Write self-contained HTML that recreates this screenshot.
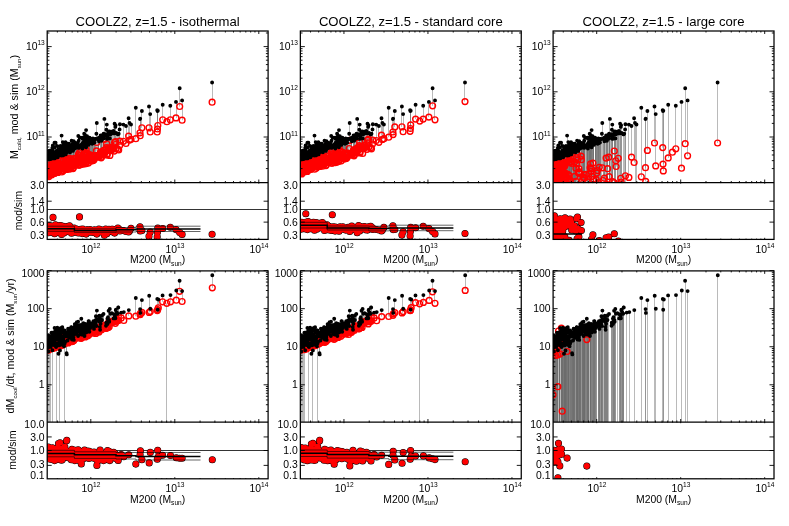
<!DOCTYPE html>
<html lang="en"><head><meta charset="utf-8"><title>COOLZ2 z=1.5 cooling comparison</title>
<style>html,body{margin:0;padding:0;background:#fff;}body{width:789px;height:526px;overflow:hidden;}svg{display:block;will-change:transform;font-family:"Liberation Sans",sans-serif;fill:#000;}.fr{fill:none;stroke:#000;stroke-width:1.25;}.tk{fill:none;stroke:#000;stroke-width:0.9;}.ln{fill:none;stroke:#6c6c6c;stroke-width:1.00;stroke-opacity:0.47;}.rg{fill:none;stroke:#ff0000;stroke-width:1.4;}.bk{fill:none;stroke:#000;stroke-width:3.9;stroke-linecap:round;}.rk{fill:none;stroke:#000;stroke-width:7.1;stroke-linecap:round;}.rc{fill:none;stroke:#ff0000;stroke-width:6.1;stroke-linecap:round;}.md{fill:none;stroke:#000;stroke-width:1.5;}.sg{fill:none;stroke:#000;stroke-width:0.6;}.one{fill:none;stroke:#000;stroke-width:0.8;}</style></head><body>
<svg width="789" height="526" viewBox="0 0 789 526">
<rect x="0" y="0" width="789" height="526" fill="#fff"/>
<defs>
<clipPath id="ct0"><rect x="47.20" y="31.00" width="220.90" height="151.50"/></clipPath>
<clipPath id="cr0"><rect x="47.20" y="182.50" width="220.90" height="56.90"/></clipPath>
<clipPath id="cb0"><rect x="47.20" y="270.90" width="220.90" height="151.10"/></clipPath>
<clipPath id="cs0"><rect x="47.20" y="422.00" width="220.90" height="56.80"/></clipPath>
<clipPath id="ct1"><rect x="300.35" y="31.00" width="220.90" height="151.50"/></clipPath>
<clipPath id="cr1"><rect x="300.35" y="182.50" width="220.90" height="56.90"/></clipPath>
<clipPath id="cb1"><rect x="300.35" y="270.90" width="220.90" height="151.10"/></clipPath>
<clipPath id="cs1"><rect x="300.35" y="422.00" width="220.90" height="56.80"/></clipPath>
<clipPath id="ct2"><rect x="553.10" y="31.00" width="220.90" height="151.50"/></clipPath>
<clipPath id="cr2"><rect x="553.10" y="182.50" width="220.90" height="56.90"/></clipPath>
<clipPath id="cb2"><rect x="553.10" y="270.90" width="220.90" height="151.10"/></clipPath>
<clipPath id="cs2"><rect x="553.10" y="422.00" width="220.90" height="56.80"/></clipPath>
</defs>
<text x="157.65" y="26.40" font-size="13.10" text-anchor="middle">COOLZ2, z=1.5 - isothermal</text>
<g clip-path="url(#ct0)">
<path class="ln" d="M47.5 152.1V168.1M48.5 151.3V166.9M48.5 155.6V169.0M48.5 157.0V175.5M49.5 150.7V167.3M49.5 154.9V172.8M49.5 155.9V169.0M49.5 159.2V172.7M50.5 156.5V170.2M50.5 159.0V173.0M51.5 155.3V169.2M51.5 156.6V173.0M52.5 148.0V164.4M52.5 153.6V169.6M52.5 154.7V161.0M53.5 153.1V169.2M53.5 157.5V171.6M54.5 154.3V169.5M55.5 152.7V164.8M55.5 154.8V169.6M56.5 153.7V169.6M57.5 150.7V166.2M57.5 152.0V167.1M58.5 149.1V163.3M58.5 152.8V166.8M59.5 151.0V164.4M59.5 154.4V169.3M60.5 149.4V166.0M60.5 153.0V168.8M61.5 149.5V165.2M61.5 152.8V168.4M63.5 144.4V159.8M63.5 150.6V165.6M63.5 152.5V168.3M64.5 149.3V165.3M65.5 145.1V159.5M65.5 149.3V163.9M65.5 151.8V167.5M66.5 150.1V163.7M67.5 149.1V166.0M68.5 145.6V160.7M68.5 150.2V165.0M69.5 149.1V164.9M70.5 148.6V163.7M70.5 152.3V167.4M72.5 144.5V161.1M73.5 145.9V162.4M73.5 149.3V164.3M74.5 146.7V164.3M76.5 143.6V160.5M77.5 143.9V161.0M78.5 136.0V154.6M78.5 145.6V162.0M79.5 146.9V165.2M81.5 145.6V162.7M82.5 148.6V164.2M83.5 146.0V162.7M84.5 146.3V164.0M85.5 143.4V159.9M86.5 144.9V162.0M87.5 139.9V156.3M88.5 144.9V162.9M89.5 142.4V159.4M91.5 138.9V155.7M92.5 138.9V156.1M93.5 143.2V160.3M95.5 138.9V156.4M97.5 138.8V156.0M98.5 141.2V157.2M101.5 137.9V154.0M103.5 133.8V150.4M103.5 138.6V154.8M106.5 124.6V143.8M108.5 131.8V148.2M109.5 138.4V155.4M111.5 132.1V149.7M114.5 133.4V151.1M117.5 134.4V149.2M123.5 124.6V141.3M131.5 124.5V139.3M141.5 111.0V127.8M157.5 110.7V125.5M176.5 101.9V117.9"/>
<path class="ln" d="M47.5 156.4V170.1M48.5 152.2V165.1M48.5 156.1V169.8M48.5 157.5V173.1M49.5 153.0V167.5M49.5 155.6V168.8M49.5 156.2V169.5M50.5 151.6V169.3M50.5 157.2V171.2M51.5 153.6V168.5M51.5 155.7V169.7M51.5 156.8V173.1M52.5 150.1V165.9M52.5 154.2V171.2M52.5 156.6V172.8M53.5 154.6V170.0M54.5 142.7V162.0M54.5 156.7V173.3M55.5 153.5V170.5M55.5 156.0V172.0M56.5 156.8V170.2M57.5 151.5V166.9M57.5 154.1V167.9M58.5 150.3V165.3M58.5 153.8V172.0M59.5 152.1V167.9M59.5 155.4V170.0M60.5 151.9V168.7M60.5 153.1V165.8M61.5 149.7V166.1M61.5 153.6V167.6M63.5 147.1V165.3M63.5 150.8V164.8M63.5 155.3V168.7M64.5 151.3V165.9M65.5 146.9V163.4M65.5 150.4V165.0M65.5 154.4V169.1M66.5 151.2V167.2M67.5 149.7V165.5M68.5 146.1V161.6M69.5 145.6V158.4M69.5 149.7V165.9M70.5 150.0V165.4M71.5 140.8V159.6M72.5 148.6V166.5M73.5 146.3V163.9M73.5 150.0V167.4M75.5 142.9V158.4M76.5 145.4V163.6M77.5 144.9V162.4M78.5 140.7V157.0M78.5 147.9V165.1M80.5 146.1V161.8M82.5 137.6V156.8M83.5 143.5V160.5M84.5 133.7V151.9M85.5 135.8V152.9M86.5 130.1V149.6M86.5 147.3V163.7M87.5 140.7V158.1M89.5 137.8V154.6M90.5 140.4V157.5M91.5 142.0V159.8M92.5 141.9V159.5M94.5 139.4V156.5M95.5 139.0V155.5M98.5 137.8V154.5M100.5 135.5V151.8M101.5 139.9V157.8M103.5 135.3V151.9M104.5 118.9V139.3M106.5 129.8V147.7M108.5 133.8V150.6M110.5 132.6V149.4M112.5 133.2V148.8M115.5 125.3V141.5M118.5 133.7V150.0M126.5 126.0V143.5M135.5 107.7V138.7M149.5 106.5V127.8M157.5 111.0V129.0M179.5 88.2V106.5"/>
<path class="ln" d="M47.5 156.7V172.2M48.5 152.9V170.0M48.5 156.4V174.1M48.5 159.1V174.6M49.5 153.6V169.6M49.5 155.7V172.3M49.5 157.9V175.0M50.5 153.5V168.2M50.5 157.6V172.9M51.5 154.2V169.7M51.5 156.2V173.2M51.5 158.5V174.8M52.5 150.9V167.0M52.5 154.3V171.4M53.5 151.8V170.3M53.5 155.9V170.3M54.5 147.3V162.8M54.5 158.4V173.0M55.5 153.6V168.3M55.5 158.0V172.9M57.5 146.0V162.7M57.5 151.5V167.4M57.5 156.5V170.5M58.5 150.5V165.6M58.5 154.3V168.1M59.5 152.1V167.6M60.5 146.0V160.1M60.5 151.9V165.5M61.5 135.6V155.4M61.5 150.6V166.6M61.5 155.6V172.0M63.5 147.2V163.9M63.5 151.3V165.1M63.5 155.4V170.8M64.5 153.1V168.8M65.5 147.7V161.7M65.5 150.7V166.0M66.5 143.2V160.7M66.5 152.8V169.4M67.5 152.0V169.1M68.5 148.9V162.5M69.5 147.3V162.6M69.5 151.0V165.5M70.5 150.4V166.5M71.5 145.4V162.0M73.5 141.1V158.7M73.5 146.9V162.6M73.5 150.9V168.6M75.5 145.7V163.2M76.5 147.3V163.4M77.5 145.6V163.4M78.5 144.6V161.0M79.5 137.5V155.7M80.5 146.6V164.7M82.5 138.7V156.0M83.5 145.1V162.8M84.5 139.2V157.3M85.5 135.8V154.2M86.5 139.4V157.6M87.5 136.3V153.2M87.5 142.9V159.1M89.5 141.5V157.4M90.5 142.0V160.0M91.5 143.1V161.0M92.5 143.8V160.7M94.5 140.1V157.2M96.5 123.0V142.5M98.5 139.6V156.3M100.5 137.6V154.1M101.5 140.7V157.2M103.5 135.7V152.6M105.5 134.1V149.7M107.5 136.5V153.8M109.5 131.4V148.4M110.5 134.4V150.6M113.5 130.9V148.8M115.5 126.9V144.5M119.5 124.2V141.2M128.5 118.2V136.1M140.5 118.6V135.7M150.5 114.1V132.0M162.5 104.7V119.8M182.5 100.4V120.2"/>
<path class="ln" d="M47.5 158.4V173.4M48.5 155.2V171.3M48.5 156.8V173.9M48.5 159.3V176.6M49.5 154.9V170.1M49.5 155.8V173.1M49.5 158.3V172.8M50.5 155.8V171.5M50.5 158.6V174.1M51.5 154.3V167.4M51.5 156.4V172.0M52.5 145.4V158.7M52.5 151.0V167.6M52.5 154.4V172.7M53.5 152.4V170.1M53.5 156.7V173.1M54.5 152.3V166.6M55.5 142.8V158.8M55.5 154.5V170.1M56.5 150.7V168.4M57.5 150.1V163.7M57.5 151.9V168.1M57.5 157.3V172.4M58.5 150.9V167.6M58.5 154.5V171.9M59.5 153.1V166.0M60.5 149.0V164.6M60.5 152.2V168.6M61.5 148.9V166.2M61.5 150.7V165.2M62.5 142.1V156.0M63.5 149.3V168.0M63.5 151.3V169.5M64.5 146.7V164.5M65.5 142.1V157.5M65.5 148.9V164.3M65.5 151.8V166.2M66.5 147.0V162.8M67.5 147.6V162.7M68.5 143.7V159.9M68.5 149.0V165.9M69.5 148.5V165.2M69.5 151.2V169.1M70.5 151.2V167.7M71.5 149.3V166.0M73.5 144.3V161.1M73.5 147.3V165.0M74.5 146.5V161.3M75.5 148.1V165.0M77.5 143.1V160.2M77.5 146.3V162.5M78.5 145.2V161.6M79.5 146.7V152.6M81.5 144.0V160.5M82.5 142.7V158.3M83.5 145.6V162.4M84.5 140.1V157.5M85.5 142.2V159.3M86.5 142.5V158.5M87.5 139.1V156.5M88.5 141.0V158.5M89.5 142.4V158.4M90.5 143.1V161.0M92.5 138.5V156.8M93.5 142.6V159.9M94.5 142.6V158.8M96.5 133.7V150.9M98.5 140.7V156.2M101.5 135.5V152.3M102.5 138.6V154.9M103.5 136.9V154.0M105.5 134.8V151.9M107.5 138.9V155.1M109.5 132.7V148.4M111.5 131.7V147.3M114.5 123.7V142.4M116.5 133.0V148.6M119.5 129.4V145.4M129.5 123.0V140.1M140.5 119.1V132.8M157.5 110.2V132.0M170.5 105.7V119.8M212.5 82.5V102.2"/>
<g class="rg"><circle cx="47.5" cy="172.2" r="2.9"/><circle cx="47.7" cy="173.4" r="2.9"/><circle cx="47.8" cy="170.1" r="2.9"/><circle cx="47.8" cy="168.1" r="2.9"/><circle cx="48.2" cy="166.9" r="2.9"/><circle cx="48.2" cy="173.9" r="2.9"/><circle cx="48.3" cy="173.1" r="2.9"/><circle cx="48.4" cy="170.0" r="2.9"/><circle cx="48.5" cy="174.6" r="2.9"/><circle cx="48.6" cy="169.0" r="2.9"/><circle cx="48.6" cy="171.3" r="2.9"/><circle cx="48.7" cy="175.5" r="2.9"/><circle cx="48.8" cy="169.8" r="2.9"/><circle cx="48.8" cy="165.1" r="2.9"/><circle cx="48.9" cy="176.6" r="2.9"/><circle cx="49.0" cy="174.1" r="2.9"/><circle cx="49.1" cy="175.0" r="2.9"/><circle cx="49.2" cy="169.6" r="2.9"/><circle cx="49.2" cy="172.7" r="2.9"/><circle cx="49.2" cy="170.1" r="2.9"/><circle cx="49.3" cy="169.0" r="2.9"/><circle cx="49.4" cy="167.5" r="2.9"/><circle cx="49.4" cy="173.1" r="2.9"/><circle cx="49.5" cy="168.8" r="2.9"/><circle cx="49.6" cy="172.3" r="2.9"/><circle cx="49.7" cy="167.3" r="2.9"/><circle cx="49.8" cy="169.5" r="2.9"/><circle cx="49.8" cy="172.8" r="2.9"/><circle cx="49.9" cy="172.8" r="2.9"/><circle cx="50.4" cy="168.2" r="2.9"/><circle cx="50.4" cy="171.5" r="2.9"/><circle cx="50.4" cy="171.2" r="2.9"/><circle cx="50.5" cy="174.1" r="2.9"/><circle cx="50.7" cy="172.9" r="2.9"/><circle cx="50.9" cy="169.3" r="2.9"/><circle cx="50.9" cy="170.2" r="2.9"/><circle cx="50.9" cy="173.0" r="2.9"/><circle cx="51.2" cy="169.7" r="2.9"/><circle cx="51.3" cy="167.4" r="2.9"/><circle cx="51.4" cy="173.2" r="2.9"/><circle cx="51.7" cy="169.7" r="2.9"/><circle cx="51.8" cy="173.1" r="2.9"/><circle cx="51.8" cy="169.2" r="2.9"/><circle cx="51.8" cy="174.8" r="2.9"/><circle cx="51.9" cy="172.0" r="2.9"/><circle cx="51.9" cy="168.5" r="2.9"/><circle cx="52.0" cy="173.0" r="2.9"/><circle cx="52.3" cy="171.4" r="2.9"/><circle cx="52.3" cy="164.4" r="2.9"/><circle cx="52.3" cy="171.2" r="2.9"/><circle cx="52.4" cy="167.6" r="2.9"/><circle cx="52.4" cy="165.9" r="2.9"/><circle cx="52.8" cy="169.6" r="2.9"/><circle cx="52.8" cy="158.7" r="2.9"/><circle cx="52.8" cy="167.0" r="2.9"/><circle cx="52.9" cy="172.7" r="2.9"/><circle cx="53.0" cy="172.8" r="2.9"/><circle cx="53.0" cy="161.0" r="2.9"/><circle cx="53.1" cy="170.3" r="2.9"/><circle cx="53.1" cy="170.1" r="2.9"/><circle cx="53.1" cy="170.3" r="2.9"/><circle cx="53.5" cy="173.1" r="2.9"/><circle cx="53.6" cy="169.2" r="2.9"/><circle cx="53.8" cy="170.0" r="2.9"/><circle cx="54.0" cy="171.6" r="2.9"/><circle cx="54.1" cy="166.6" r="2.9"/><circle cx="54.4" cy="162.8" r="2.9"/><circle cx="54.5" cy="173.3" r="2.9"/><circle cx="54.7" cy="173.0" r="2.9"/><circle cx="54.8" cy="169.5" r="2.9"/><circle cx="55.1" cy="172.9" r="2.9"/><circle cx="55.4" cy="164.8" r="2.9"/><circle cx="55.4" cy="169.6" r="2.9"/><circle cx="55.5" cy="168.3" r="2.9"/><circle cx="55.6" cy="158.8" r="2.9"/><circle cx="55.8" cy="170.1" r="2.9"/><circle cx="55.8" cy="172.0" r="2.9"/><circle cx="56.0" cy="170.5" r="2.9"/><circle cx="56.0" cy="169.6" r="2.9"/><circle cx="56.5" cy="170.2" r="2.9"/><circle cx="56.9" cy="168.4" r="2.9"/><circle cx="57.0" cy="163.7" r="2.9"/><circle cx="57.1" cy="162.7" r="2.9"/><circle cx="57.2" cy="166.2" r="2.9"/><circle cx="57.2" cy="170.5" r="2.9"/><circle cx="57.2" cy="167.9" r="2.9"/><circle cx="57.2" cy="166.9" r="2.9"/><circle cx="57.4" cy="167.1" r="2.9"/><circle cx="57.7" cy="172.4" r="2.9"/><circle cx="57.7" cy="168.1" r="2.9"/><circle cx="57.7" cy="167.4" r="2.9"/><circle cx="58.1" cy="172.0" r="2.9"/><circle cx="58.2" cy="171.9" r="2.9"/><circle cx="58.5" cy="165.6" r="2.9"/><circle cx="58.5" cy="167.6" r="2.9"/><circle cx="58.5" cy="165.3" r="2.9"/><circle cx="58.6" cy="168.1" r="2.9"/><circle cx="58.8" cy="166.8" r="2.9"/><circle cx="58.9" cy="163.3" r="2.9"/><circle cx="59.2" cy="170.0" r="2.9"/><circle cx="59.3" cy="169.3" r="2.9"/><circle cx="59.3" cy="167.6" r="2.9"/><circle cx="59.4" cy="167.9" r="2.9"/><circle cx="59.5" cy="166.0" r="2.9"/><circle cx="59.7" cy="164.4" r="2.9"/><circle cx="60.0" cy="166.0" r="2.9"/><circle cx="60.4" cy="168.8" r="2.9"/><circle cx="60.5" cy="160.1" r="2.9"/><circle cx="60.6" cy="165.8" r="2.9"/><circle cx="60.7" cy="164.6" r="2.9"/><circle cx="60.8" cy="165.5" r="2.9"/><circle cx="60.8" cy="168.7" r="2.9"/><circle cx="60.8" cy="168.6" r="2.9"/><circle cx="61.0" cy="166.1" r="2.9"/><circle cx="61.2" cy="166.2" r="2.9"/><circle cx="61.2" cy="166.6" r="2.9"/><circle cx="61.2" cy="165.2" r="2.9"/><circle cx="61.3" cy="165.2" r="2.9"/><circle cx="61.6" cy="168.4" r="2.9"/><circle cx="61.7" cy="167.6" r="2.9"/><circle cx="61.8" cy="172.0" r="2.9"/><circle cx="62.8" cy="156.0" r="2.9"/><circle cx="63.2" cy="170.8" r="2.9"/><circle cx="63.3" cy="168.7" r="2.9"/><circle cx="63.3" cy="164.8" r="2.9"/><circle cx="63.5" cy="163.9" r="2.9"/><circle cx="63.6" cy="159.8" r="2.9"/><circle cx="63.6" cy="169.5" r="2.9"/><circle cx="63.7" cy="165.3" r="2.9"/><circle cx="63.8" cy="165.1" r="2.9"/><circle cx="63.9" cy="165.6" r="2.9"/><circle cx="63.9" cy="168.0" r="2.9"/><circle cx="63.9" cy="168.3" r="2.9"/><circle cx="64.5" cy="168.8" r="2.9"/><circle cx="64.6" cy="164.5" r="2.9"/><circle cx="64.8" cy="165.9" r="2.9"/><circle cx="65.0" cy="165.3" r="2.9"/><circle cx="65.1" cy="164.3" r="2.9"/><circle cx="65.2" cy="159.5" r="2.9"/><circle cx="65.2" cy="166.2" r="2.9"/><circle cx="65.4" cy="163.9" r="2.9"/><circle cx="65.5" cy="157.5" r="2.9"/><circle cx="65.5" cy="167.5" r="2.9"/><circle cx="65.6" cy="163.4" r="2.9"/><circle cx="65.7" cy="166.0" r="2.9"/><circle cx="65.7" cy="169.1" r="2.9"/><circle cx="65.7" cy="165.0" r="2.9"/><circle cx="66.0" cy="161.7" r="2.9"/><circle cx="66.2" cy="162.8" r="2.9"/><circle cx="66.4" cy="169.4" r="2.9"/><circle cx="66.5" cy="163.7" r="2.9"/><circle cx="66.9" cy="167.2" r="2.9"/><circle cx="67.2" cy="169.1" r="2.9"/><circle cx="67.7" cy="165.5" r="2.9"/><circle cx="67.7" cy="166.0" r="2.9"/><circle cx="67.8" cy="162.7" r="2.9"/><circle cx="68.1" cy="160.7" r="2.9"/><circle cx="68.4" cy="161.6" r="2.9"/><circle cx="68.9" cy="159.9" r="2.9"/><circle cx="68.9" cy="162.5" r="2.9"/><circle cx="69.0" cy="165.0" r="2.9"/><circle cx="69.0" cy="165.9" r="2.9"/><circle cx="69.0" cy="165.9" r="2.9"/><circle cx="69.0" cy="165.5" r="2.9"/><circle cx="69.1" cy="162.6" r="2.9"/><circle cx="69.4" cy="165.2" r="2.9"/><circle cx="69.5" cy="158.4" r="2.9"/><circle cx="69.7" cy="169.1" r="2.9"/><circle cx="69.9" cy="164.9" r="2.9"/><circle cx="70.0" cy="165.4" r="2.9"/><circle cx="70.1" cy="167.4" r="2.9"/><circle cx="70.4" cy="167.7" r="2.9"/><circle cx="70.5" cy="163.7" r="2.9"/><circle cx="71.0" cy="166.5" r="2.9"/><circle cx="71.2" cy="162.0" r="2.9"/><circle cx="71.9" cy="166.0" r="2.9"/><circle cx="72.0" cy="166.5" r="2.9"/><circle cx="72.4" cy="161.1" r="2.9"/><circle cx="73.0" cy="168.6" r="2.9"/><circle cx="73.2" cy="163.9" r="2.9"/><circle cx="73.2" cy="164.3" r="2.9"/><circle cx="73.4" cy="162.6" r="2.9"/><circle cx="73.4" cy="167.4" r="2.9"/><circle cx="73.5" cy="161.1" r="2.9"/><circle cx="73.6" cy="162.4" r="2.9"/><circle cx="73.7" cy="158.7" r="2.9"/><circle cx="73.9" cy="165.0" r="2.9"/><circle cx="74.1" cy="161.3" r="2.9"/><circle cx="74.3" cy="164.3" r="2.9"/><circle cx="75.6" cy="163.2" r="2.9"/><circle cx="75.6" cy="165.0" r="2.9"/><circle cx="75.9" cy="158.4" r="2.9"/><circle cx="76.1" cy="163.6" r="2.9"/><circle cx="76.6" cy="160.5" r="2.9"/><circle cx="76.8" cy="163.4" r="2.9"/><circle cx="77.1" cy="162.4" r="2.9"/><circle cx="77.5" cy="161.0" r="2.9"/><circle cx="77.6" cy="163.4" r="2.9"/><circle cx="77.7" cy="160.2" r="2.9"/><circle cx="77.7" cy="162.5" r="2.9"/><circle cx="78.1" cy="161.0" r="2.9"/><circle cx="78.4" cy="161.6" r="2.9"/><circle cx="78.7" cy="157.0" r="2.9"/><circle cx="78.7" cy="165.1" r="2.9"/><circle cx="78.9" cy="162.0" r="2.9"/><circle cx="79.2" cy="165.2" r="2.9"/><circle cx="79.5" cy="152.6" r="2.9"/><circle cx="79.6" cy="155.7" r="2.9"/><circle cx="80.5" cy="164.7" r="2.9"/><circle cx="80.6" cy="161.8" r="2.9"/><circle cx="81.6" cy="162.7" r="2.9"/><circle cx="81.8" cy="160.5" r="2.9"/><circle cx="82.2" cy="156.8" r="2.9"/><circle cx="82.4" cy="156.0" r="2.9"/><circle cx="82.4" cy="164.2" r="2.9"/><circle cx="82.8" cy="158.3" r="2.9"/><circle cx="83.2" cy="162.4" r="2.9"/><circle cx="83.4" cy="160.5" r="2.9"/><circle cx="83.5" cy="162.7" r="2.9"/><circle cx="83.9" cy="162.8" r="2.9"/><circle cx="84.3" cy="164.0" r="2.9"/><circle cx="84.3" cy="157.5" r="2.9"/><circle cx="84.6" cy="157.3" r="2.9"/><circle cx="85.1" cy="152.9" r="2.9"/><circle cx="85.2" cy="159.9" r="2.9"/><circle cx="85.4" cy="154.2" r="2.9"/><circle cx="85.4" cy="159.3" r="2.9"/><circle cx="86.0" cy="162.0" r="2.9"/><circle cx="86.1" cy="163.7" r="2.9"/><circle cx="86.3" cy="157.6" r="2.9"/><circle cx="86.8" cy="158.5" r="2.9"/><circle cx="87.1" cy="153.2" r="2.9"/><circle cx="87.4" cy="159.1" r="2.9"/><circle cx="87.7" cy="156.5" r="2.9"/><circle cx="87.7" cy="156.3" r="2.9"/><circle cx="87.9" cy="158.1" r="2.9"/><circle cx="88.1" cy="158.5" r="2.9"/><circle cx="88.4" cy="162.9" r="2.9"/><circle cx="89.5" cy="159.4" r="2.9"/><circle cx="89.6" cy="154.6" r="2.9"/><circle cx="89.6" cy="158.4" r="2.9"/><circle cx="90.0" cy="157.4" r="2.9"/><circle cx="90.3" cy="161.0" r="2.9"/><circle cx="90.7" cy="160.0" r="2.9"/><circle cx="90.7" cy="157.5" r="2.9"/><circle cx="91.3" cy="159.8" r="2.9"/><circle cx="91.7" cy="155.7" r="2.9"/><circle cx="91.9" cy="161.0" r="2.9"/><circle cx="92.2" cy="160.7" r="2.9"/><circle cx="92.9" cy="156.8" r="2.9"/><circle cx="92.9" cy="159.5" r="2.9"/><circle cx="93.0" cy="156.1" r="2.9"/><circle cx="93.2" cy="160.3" r="2.9"/><circle cx="93.8" cy="159.9" r="2.9"/><circle cx="94.1" cy="157.2" r="2.9"/><circle cx="94.5" cy="158.8" r="2.9"/><circle cx="95.0" cy="156.5" r="2.9"/><circle cx="95.1" cy="156.4" r="2.9"/><circle cx="95.3" cy="155.5" r="2.9"/><circle cx="96.4" cy="150.9" r="2.9"/><circle cx="97.6" cy="156.0" r="2.9"/><circle cx="98.4" cy="156.3" r="2.9"/><circle cx="98.8" cy="154.5" r="2.9"/><circle cx="98.9" cy="156.2" r="2.9"/><circle cx="98.9" cy="157.2" r="2.9"/><circle cx="100.4" cy="154.1" r="2.9"/><circle cx="100.6" cy="151.8" r="2.9"/><circle cx="101.1" cy="157.8" r="2.9"/><circle cx="101.4" cy="157.2" r="2.9"/><circle cx="101.5" cy="154.0" r="2.9"/><circle cx="101.6" cy="152.3" r="2.9"/><circle cx="102.2" cy="154.9" r="2.9"/><circle cx="103.2" cy="151.9" r="2.9"/><circle cx="103.6" cy="150.4" r="2.9"/><circle cx="103.6" cy="154.8" r="2.9"/><circle cx="103.7" cy="154.0" r="2.9"/><circle cx="103.9" cy="152.6" r="2.9"/><circle cx="105.1" cy="151.9" r="2.9"/><circle cx="105.7" cy="149.7" r="2.9"/><circle cx="106.4" cy="147.7" r="2.9"/><circle cx="107.1" cy="155.1" r="2.9"/><circle cx="107.2" cy="153.8" r="2.9"/><circle cx="108.6" cy="150.6" r="2.9"/><circle cx="108.8" cy="148.2" r="2.9"/><circle cx="109.0" cy="148.4" r="2.9"/><circle cx="109.6" cy="148.4" r="2.9"/><circle cx="109.9" cy="155.4" r="2.9"/><circle cx="110.3" cy="150.6" r="2.9"/><circle cx="110.6" cy="149.4" r="2.9"/><circle cx="111.6" cy="147.3" r="2.9"/><circle cx="111.6" cy="149.7" r="2.9"/><circle cx="112.8" cy="148.8" r="2.9"/><circle cx="113.5" cy="148.8" r="2.9"/><circle cx="114.2" cy="151.1" r="2.9"/><circle cx="115.3" cy="144.5" r="2.9"/><circle cx="115.6" cy="141.5" r="2.9"/><circle cx="116.2" cy="148.6" r="2.9"/><circle cx="117.9" cy="149.2" r="2.9"/><circle cx="118.7" cy="150.0" r="2.9"/><circle cx="119.6" cy="145.4" r="2.9"/><circle cx="61.6" cy="155.4" r="2.9"/><circle cx="54.5" cy="162.0" r="2.9"/><circle cx="66.4" cy="160.7" r="2.9"/><circle cx="71.6" cy="159.6" r="2.9"/><circle cx="78.3" cy="154.6" r="2.9"/><circle cx="86.1" cy="149.6" r="2.9"/><circle cx="84.2" cy="151.9" r="2.9"/><circle cx="96.8" cy="142.5" r="2.9"/><circle cx="104.4" cy="139.3" r="2.9"/><circle cx="106.8" cy="143.8" r="2.9"/><circle cx="114.6" cy="142.4" r="2.9"/><circle cx="119.9" cy="141.2" r="2.9"/><circle cx="123.4" cy="141.3" r="2.9"/><circle cx="128.6" cy="136.1" r="2.9"/><circle cx="131.0" cy="139.3" r="2.9"/><circle cx="126.0" cy="143.5" r="2.9"/><circle cx="129.5" cy="140.1" r="2.9"/><circle cx="212.1" cy="102.2" r="2.9"/><circle cx="179.7" cy="106.5" r="2.9"/><circle cx="182.1" cy="120.2" r="2.9"/><circle cx="176.0" cy="117.9" r="2.9"/><circle cx="170.3" cy="119.8" r="2.9"/><circle cx="166.9" cy="121.7" r="2.9"/><circle cx="162.7" cy="119.8" r="2.9"/><circle cx="157.8" cy="125.5" r="2.9"/><circle cx="157.5" cy="129.0" r="2.9"/><circle cx="157.2" cy="132.0" r="2.9"/><circle cx="149.0" cy="127.8" r="2.9"/><circle cx="150.2" cy="132.0" r="2.9"/><circle cx="141.9" cy="127.8" r="2.9"/><circle cx="140.0" cy="132.8" r="2.9"/><circle cx="140.2" cy="135.7" r="2.9"/><circle cx="135.8" cy="138.7" r="2.9"/></g>
<path class="bk" d="M47.5 156.7h0M47.7 158.4h0M47.8 156.4h0M47.8 152.1h0M48.2 151.3h0M48.2 156.8h0M48.3 157.5h0M48.4 152.9h0M48.5 159.1h0M48.6 155.6h0M48.6 155.2h0M48.7 157.0h0M48.8 156.1h0M48.8 152.2h0M48.9 159.3h0M49.0 156.4h0M49.1 157.9h0M49.2 153.6h0M49.2 159.2h0M49.2 154.9h0M49.3 155.9h0M49.4 153.0h0M49.4 155.8h0M49.5 155.6h0M49.6 155.7h0M49.7 150.7h0M49.8 156.2h0M49.8 158.3h0M49.9 154.9h0M50.4 153.5h0M50.4 155.8h0M50.4 157.2h0M50.5 158.6h0M50.7 157.6h0M50.9 151.6h0M50.9 156.5h0M50.9 159.0h0M51.2 155.7h0M51.3 154.3h0M51.4 156.2h0M51.7 154.2h0M51.8 156.8h0M51.8 155.3h0M51.8 158.5h0M51.9 156.4h0M51.9 153.6h0M52.0 156.6h0M52.3 154.3h0M52.3 148.0h0M52.3 154.2h0M52.4 151.0h0M52.4 150.1h0M52.8 153.6h0M52.8 145.4h0M52.8 150.9h0M52.9 154.4h0M53.0 156.6h0M53.0 154.7h0M53.1 155.9h0M53.1 152.4h0M53.1 151.8h0M53.5 156.7h0M53.6 153.1h0M53.8 154.6h0M54.0 157.5h0M54.1 152.3h0M54.4 147.3h0M54.5 156.7h0M54.7 158.4h0M54.8 154.3h0M55.1 158.0h0M55.4 152.7h0M55.4 154.8h0M55.5 153.6h0M55.6 142.8h0M55.8 154.5h0M55.8 156.0h0M56.0 153.5h0M56.0 153.7h0M56.5 156.8h0M56.9 150.7h0M57.0 150.1h0M57.1 146.0h0M57.2 150.7h0M57.2 156.5h0M57.2 154.1h0M57.2 151.5h0M57.4 152.0h0M57.7 157.3h0M57.7 151.9h0M57.7 151.5h0M58.1 153.8h0M58.2 154.5h0M58.5 150.5h0M58.5 150.9h0M58.5 150.3h0M58.6 154.3h0M58.8 152.8h0M58.9 149.1h0M59.2 155.4h0M59.3 154.4h0M59.3 152.1h0M59.4 152.1h0M59.5 153.1h0M59.7 151.0h0M60.0 149.4h0M60.4 153.0h0M60.5 146.0h0M60.6 153.1h0M60.7 149.0h0M60.8 151.9h0M60.8 151.9h0M60.8 152.2h0M61.0 149.7h0M61.2 148.9h0M61.2 150.6h0M61.2 149.5h0M61.3 150.7h0M61.6 152.8h0M61.7 153.6h0M61.8 155.6h0M62.8 142.1h0M63.2 155.4h0M63.3 155.3h0M63.3 150.8h0M63.5 147.2h0M63.6 144.4h0M63.6 151.3h0M63.7 147.1h0M63.8 151.3h0M63.9 150.6h0M63.9 149.3h0M63.9 152.5h0M64.5 153.1h0M64.6 146.7h0M64.8 151.3h0M65.0 149.3h0M65.1 148.9h0M65.2 145.1h0M65.2 151.8h0M65.4 149.3h0M65.5 142.1h0M65.5 151.8h0M65.6 146.9h0M65.7 150.7h0M65.7 154.4h0M65.7 150.4h0M66.0 147.7h0M66.2 147.0h0M66.4 152.8h0M66.5 150.1h0M66.9 151.2h0M67.2 152.0h0M67.7 149.7h0M67.7 149.1h0M67.8 147.6h0M68.1 145.6h0M68.4 146.1h0M68.9 143.7h0M68.9 148.9h0M69.0 150.2h0M69.0 149.0h0M69.0 149.7h0M69.0 151.0h0M69.1 147.3h0M69.4 148.5h0M69.5 145.6h0M69.7 151.2h0M69.9 149.1h0M70.0 150.0h0M70.1 152.3h0M70.4 151.2h0M70.5 148.6h0M71.0 150.4h0M71.2 145.4h0M71.9 149.3h0M72.0 148.6h0M72.4 144.5h0M73.0 150.9h0M73.2 146.3h0M73.2 149.3h0M73.4 146.9h0M73.4 150.0h0M73.5 144.3h0M73.6 145.9h0M73.7 141.1h0M73.9 147.3h0M74.1 146.5h0M74.3 146.7h0M75.6 145.7h0M75.6 148.1h0M75.9 142.9h0M76.1 145.4h0M76.6 143.6h0M76.8 147.3h0M77.1 144.9h0M77.5 143.9h0M77.6 145.6h0M77.7 143.1h0M77.7 146.3h0M78.1 144.6h0M78.4 145.2h0M78.7 140.7h0M78.7 147.9h0M78.9 145.6h0M79.2 146.9h0M79.5 146.7h0M79.6 137.5h0M80.5 146.6h0M80.6 146.1h0M81.6 145.6h0M81.8 144.0h0M82.2 137.6h0M82.4 138.7h0M82.4 148.6h0M82.8 142.7h0M83.2 145.6h0M83.4 143.5h0M83.5 146.0h0M83.9 145.1h0M84.3 146.3h0M84.3 140.1h0M84.6 139.2h0M85.1 135.8h0M85.2 143.4h0M85.4 135.8h0M85.4 142.2h0M86.0 144.9h0M86.1 147.3h0M86.3 139.4h0M86.8 142.5h0M87.1 136.3h0M87.4 142.9h0M87.7 139.1h0M87.7 139.9h0M87.9 140.7h0M88.1 141.0h0M88.4 144.9h0M89.5 142.4h0M89.6 137.8h0M89.6 142.4h0M90.0 141.5h0M90.3 143.1h0M90.7 142.0h0M90.7 140.4h0M91.3 142.0h0M91.7 138.9h0M91.9 143.1h0M92.2 143.8h0M92.9 138.5h0M92.9 141.9h0M93.0 138.9h0M93.2 143.2h0M93.8 142.6h0M94.1 140.1h0M94.5 142.6h0M95.0 139.4h0M95.1 138.9h0M95.3 139.0h0M96.4 133.7h0M97.6 138.8h0M98.4 139.6h0M98.8 137.8h0M98.9 140.7h0M98.9 141.2h0M100.4 137.6h0M100.6 135.5h0M101.1 139.9h0M101.4 140.7h0M101.5 137.9h0M101.6 135.5h0M102.2 138.6h0M103.2 135.3h0M103.6 133.8h0M103.6 138.6h0M103.7 136.9h0M103.9 135.7h0M105.1 134.8h0M105.7 134.1h0M106.4 129.8h0M107.1 138.9h0M107.2 136.5h0M108.6 133.8h0M108.8 131.8h0M109.0 132.7h0M109.6 131.4h0M109.9 138.4h0M110.3 134.4h0M110.6 132.6h0M111.6 131.7h0M111.6 132.1h0M112.8 133.2h0M113.5 130.9h0M114.2 133.4h0M115.3 126.9h0M115.6 125.3h0M116.2 133.0h0M117.9 134.4h0M118.7 133.7h0M119.6 129.4h0M61.6 135.6h0M54.5 142.7h0M66.4 143.2h0M71.6 140.8h0M78.3 136.0h0M86.1 130.1h0M84.2 133.7h0M96.8 123.0h0M104.4 118.9h0M106.8 124.6h0M114.6 123.7h0M119.9 124.2h0M123.4 124.6h0M128.6 118.2h0M131.0 124.5h0M126.0 126.0h0M129.5 123.0h0M212.1 82.5h0M179.7 88.2h0M182.1 100.4h0M176.0 101.9h0M170.3 105.7h0M162.7 104.7h0M157.8 110.7h0M157.5 111.0h0M157.2 110.2h0M149.0 106.5h0M150.2 114.1h0M141.9 111.0h0M140.0 119.1h0M140.2 118.6h0M135.8 107.7h0"/>
</g>
<path class="one" d="M47.20 209.50H268.10"/>
<g clip-path="url(#cr0)">
<path class="rk" d="M212.1 234.3h0M182.1 234.4h0M179.7 232.5h0M176.0 229.6h0M170.3 227.2h0M162.7 228.5h0M157.8 228.1h0M157.5 232.2h0M157.2 236.9h0M150.2 232.0h0M149.0 236.3h0M141.9 230.6h0M140.2 231.0h0M140.0 226.7h0M131.0 228.2h0M129.5 231.0h0M128.6 232.0h0M126.0 231.5h0M123.4 230.5h0M119.9 230.9h0M119.6 229.6h0M118.7 230.0h0M117.9 228.1h0M116.2 229.2h0M115.6 229.9h0M115.3 231.7h0M114.6 233.1h0M114.2 231.7h0M113.5 232.0h0M112.8 229.2h0M111.6 231.6h0M111.6 229.2h0M110.6 230.7h0M110.3 229.9h0M109.9 230.9h0M109.6 230.9h0M109.0 229.2h0M108.8 230.1h0M108.6 230.7h0M107.2 231.2h0M107.1 229.9h0M106.8 233.7h0M106.4 232.0h0M105.7 229.1h0M105.1 231.1h0M104.4 235.2h0M103.9 230.7h0M103.7 231.0h0M103.6 229.8h0M103.6 230.4h0M103.2 230.3h0M102.2 230.0h0M101.6 230.6h0M101.5 229.8h0M101.4 230.3h0M101.1 232.0h0M100.6 230.0h0M100.4 230.4h0M98.9 229.6h0M98.9 229.1h0M98.8 230.5h0M98.4 230.5h0M97.6 231.2h0M96.8 234.1h0M96.4 231.1h0M95.3 230.3h0M95.1 231.5h0M95.0 231.1h0M94.5 229.9h0M94.1 231.0h0M93.8 231.2h0M93.2 231.0h0M93.0 231.2h0M92.9 231.6h0M92.9 232.5h0M92.2 230.7h0M91.9 232.0h0M91.7 230.6h0M91.3 231.9h0M90.7 230.9h0M90.7 232.2h0M90.3 232.0h0M90.0 229.5h0M89.6 229.7h0M89.6 230.7h0M89.5 230.9h0M88.4 232.1h0M88.1 231.6h0M87.9 231.4h0M87.7 230.1h0M87.7 231.4h0M87.4 229.8h0M87.1 230.8h0M86.8 229.7h0M86.3 232.4h0M86.1 234.1h0M86.1 230.1h0M86.0 231.1h0M85.4 231.0h0M85.4 232.7h0M85.2 230.2h0M85.1 231.0h0M84.6 232.3h0M84.3 231.5h0M84.3 231.7h0M84.2 232.5h0M83.9 231.8h0M83.5 230.6h0M83.4 231.0h0M83.2 230.7h0M82.8 229.1h0M82.4 229.2h0M82.4 231.3h0M82.2 233.6h0M81.8 230.2h0M81.6 231.0h0M80.6 229.3h0M80.5 232.3h0M79.6 232.4h0M79.5 216.9h0M79.2 232.6h0M78.9 230.0h0M78.7 231.1h0M78.7 230.1h0M78.4 230.2h0M78.3 232.9h0M78.1 230.1h0M77.7 230.0h0M77.7 231.1h0M77.6 231.9h0M77.5 231.0h0M77.1 231.5h0M76.8 229.9h0M76.6 230.7h0M76.1 232.4h0M75.9 228.9h0M75.6 230.8h0M75.6 231.6h0M74.3 231.7h0M74.1 228.1h0M73.9 231.8h0M73.7 231.7h0M73.6 230.3h0M73.5 230.7h0M73.4 231.4h0M73.4 229.3h0M73.2 228.3h0M73.2 231.6h0M73.0 231.8h0M72.4 230.3h0M72.0 232.1h0M71.9 230.5h0M71.6 233.2h0M71.2 230.4h0M71.0 229.9h0M70.5 228.4h0M70.4 230.3h0M70.1 228.5h0M70.0 228.9h0M69.9 229.4h0M69.7 231.9h0M69.5 225.7h0M69.4 230.4h0M69.1 228.7h0M69.0 227.7h0M69.0 230.0h0M69.0 230.8h0M69.0 228.1h0M68.9 226.6h0M68.9 229.9h0M68.4 229.0h0M68.1 228.5h0M67.8 228.5h0M67.7 230.8h0M67.7 229.5h0M67.2 231.1h0M66.9 229.6h0M66.5 226.6h0M66.4 231.5h0M66.4 230.4h0M66.2 229.3h0M66.0 227.2h0M65.7 227.9h0M65.7 228.0h0M65.7 228.7h0M65.6 230.2h0M65.5 229.2h0M65.5 228.9h0M65.4 227.9h0M65.2 227.7h0M65.2 227.5h0M65.1 228.8h0M65.0 229.7h0M64.8 227.8h0M64.6 231.8h0M64.5 229.2h0M63.9 229.4h0M63.9 233.0h0M63.9 228.4h0M63.8 226.9h0M63.7 232.4h0M63.6 232.4h0M63.6 228.9h0M63.5 230.6h0M63.3 227.1h0M63.3 226.4h0M63.2 229.0h0M62.8 227.1h0M61.8 230.2h0M61.7 227.1h0M61.6 234.4h0M61.6 229.1h0M61.3 227.9h0M61.2 229.3h0M61.2 229.6h0M61.2 231.3h0M61.0 230.1h0M60.8 230.2h0M60.8 230.7h0M60.8 226.6h0M60.7 229.2h0M60.6 225.5h0M60.5 227.3h0M60.4 229.4h0M60.0 230.4h0M59.7 226.3h0M59.5 225.6h0M59.4 229.4h0M59.3 228.9h0M59.3 228.1h0M59.2 227.9h0M58.9 227.3h0M58.8 227.1h0M58.6 226.9h0M58.5 228.3h0M58.5 230.5h0M58.5 228.5h0M58.2 231.4h0M58.1 232.4h0M57.7 229.5h0M57.7 229.9h0M57.7 228.5h0M57.4 228.6h0M57.2 228.9h0M57.2 226.9h0M57.2 227.1h0M57.2 229.0h0M57.1 230.5h0M57.0 226.6h0M56.9 231.8h0M56.5 226.3h0M56.0 229.5h0M56.0 230.8h0M55.8 229.6h0M55.8 229.1h0M55.6 229.6h0M55.5 228.0h0M55.4 228.2h0M55.4 224.7h0M55.1 228.3h0M54.8 228.7h0M54.7 227.9h0M54.5 233.8h0M54.5 230.4h0M54.4 229.1h0M54.1 227.5h0M54.0 227.3h0M53.8 228.9h0M53.6 229.7h0M53.5 230.1h0M53.1 232.7h0M53.1 231.8h0M53.1 227.6h0M53.0 217.4h0M53.0 229.8h0M52.9 232.5h0M52.8 229.7h0M52.8 226.2h0M52.8 229.6h0M52.4 229.5h0M52.4 230.4h0M52.3 230.9h0M52.3 230.2h0M52.3 231.0h0M52.0 230.1h0M51.9 228.2h0M51.9 229.1h0M51.8 230.0h0M51.8 227.0h0M51.8 230.0h0M51.7 229.0h0M51.4 231.0h0M51.3 226.0h0M51.2 227.2h0M50.9 227.2h0M50.9 226.8h0M50.9 231.8h0M50.7 228.8h0M50.5 229.0h0M50.4 227.0h0M50.4 229.3h0M50.4 227.9h0M49.9 232.0h0M49.8 227.8h0M49.8 226.3h0M49.7 230.3h0M49.6 230.4h0M49.5 226.1h0M49.4 231.3h0M49.4 227.7h0M49.3 225.9h0M49.2 228.7h0M49.2 226.6h0M49.2 229.7h0M49.1 231.0h0M49.0 231.8h0M48.9 231.3h0M48.8 225.7h0M48.8 226.8h0M48.7 232.7h0M48.6 229.7h0M48.6 226.3h0M48.5 229.1h0M48.4 231.1h0M48.3 229.2h0M48.2 231.0h0M48.2 229.2h0M47.8 229.6h0M47.8 226.7h0M47.7 228.4h0M47.5 229.0h0"/><path class="rc" d="M212.1 234.3h0M182.1 234.4h0M179.7 232.5h0M176.0 229.6h0M170.3 227.2h0M162.7 228.5h0M157.8 228.1h0M157.5 232.2h0M157.2 236.9h0M150.2 232.0h0M149.0 236.3h0M141.9 230.6h0M140.2 231.0h0M140.0 226.7h0M131.0 228.2h0M129.5 231.0h0M128.6 232.0h0M126.0 231.5h0M123.4 230.5h0M119.9 230.9h0M119.6 229.6h0M118.7 230.0h0M117.9 228.1h0M116.2 229.2h0M115.6 229.9h0M115.3 231.7h0M114.6 233.1h0M114.2 231.7h0M113.5 232.0h0M112.8 229.2h0M111.6 231.6h0M111.6 229.2h0M110.6 230.7h0M110.3 229.9h0M109.9 230.9h0M109.6 230.9h0M109.0 229.2h0M108.8 230.1h0M108.6 230.7h0M107.2 231.2h0M107.1 229.9h0M106.8 233.7h0M106.4 232.0h0M105.7 229.1h0M105.1 231.1h0M104.4 235.2h0M103.9 230.7h0M103.7 231.0h0M103.6 229.8h0M103.6 230.4h0M103.2 230.3h0M102.2 230.0h0M101.6 230.6h0M101.5 229.8h0M101.4 230.3h0M101.1 232.0h0M100.6 230.0h0M100.4 230.4h0M98.9 229.6h0M98.9 229.1h0M98.8 230.5h0M98.4 230.5h0M97.6 231.2h0M96.8 234.1h0M96.4 231.1h0M95.3 230.3h0M95.1 231.5h0M95.0 231.1h0M94.5 229.9h0M94.1 231.0h0M93.8 231.2h0M93.2 231.0h0M93.0 231.2h0M92.9 231.6h0M92.9 232.5h0M92.2 230.7h0M91.9 232.0h0M91.7 230.6h0M91.3 231.9h0M90.7 230.9h0M90.7 232.2h0M90.3 232.0h0M90.0 229.5h0M89.6 229.7h0M89.6 230.7h0M89.5 230.9h0M88.4 232.1h0M88.1 231.6h0M87.9 231.4h0M87.7 230.1h0M87.7 231.4h0M87.4 229.8h0M87.1 230.8h0M86.8 229.7h0M86.3 232.4h0M86.1 234.1h0M86.1 230.1h0M86.0 231.1h0M85.4 231.0h0M85.4 232.7h0M85.2 230.2h0M85.1 231.0h0M84.6 232.3h0M84.3 231.5h0M84.3 231.7h0M84.2 232.5h0M83.9 231.8h0M83.5 230.6h0M83.4 231.0h0M83.2 230.7h0M82.8 229.1h0M82.4 229.2h0M82.4 231.3h0M82.2 233.6h0M81.8 230.2h0M81.6 231.0h0M80.6 229.3h0M80.5 232.3h0M79.6 232.4h0M79.5 216.9h0M79.2 232.6h0M78.9 230.0h0M78.7 231.1h0M78.7 230.1h0M78.4 230.2h0M78.3 232.9h0M78.1 230.1h0M77.7 230.0h0M77.7 231.1h0M77.6 231.9h0M77.5 231.0h0M77.1 231.5h0M76.8 229.9h0M76.6 230.7h0M76.1 232.4h0M75.9 228.9h0M75.6 230.8h0M75.6 231.6h0M74.3 231.7h0M74.1 228.1h0M73.9 231.8h0M73.7 231.7h0M73.6 230.3h0M73.5 230.7h0M73.4 231.4h0M73.4 229.3h0M73.2 228.3h0M73.2 231.6h0M73.0 231.8h0M72.4 230.3h0M72.0 232.1h0M71.9 230.5h0M71.6 233.2h0M71.2 230.4h0M71.0 229.9h0M70.5 228.4h0M70.4 230.3h0M70.1 228.5h0M70.0 228.9h0M69.9 229.4h0M69.7 231.9h0M69.5 225.7h0M69.4 230.4h0M69.1 228.7h0M69.0 227.7h0M69.0 230.0h0M69.0 230.8h0M69.0 228.1h0M68.9 226.6h0M68.9 229.9h0M68.4 229.0h0M68.1 228.5h0M67.8 228.5h0M67.7 230.8h0M67.7 229.5h0M67.2 231.1h0M66.9 229.6h0M66.5 226.6h0M66.4 231.5h0M66.4 230.4h0M66.2 229.3h0M66.0 227.2h0M65.7 227.9h0M65.7 228.0h0M65.7 228.7h0M65.6 230.2h0M65.5 229.2h0M65.5 228.9h0M65.4 227.9h0M65.2 227.7h0M65.2 227.5h0M65.1 228.8h0M65.0 229.7h0M64.8 227.8h0M64.6 231.8h0M64.5 229.2h0M63.9 229.4h0M63.9 233.0h0M63.9 228.4h0M63.8 226.9h0M63.7 232.4h0M63.6 232.4h0M63.6 228.9h0M63.5 230.6h0M63.3 227.1h0M63.3 226.4h0M63.2 229.0h0M62.8 227.1h0M61.8 230.2h0M61.7 227.1h0M61.6 234.4h0M61.6 229.1h0M61.3 227.9h0M61.2 229.3h0M61.2 229.6h0M61.2 231.3h0M61.0 230.1h0M60.8 230.2h0M60.8 230.7h0M60.8 226.6h0M60.7 229.2h0M60.6 225.5h0M60.5 227.3h0M60.4 229.4h0M60.0 230.4h0M59.7 226.3h0M59.5 225.6h0M59.4 229.4h0M59.3 228.9h0M59.3 228.1h0M59.2 227.9h0M58.9 227.3h0M58.8 227.1h0M58.6 226.9h0M58.5 228.3h0M58.5 230.5h0M58.5 228.5h0M58.2 231.4h0M58.1 232.4h0M57.7 229.5h0M57.7 229.9h0M57.7 228.5h0M57.4 228.6h0M57.2 228.9h0M57.2 226.9h0M57.2 227.1h0M57.2 229.0h0M57.1 230.5h0M57.0 226.6h0M56.9 231.8h0M56.5 226.3h0M56.0 229.5h0M56.0 230.8h0M55.8 229.6h0M55.8 229.1h0M55.6 229.6h0M55.5 228.0h0M55.4 228.2h0M55.4 224.7h0M55.1 228.3h0M54.8 228.7h0M54.7 227.9h0M54.5 233.8h0M54.5 230.4h0M54.4 229.1h0M54.1 227.5h0M54.0 227.3h0M53.8 228.9h0M53.6 229.7h0M53.5 230.1h0M53.1 232.7h0M53.1 231.8h0M53.1 227.6h0M53.0 217.4h0M53.0 229.8h0M52.9 232.5h0M52.8 229.7h0M52.8 226.2h0M52.8 229.6h0M52.4 229.5h0M52.4 230.4h0M52.3 230.9h0M52.3 230.2h0M52.3 231.0h0M52.0 230.1h0M51.9 228.2h0M51.9 229.1h0M51.8 230.0h0M51.8 227.0h0M51.8 230.0h0M51.7 229.0h0M51.4 231.0h0M51.3 226.0h0M51.2 227.2h0M50.9 227.2h0M50.9 226.8h0M50.9 231.8h0M50.7 228.8h0M50.5 229.0h0M50.4 227.0h0M50.4 229.3h0M50.4 227.9h0M49.9 232.0h0M49.8 227.8h0M49.8 226.3h0M49.7 230.3h0M49.6 230.4h0M49.5 226.1h0M49.4 231.3h0M49.4 227.7h0M49.3 225.9h0M49.2 228.7h0M49.2 226.6h0M49.2 229.7h0M49.1 231.0h0M49.0 231.8h0M48.9 231.3h0M48.8 225.7h0M48.8 226.8h0M48.7 232.7h0M48.6 229.7h0M48.6 226.3h0M48.5 229.1h0M48.4 231.1h0M48.3 229.2h0M48.2 231.0h0M48.2 229.2h0M47.8 229.6h0M47.8 226.7h0M47.7 228.4h0M47.5 229.0h0"/>
<path class="sg" d="M47.2 226.2H74.4L74.4 228.8H116.0L116.0 227.5H136.0L136.0 226.2H200.5"/><path class="sg" d="M47.2 231.3H74.4L74.4 232.3H116.0L116.0 232.0H136.0L136.0 231.5H200.5"/><path class="md" d="M47.2 228.8H74.4L74.4 230.6H116.0L116.0 229.8H136.0L136.0 228.9H200.5"/>
</g>
<rect class="fr" x="47.20" y="31.00" width="220.90" height="208.40"/>
<path class="fr" d="M47.20 182.50H268.10"/>
<path class="tk" d="M57.37 31.00v1.50M65.51 31.00v1.50M72.16 31.00v1.50M77.79 31.00v1.50M82.66 31.00v1.50M86.96 31.00v1.50M90.80 31.00v3.00M116.09 31.00v1.50M130.88 31.00v1.50M141.37 31.00v1.50M149.51 31.00v1.50M156.16 31.00v1.50M161.79 31.00v1.50M166.66 31.00v1.50M170.96 31.00v1.50M174.80 31.00v3.00M200.09 31.00v1.50M214.88 31.00v1.50M225.37 31.00v1.50M233.51 31.00v1.50M240.16 31.00v1.50M245.79 31.00v1.50M250.66 31.00v1.50M254.96 31.00v1.50M258.80 31.00v3.00M57.37 182.50v-1.50M65.51 182.50v-1.50M72.16 182.50v-1.50M77.79 182.50v-1.50M82.66 182.50v-1.50M86.96 182.50v-1.50M90.80 182.50v-3.00M116.09 182.50v-1.50M130.88 182.50v-1.50M141.37 182.50v-1.50M149.51 182.50v-1.50M156.16 182.50v-1.50M161.79 182.50v-1.50M166.66 182.50v-1.50M170.96 182.50v-1.50M174.80 182.50v-3.00M200.09 182.50v-1.50M214.88 182.50v-1.50M225.37 182.50v-1.50M233.51 182.50v-1.50M240.16 182.50v-1.50M245.79 182.50v-1.50M250.66 182.50v-1.50M254.96 182.50v-1.50M258.80 182.50v-3.00M57.37 182.50v0.60M65.51 182.50v0.60M72.16 182.50v0.60M77.79 182.50v0.60M82.66 182.50v0.60M86.96 182.50v0.60M90.80 182.50v1.20M116.09 182.50v0.60M130.88 182.50v0.60M141.37 182.50v0.60M149.51 182.50v0.60M156.16 182.50v0.60M161.79 182.50v0.60M166.66 182.50v0.60M170.96 182.50v0.60M174.80 182.50v1.20M200.09 182.50v0.60M214.88 182.50v0.60M225.37 182.50v0.60M233.51 182.50v0.60M240.16 182.50v0.60M245.79 182.50v0.60M250.66 182.50v0.60M254.96 182.50v0.60M258.80 182.50v1.20M57.37 239.40v-0.80M65.51 239.40v-0.80M72.16 239.40v-0.80M77.79 239.40v-0.80M82.66 239.40v-0.80M86.96 239.40v-0.80M90.80 239.40v-1.60M116.09 239.40v-0.80M130.88 239.40v-0.80M141.37 239.40v-0.80M149.51 239.40v-0.80M156.16 239.40v-0.80M161.79 239.40v-0.80M166.66 239.40v-0.80M170.96 239.40v-0.80M174.80 239.40v-1.60M200.09 239.40v-0.80M214.88 239.40v-0.80M225.37 239.40v-0.80M233.51 239.40v-0.80M240.16 239.40v-0.80M245.79 239.40v-0.80M250.66 239.40v-0.80M254.96 239.40v-0.80M258.80 239.40v-1.60M47.20 168.59h2.20M268.10 168.59h-2.20M47.20 160.63h2.20M268.10 160.63h-2.20M47.20 154.99h2.20M268.10 154.99h-2.20M47.20 150.61h2.20M268.10 150.61h-2.20M47.20 147.03h2.20M268.10 147.03h-2.20M47.20 144.00h2.20M268.10 144.00h-2.20M47.20 141.38h2.20M268.10 141.38h-2.20M47.20 139.07h2.20M268.10 139.07h-2.20M47.20 137.00h4.50M268.10 137.00h-4.50M47.20 123.39h2.20M268.10 123.39h-2.20M47.20 115.43h2.20M268.10 115.43h-2.20M47.20 109.79h2.20M268.10 109.79h-2.20M47.20 105.41h2.20M268.10 105.41h-2.20M47.20 101.83h2.20M268.10 101.83h-2.20M47.20 98.80h2.20M268.10 98.80h-2.20M47.20 96.18h2.20M268.10 96.18h-2.20M47.20 93.87h2.20M268.10 93.87h-2.20M47.20 91.80h4.50M268.10 91.80h-4.50M47.20 78.19h2.20M268.10 78.19h-2.20M47.20 70.23h2.20M268.10 70.23h-2.20M47.20 64.59h2.20M268.10 64.59h-2.20M47.20 60.21h2.20M268.10 60.21h-2.20M47.20 56.63h2.20M268.10 56.63h-2.20M47.20 53.60h2.20M268.10 53.60h-2.20M47.20 50.98h2.20M268.10 50.98h-2.20M47.20 48.67h2.20M268.10 48.67h-2.20M47.20 46.60h4.50M268.10 46.60h-4.50M47.20 32.99h2.20M268.10 32.99h-2.20M47.20 201.19h4.5M268.10 201.19h-4.5M47.20 222.12h4.5M268.10 222.12h-4.5"/>
<text x="44.80" y="49.90" font-size="10.40" text-anchor="end">10<tspan dy="-4.8" font-size="6.6">13</tspan></text>
<text x="44.80" y="95.10" font-size="10.40" text-anchor="end">10<tspan dy="-4.8" font-size="6.6">12</tspan></text>
<text x="44.80" y="140.30" font-size="10.40" text-anchor="end">10<tspan dy="-4.8" font-size="6.6">11</tspan></text>
<text x="44.60" y="188.50" font-size="10.40" text-anchor="end">3.0</text>
<text x="44.60" y="204.70" font-size="10.40" text-anchor="end">1.4</text>
<text x="44.60" y="212.60" font-size="10.40" text-anchor="end">1.0</text>
<text x="44.60" y="225.70" font-size="10.40" text-anchor="end">0.6</text>
<text x="44.60" y="239.00" font-size="10.40" text-anchor="end">0.3</text>
<text x="91.00" y="252.80" font-size="10.40" text-anchor="middle">10<tspan dy="-4.8" font-size="6.6">12</tspan></text>
<text x="175.00" y="252.80" font-size="10.40" text-anchor="middle">10<tspan dy="-4.8" font-size="6.6">13</tspan></text>
<text x="259.00" y="252.80" font-size="10.40" text-anchor="middle">10<tspan dy="-4.8" font-size="6.6">14</tspan></text>
<text x="157.65" y="263.30" font-size="10.40" text-anchor="middle">M200 (M<tspan dy="2.5" font-size="6.6">sun</tspan><tspan dy="-2.5">)</tspan></text>
<g clip-path="url(#cb0)">
<path class="ln" d="M47.5 337.7V344.7M47.5 343.7V345.1M48.5 337.7V346.1M48.5 342.4V350.1M49.5 336.6V346.2M49.5 340.4V344.2M49.5 348.4V424.0M50.5 343.4V344.7M51.5 336.0V344.5M51.5 342.4V344.1M52.5 339.9V343.4M52.5 346.4V350.2M53.5 339.6V346.4M53.5 343.1V346.1M54.5 335.5V344.7M54.5 339.5V345.0M55.5 333.5V341.7M55.5 343.4V344.9M56.5 342.5V343.2M56.5 345.4V347.2M57.5 332.6V339.3M58.5 332.1V344.1M58.5 339.5V344.0M59.5 332.2V338.8M59.5 338.0V342.1M59.5 342.4V424.0M60.5 334.8V345.3M60.5 340.2V342.6M61.5 328.2V341.2M62.5 327.2V339.7M62.5 340.0V345.0M63.5 337.1V340.7M64.5 330.5V339.3M64.5 342.5V346.2M66.5 332.7V338.7M66.5 336.5V341.8M67.5 340.5V341.7M68.5 334.7V338.4M69.5 331.4V336.7M70.5 333.9V336.4M71.5 331.4V337.0M71.5 335.4V337.0M72.5 328.1V337.4M73.5 329.4V338.3M73.5 335.7V336.7M74.5 326.6V338.4M75.5 328.1V336.0M76.5 330.4V334.4M77.5 326.3V335.9M78.5 326.8V334.9M78.5 331.7V334.8M79.5 326.8V332.3M80.5 331.9V337.9M81.5 330.0V336.4M82.5 325.9V334.5M83.5 323.1V333.2M84.5 324.8V333.5M84.5 335.4V336.0M85.5 332.8V334.9M87.5 324.4V333.0M87.5 331.7V332.4M88.5 327.8V332.9M90.5 323.1V331.6M92.5 323.7V331.9M93.5 324.6V333.1M95.5 320.2V331.4M96.5 310.6V330.5M98.5 320.5V330.1M99.5 321.6V329.5M101.5 315.7V324.8M102.5 320.0V326.3M107.5 317.2V325.2M108.5 320.1V321.3M110.5 313.8V321.5M114.5 316.7V320.7M115.5 318.3V323.3M117.5 313.8V320.1M123.5 312.1V320.5M140.5 312.9V313.4M157.5 298.9V310.6M170.5 295.1V301.8M212.5 275.3V287.8"/>
<path class="ln" d="M47.5 338.9V344.8M47.5 344.9V349.3M48.5 340.5V348.6M48.5 343.0V349.7M49.5 336.7V343.9M49.5 341.3V349.2M50.5 339.3V342.9M50.5 344.5V424.0M51.5 337.1V348.7M51.5 344.5V347.1M52.5 340.8V344.8M52.5 348.5V424.0M53.5 340.8V343.9M53.5 345.0V347.7M54.5 337.0V340.8M54.5 341.5V344.3M55.5 334.4V344.8M55.5 345.4V346.7M56.5 344.2V424.0M57.5 327.6V339.5M57.5 338.3V345.9M58.5 333.6V342.1M58.5 339.7V344.1M59.5 332.5V340.2M59.5 339.0V341.6M59.5 342.8V345.4M60.5 335.9V341.5M60.5 340.6V343.8M61.5 338.8V341.9M62.5 330.8V337.7M62.5 342.8V345.1M63.5 338.0V341.8M64.5 335.7V342.2M64.5 342.8V424.0M66.5 335.0V338.1M66.5 340.0V353.2M68.5 328.7V338.5M68.5 335.0V342.9M69.5 334.6V340.5M71.5 327.2V339.7M71.5 332.9V338.8M71.5 335.5V339.1M72.5 333.4V338.3M73.5 329.5V337.7M73.5 336.2V337.0M74.5 328.8V336.4M75.5 329.4V338.1M76.5 331.9V337.1M77.5 326.7V338.0M78.5 327.6V335.8M78.5 335.3V336.0M79.5 327.2V334.3M80.5 332.7V335.4M81.5 330.6V338.3M82.5 329.7V335.8M83.5 325.7V337.0M84.5 325.3V331.6M85.5 323.9V333.3M85.5 332.8V336.9M87.5 327.3V332.9M88.5 321.1V331.8M88.5 329.1V334.8M90.5 327.0V331.7M93.5 321.3V329.8M93.5 328.9V330.9M95.5 322.3V327.8M96.5 326.1V330.1M98.5 321.1V332.2M99.5 327.0V330.1M101.5 320.1V328.0M103.5 314.0V327.6M107.5 318.6V327.7M108.5 321.0V323.3M111.5 313.1V322.8M114.5 317.3V321.4M116.5 312.4V319.8M118.5 307.4V320.7M128.5 310.1V315.9M141.5 300.1V312.4M158.5 299.5V307.8M176.5 290.5V300.2"/>
<path class="ln" d="M47.5 339.9V349.0M47.5 347.8V349.1M48.5 340.8V345.6M48.5 343.6V347.2M49.5 337.0V348.5M49.5 343.1V345.5M50.5 339.9V344.7M50.5 346.9V348.3M51.5 337.4V345.3M52.5 338.5V344.2M52.5 341.1V341.6M53.5 332.2V342.9M53.5 341.5V348.2M54.5 328.0V341.5M54.5 337.4V343.8M54.5 342.1V346.0M55.5 335.8V344.9M56.5 339.2V342.0M56.5 344.3V346.6M57.5 330.5V342.4M57.5 339.2V340.8M58.5 334.7V342.1M58.5 344.3V353.7M59.5 334.7V339.3M59.5 339.9V342.8M59.5 343.4V344.3M60.5 339.7V340.1M60.5 340.8V345.8M61.5 339.5V342.7M62.5 332.0V340.7M62.5 344.6V345.2M63.5 342.0V342.7M64.5 338.3V343.3M65.5 332.3V337.8M66.5 336.0V342.8M66.5 340.7V354.4M68.5 329.7V339.5M68.5 335.5V337.2M69.5 337.7V340.0M71.5 327.3V337.8M71.5 333.9V337.1M71.5 336.5V338.9M72.5 337.8V341.4M73.5 333.7V340.7M73.5 339.9V340.4M74.5 330.4V338.5M75.5 333.7V335.3M76.5 332.1V337.0M77.5 328.9V336.8M78.5 327.9V336.4M79.5 325.4V335.1M79.5 328.8V336.0M81.5 318.7V336.6M81.5 332.0V335.1M82.5 332.8V335.5M83.5 327.6V332.0M84.5 329.6V336.2M85.5 324.9V334.5M86.5 324.9V332.5M87.5 327.7V333.6M88.5 321.1V330.3M89.5 325.9V332.8M90.5 328.0V330.1M93.5 321.5V330.1M94.5 325.6V331.7M95.5 324.3V333.4M97.5 319.5V332.1M99.5 315.8V328.5M100.5 323.8V327.1M101.5 320.5V330.0M106.5 322.8V328.2M107.5 319.4V327.4M109.5 308.9V322.4M113.5 314.3V320.9M115.5 309.6V318.1M116.5 313.4V319.9M118.5 307.5V316.3M135.5 298.0V316.2M149.5 295.8V312.4M162.5 295.4V301.8M179.5 280.8V291.3"/>
<path class="ln" d="M47.5 343.6V345.9M48.5 335.3V345.5M48.5 342.3V424.0M48.5 346.8V351.5M49.5 338.2V346.3M49.5 343.7V348.6M50.5 342.7V344.0M51.5 332.7V344.8M51.5 340.9V346.3M52.5 339.6V344.5M52.5 341.4V346.7M53.5 332.8V344.0M53.5 342.3V347.8M54.5 333.2V343.9M54.5 337.8V346.6M55.5 330.1V340.1M55.5 339.3V341.5M56.5 339.4V346.4M56.5 344.8V347.0M57.5 331.5V339.8M58.5 331.6V341.6M58.5 338.5V339.9M59.5 329.0V339.5M59.5 335.7V340.1M59.5 342.1V342.9M60.5 328.1V339.1M60.5 340.2V350.5M60.5 340.9V343.1M61.5 341.3V342.1M62.5 337.9V341.6M63.5 332.8V340.4M64.5 330.5V338.8M64.5 342.3V343.5M65.5 340.7V341.5M66.5 336.0V338.7M67.5 335.0V339.9M68.5 333.3V340.6M68.5 336.4V338.5M70.5 331.1V336.2M71.5 330.9V336.9M71.5 335.2V338.7M71.5 339.5V341.7M72.5 338.5V340.5M73.5 334.9V339.1M74.5 324.1V337.6M74.5 333.9V338.8M76.5 322.3V333.2M77.5 325.4V335.3M78.5 321.7V334.7M78.5 329.8V335.6M79.5 326.5V337.5M80.5 327.2V336.3M81.5 324.9V334.8M81.5 334.6V336.6M82.5 334.8V335.7M83.5 328.9V331.1M84.5 331.1V333.6M85.5 329.0V332.5M86.5 332.5V334.7M87.5 331.0V335.8M88.5 325.0V330.0M89.5 331.8V332.9M91.5 326.5V331.7M93.5 321.9V332.3M95.5 316.2V327.4M95.5 324.7V329.2M97.5 320.4V329.1M99.5 317.8V329.1M100.5 329.1V329.8M102.5 315.1V326.7M106.5 325.7V328.5M108.5 310.7V323.5M109.5 321.8V326.8M113.5 318.4V320.8M115.5 310.2V321.0M116.5 313.9V321.2M121.5 312.6V317.9M140.5 309.1V314.7M150.5 308.8V311.4M166.5 303.3V424.0M182.5 291.1V301.5"/>
<g class="rg"><circle cx="47.5" cy="349.3" r="2.9"/><circle cx="47.6" cy="349.0" r="2.9"/><circle cx="47.6" cy="344.8" r="2.9"/><circle cx="47.6" cy="344.7" r="2.9"/><circle cx="47.8" cy="349.1" r="2.9"/><circle cx="47.9" cy="345.1" r="2.9"/><circle cx="47.9" cy="345.9" r="2.9"/><circle cx="48.0" cy="345.6" r="2.9"/><circle cx="48.1" cy="349.7" r="2.9"/><circle cx="48.3" cy="346.1" r="2.9"/><circle cx="48.3" cy="345.5" r="2.9"/><circle cx="48.4" cy="346.8" r="2.9"/><circle cx="48.7" cy="350.1" r="2.9"/><circle cx="48.8" cy="347.2" r="2.9"/><circle cx="48.9" cy="348.6" r="2.9"/><circle cx="49.2" cy="345.5" r="2.9"/><circle cx="49.2" cy="346.3" r="2.9"/><circle cx="49.3" cy="343.9" r="2.9"/><circle cx="49.4" cy="348.6" r="2.9"/><circle cx="49.5" cy="344.2" r="2.9"/><circle cx="49.5" cy="349.2" r="2.9"/><circle cx="49.6" cy="346.2" r="2.9"/><circle cx="49.8" cy="348.5" r="2.9"/><circle cx="50.0" cy="344.7" r="2.9"/><circle cx="50.3" cy="344.0" r="2.9"/><circle cx="50.4" cy="344.7" r="2.9"/><circle cx="50.6" cy="348.3" r="2.9"/><circle cx="50.8" cy="342.9" r="2.9"/><circle cx="51.1" cy="345.3" r="2.9"/><circle cx="51.2" cy="347.1" r="2.9"/><circle cx="51.4" cy="346.3" r="2.9"/><circle cx="51.5" cy="344.8" r="2.9"/><circle cx="51.5" cy="344.5" r="2.9"/><circle cx="51.7" cy="348.7" r="2.9"/><circle cx="51.7" cy="342.4" r="2.9"/><circle cx="52.1" cy="346.7" r="2.9"/><circle cx="52.2" cy="341.1" r="2.9"/><circle cx="52.3" cy="344.8" r="2.9"/><circle cx="52.3" cy="344.2" r="2.9"/><circle cx="52.4" cy="344.5" r="2.9"/><circle cx="52.4" cy="346.4" r="2.9"/><circle cx="52.7" cy="343.4" r="2.9"/><circle cx="53.0" cy="343.9" r="2.9"/><circle cx="53.5" cy="347.8" r="2.9"/><circle cx="53.6" cy="346.4" r="2.9"/><circle cx="53.7" cy="346.1" r="2.9"/><circle cx="53.7" cy="344.0" r="2.9"/><circle cx="53.8" cy="347.7" r="2.9"/><circle cx="53.8" cy="348.2" r="2.9"/><circle cx="54.0" cy="344.0" r="2.9"/><circle cx="54.0" cy="342.9" r="2.9"/><circle cx="54.0" cy="344.3" r="2.9"/><circle cx="54.1" cy="346.6" r="2.9"/><circle cx="54.2" cy="343.8" r="2.9"/><circle cx="54.2" cy="340.8" r="2.9"/><circle cx="54.3" cy="344.7" r="2.9"/><circle cx="54.3" cy="343.9" r="2.9"/><circle cx="54.5" cy="346.0" r="2.9"/><circle cx="54.5" cy="345.0" r="2.9"/><circle cx="54.6" cy="341.5" r="2.9"/><circle cx="55.2" cy="344.8" r="2.9"/><circle cx="55.3" cy="341.5" r="2.9"/><circle cx="55.5" cy="341.7" r="2.9"/><circle cx="55.8" cy="344.9" r="2.9"/><circle cx="55.9" cy="345.4" r="2.9"/><circle cx="55.9" cy="340.1" r="2.9"/><circle cx="55.9" cy="344.9" r="2.9"/><circle cx="56.0" cy="342.5" r="2.9"/><circle cx="56.1" cy="342.0" r="2.9"/><circle cx="56.1" cy="344.8" r="2.9"/><circle cx="56.7" cy="346.6" r="2.9"/><circle cx="56.7" cy="347.2" r="2.9"/><circle cx="56.9" cy="346.4" r="2.9"/><circle cx="57.1" cy="340.8" r="2.9"/><circle cx="57.2" cy="339.8" r="2.9"/><circle cx="57.3" cy="339.5" r="2.9"/><circle cx="57.5" cy="345.9" r="2.9"/><circle cx="57.8" cy="339.3" r="2.9"/><circle cx="58.0" cy="342.4" r="2.9"/><circle cx="58.1" cy="342.1" r="2.9"/><circle cx="58.6" cy="341.6" r="2.9"/><circle cx="58.6" cy="344.1" r="2.9"/><circle cx="58.6" cy="339.9" r="2.9"/><circle cx="58.7" cy="344.1" r="2.9"/><circle cx="58.8" cy="344.0" r="2.9"/><circle cx="59.0" cy="342.1" r="2.9"/><circle cx="59.0" cy="340.2" r="2.9"/><circle cx="59.0" cy="341.6" r="2.9"/><circle cx="59.1" cy="342.9" r="2.9"/><circle cx="59.2" cy="339.3" r="2.9"/><circle cx="59.2" cy="338.8" r="2.9"/><circle cx="59.2" cy="342.8" r="2.9"/><circle cx="59.5" cy="342.8" r="2.9"/><circle cx="59.5" cy="339.5" r="2.9"/><circle cx="59.6" cy="342.1" r="2.9"/><circle cx="59.8" cy="343.4" r="2.9"/><circle cx="59.9" cy="340.1" r="2.9"/><circle cx="60.2" cy="343.8" r="2.9"/><circle cx="60.3" cy="343.1" r="2.9"/><circle cx="60.4" cy="345.3" r="2.9"/><circle cx="60.5" cy="340.2" r="2.9"/><circle cx="60.5" cy="345.8" r="2.9"/><circle cx="60.6" cy="339.1" r="2.9"/><circle cx="60.7" cy="339.7" r="2.9"/><circle cx="60.8" cy="341.5" r="2.9"/><circle cx="61.2" cy="342.7" r="2.9"/><circle cx="61.5" cy="341.2" r="2.9"/><circle cx="61.6" cy="341.9" r="2.9"/><circle cx="61.6" cy="342.1" r="2.9"/><circle cx="62.2" cy="345.2" r="2.9"/><circle cx="62.3" cy="339.7" r="2.9"/><circle cx="62.5" cy="337.7" r="2.9"/><circle cx="62.6" cy="341.6" r="2.9"/><circle cx="62.6" cy="345.0" r="2.9"/><circle cx="62.7" cy="340.7" r="2.9"/><circle cx="62.7" cy="342.8" r="2.9"/><circle cx="63.1" cy="340.4" r="2.9"/><circle cx="63.3" cy="342.7" r="2.9"/><circle cx="63.5" cy="341.8" r="2.9"/><circle cx="63.5" cy="340.7" r="2.9"/><circle cx="64.1" cy="342.2" r="2.9"/><circle cx="64.1" cy="342.5" r="2.9"/><circle cx="64.1" cy="338.8" r="2.9"/><circle cx="64.6" cy="339.3" r="2.9"/><circle cx="64.8" cy="343.5" r="2.9"/><circle cx="64.8" cy="338.3" r="2.9"/><circle cx="65.3" cy="340.7" r="2.9"/><circle cx="65.7" cy="337.8" r="2.9"/><circle cx="66.3" cy="342.8" r="2.9"/><circle cx="66.5" cy="338.7" r="2.9"/><circle cx="66.5" cy="338.1" r="2.9"/><circle cx="66.8" cy="340.7" r="2.9"/><circle cx="66.9" cy="341.8" r="2.9"/><circle cx="66.9" cy="338.7" r="2.9"/><circle cx="67.2" cy="339.9" r="2.9"/><circle cx="67.6" cy="341.7" r="2.9"/><circle cx="68.1" cy="338.5" r="2.9"/><circle cx="68.1" cy="340.6" r="2.9"/><circle cx="68.3" cy="342.9" r="2.9"/><circle cx="68.3" cy="337.2" r="2.9"/><circle cx="68.4" cy="339.5" r="2.9"/><circle cx="68.6" cy="338.4" r="2.9"/><circle cx="68.8" cy="338.5" r="2.9"/><circle cx="69.3" cy="340.0" r="2.9"/><circle cx="69.3" cy="336.7" r="2.9"/><circle cx="69.4" cy="340.5" r="2.9"/><circle cx="70.3" cy="336.4" r="2.9"/><circle cx="70.4" cy="336.2" r="2.9"/><circle cx="71.1" cy="338.8" r="2.9"/><circle cx="71.2" cy="337.8" r="2.9"/><circle cx="71.3" cy="339.7" r="2.9"/><circle cx="71.3" cy="337.0" r="2.9"/><circle cx="71.3" cy="336.9" r="2.9"/><circle cx="71.5" cy="338.9" r="2.9"/><circle cx="71.6" cy="337.1" r="2.9"/><circle cx="71.6" cy="339.1" r="2.9"/><circle cx="71.7" cy="337.1" r="2.9"/><circle cx="71.8" cy="338.7" r="2.9"/><circle cx="71.9" cy="335.4" r="2.9"/><circle cx="72.0" cy="341.7" r="2.9"/><circle cx="72.1" cy="341.4" r="2.9"/><circle cx="72.4" cy="338.3" r="2.9"/><circle cx="72.4" cy="340.5" r="2.9"/><circle cx="73.0" cy="337.4" r="2.9"/><circle cx="73.2" cy="340.7" r="2.9"/><circle cx="73.2" cy="338.3" r="2.9"/><circle cx="73.3" cy="337.7" r="2.9"/><circle cx="73.5" cy="336.2" r="2.9"/><circle cx="73.6" cy="336.7" r="2.9"/><circle cx="73.8" cy="340.4" r="2.9"/><circle cx="73.9" cy="339.1" r="2.9"/><circle cx="74.1" cy="338.5" r="2.9"/><circle cx="74.1" cy="336.4" r="2.9"/><circle cx="74.6" cy="338.4" r="2.9"/><circle cx="74.8" cy="337.6" r="2.9"/><circle cx="74.8" cy="338.8" r="2.9"/><circle cx="75.2" cy="338.1" r="2.9"/><circle cx="75.2" cy="336.0" r="2.9"/><circle cx="76.0" cy="335.3" r="2.9"/><circle cx="76.5" cy="334.4" r="2.9"/><circle cx="76.5" cy="337.0" r="2.9"/><circle cx="76.8" cy="333.2" r="2.9"/><circle cx="76.9" cy="337.1" r="2.9"/><circle cx="77.2" cy="335.9" r="2.9"/><circle cx="77.4" cy="335.3" r="2.9"/><circle cx="77.6" cy="338.0" r="2.9"/><circle cx="77.9" cy="336.8" r="2.9"/><circle cx="78.1" cy="335.3" r="2.9"/><circle cx="78.1" cy="334.7" r="2.9"/><circle cx="78.1" cy="334.9" r="2.9"/><circle cx="78.4" cy="336.4" r="2.9"/><circle cx="78.6" cy="334.8" r="2.9"/><circle cx="78.8" cy="335.8" r="2.9"/><circle cx="79.0" cy="335.6" r="2.9"/><circle cx="79.3" cy="336.0" r="2.9"/><circle cx="79.4" cy="337.5" r="2.9"/><circle cx="79.5" cy="334.3" r="2.9"/><circle cx="79.5" cy="335.1" r="2.9"/><circle cx="79.7" cy="332.3" r="2.9"/><circle cx="80.1" cy="335.4" r="2.9"/><circle cx="80.2" cy="336.3" r="2.9"/><circle cx="80.6" cy="337.9" r="2.9"/><circle cx="81.0" cy="334.8" r="2.9"/><circle cx="81.2" cy="338.3" r="2.9"/><circle cx="81.3" cy="336.6" r="2.9"/><circle cx="81.5" cy="335.1" r="2.9"/><circle cx="81.5" cy="336.6" r="2.9"/><circle cx="82.0" cy="336.4" r="2.9"/><circle cx="82.1" cy="334.5" r="2.9"/><circle cx="82.1" cy="335.8" r="2.9"/><circle cx="82.6" cy="335.5" r="2.9"/><circle cx="82.9" cy="335.7" r="2.9"/><circle cx="83.0" cy="337.0" r="2.9"/><circle cx="83.4" cy="333.2" r="2.9"/><circle cx="83.4" cy="331.1" r="2.9"/><circle cx="83.8" cy="332.0" r="2.9"/><circle cx="84.5" cy="335.4" r="2.9"/><circle cx="84.6" cy="331.6" r="2.9"/><circle cx="84.8" cy="333.5" r="2.9"/><circle cx="84.9" cy="336.2" r="2.9"/><circle cx="84.9" cy="333.6" r="2.9"/><circle cx="85.1" cy="334.5" r="2.9"/><circle cx="85.3" cy="332.5" r="2.9"/><circle cx="85.3" cy="334.9" r="2.9"/><circle cx="85.3" cy="336.9" r="2.9"/><circle cx="85.7" cy="333.3" r="2.9"/><circle cx="86.1" cy="334.7" r="2.9"/><circle cx="86.3" cy="332.5" r="2.9"/><circle cx="87.1" cy="332.9" r="2.9"/><circle cx="87.1" cy="333.6" r="2.9"/><circle cx="87.4" cy="332.4" r="2.9"/><circle cx="87.6" cy="333.0" r="2.9"/><circle cx="87.8" cy="335.8" r="2.9"/><circle cx="88.0" cy="330.0" r="2.9"/><circle cx="88.1" cy="332.9" r="2.9"/><circle cx="88.6" cy="330.3" r="2.9"/><circle cx="88.9" cy="331.8" r="2.9"/><circle cx="88.9" cy="334.8" r="2.9"/><circle cx="89.4" cy="332.9" r="2.9"/><circle cx="89.8" cy="332.8" r="2.9"/><circle cx="90.3" cy="330.1" r="2.9"/><circle cx="90.4" cy="331.6" r="2.9"/><circle cx="90.7" cy="331.7" r="2.9"/><circle cx="91.1" cy="331.7" r="2.9"/><circle cx="92.6" cy="331.9" r="2.9"/><circle cx="93.1" cy="333.1" r="2.9"/><circle cx="93.4" cy="329.8" r="2.9"/><circle cx="93.7" cy="330.1" r="2.9"/><circle cx="93.8" cy="332.3" r="2.9"/><circle cx="94.0" cy="330.9" r="2.9"/><circle cx="94.2" cy="331.7" r="2.9"/><circle cx="95.1" cy="329.2" r="2.9"/><circle cx="95.5" cy="331.4" r="2.9"/><circle cx="95.6" cy="327.8" r="2.9"/><circle cx="95.8" cy="333.4" r="2.9"/><circle cx="95.9" cy="327.4" r="2.9"/><circle cx="96.4" cy="330.1" r="2.9"/><circle cx="96.9" cy="330.5" r="2.9"/><circle cx="97.1" cy="332.1" r="2.9"/><circle cx="97.2" cy="329.1" r="2.9"/><circle cx="98.4" cy="330.1" r="2.9"/><circle cx="98.8" cy="332.2" r="2.9"/><circle cx="99.3" cy="328.5" r="2.9"/><circle cx="99.4" cy="329.1" r="2.9"/><circle cx="99.6" cy="329.5" r="2.9"/><circle cx="99.9" cy="330.1" r="2.9"/><circle cx="100.1" cy="329.1" r="2.9"/><circle cx="100.6" cy="327.1" r="2.9"/><circle cx="101.2" cy="328.0" r="2.9"/><circle cx="101.4" cy="330.0" r="2.9"/><circle cx="101.9" cy="324.8" r="2.9"/><circle cx="102.0" cy="326.3" r="2.9"/><circle cx="102.3" cy="326.7" r="2.9"/><circle cx="103.5" cy="327.6" r="2.9"/><circle cx="106.0" cy="328.5" r="2.9"/><circle cx="106.2" cy="328.2" r="2.9"/><circle cx="107.4" cy="327.7" r="2.9"/><circle cx="107.5" cy="324.2" r="2.9"/><circle cx="108.0" cy="325.2" r="2.9"/><circle cx="108.0" cy="327.4" r="2.9"/><circle cx="108.1" cy="323.3" r="2.9"/><circle cx="108.6" cy="323.5" r="2.9"/><circle cx="109.0" cy="321.3" r="2.9"/><circle cx="109.2" cy="326.8" r="2.9"/><circle cx="109.8" cy="322.4" r="2.9"/><circle cx="110.4" cy="321.5" r="2.9"/><circle cx="111.8" cy="322.8" r="2.9"/><circle cx="113.6" cy="320.8" r="2.9"/><circle cx="113.9" cy="320.9" r="2.9"/><circle cx="114.7" cy="321.4" r="2.9"/><circle cx="115.0" cy="320.7" r="2.9"/><circle cx="115.4" cy="323.3" r="2.9"/><circle cx="115.8" cy="321.0" r="2.9"/><circle cx="115.9" cy="318.1" r="2.9"/><circle cx="116.6" cy="321.2" r="2.9"/><circle cx="116.8" cy="319.9" r="2.9"/><circle cx="116.8" cy="319.8" r="2.9"/><circle cx="117.7" cy="320.1" r="2.9"/><circle cx="118.2" cy="320.7" r="2.9"/><circle cx="118.3" cy="316.3" r="2.9"/><circle cx="48.5" cy="342.3" r="2.9"/><circle cx="49.4" cy="348.4" r="2.9"/><circle cx="50.5" cy="344.5" r="2.9"/><circle cx="52.0" cy="348.5" r="2.9"/><circle cx="56.0" cy="344.2" r="2.9"/><circle cx="59.3" cy="342.4" r="2.9"/><circle cx="64.6" cy="342.8" r="2.9"/><circle cx="58.5" cy="344.3" r="2.9"/><circle cx="66.6" cy="340.0" r="2.9"/><circle cx="60.0" cy="340.2" r="2.9"/><circle cx="212.3" cy="287.8" r="2.9"/><circle cx="179.6" cy="291.3" r="2.9"/><circle cx="176.3" cy="300.2" r="2.9"/><circle cx="182.1" cy="301.5" r="2.9"/><circle cx="170.5" cy="301.8" r="2.9"/><circle cx="166.8" cy="303.3" r="2.9"/><circle cx="162.6" cy="301.8" r="2.9"/><circle cx="158.3" cy="307.8" r="2.9"/><circle cx="157.3" cy="310.6" r="2.9"/><circle cx="157.7" cy="309.6" r="2.9"/><circle cx="149.2" cy="312.4" r="2.9"/><circle cx="150.3" cy="311.4" r="2.9"/><circle cx="141.9" cy="312.4" r="2.9"/><circle cx="140.1" cy="314.7" r="2.9"/><circle cx="140.4" cy="313.4" r="2.9"/><circle cx="135.8" cy="316.2" r="2.9"/><circle cx="128.8" cy="315.9" r="2.9"/><circle cx="123.8" cy="320.5" r="2.9"/><circle cx="121.2" cy="317.9" r="2.9"/></g>
<path class="bk" d="M47.5 344.9h0M47.6 339.9h0M47.6 338.9h0M47.6 337.7h0M47.8 347.8h0M47.9 343.7h0M47.9 343.6h0M48.0 340.8h0M48.1 343.0h0M48.3 337.7h0M48.3 335.3h0M48.4 351.5h0M48.7 342.4h0M48.8 343.6h0M48.9 340.5h0M49.2 343.1h0M49.2 338.2h0M49.3 336.7h0M49.4 343.7h0M49.5 340.4h0M49.5 341.3h0M49.6 336.6h0M49.8 337.0h0M50.0 339.9h0M50.3 342.7h0M50.4 343.4h0M50.6 346.9h0M50.8 339.3h0M51.1 337.4h0M51.2 344.5h0M51.4 340.9h0M51.5 332.7h0M51.5 336.0h0M51.7 337.1h0M51.7 344.1h0M52.1 341.4h0M52.2 341.6h0M52.3 340.8h0M52.3 338.5h0M52.4 339.6h0M52.4 350.2h0M52.7 339.9h0M53.0 340.8h0M53.5 342.3h0M53.6 339.6h0M53.7 343.1h0M53.7 332.8h0M53.8 345.0h0M53.8 341.5h0M54.0 344.3h0M54.0 332.2h0M54.0 341.5h0M54.1 337.8h0M54.2 337.4h0M54.2 337.0h0M54.3 335.5h0M54.3 333.2h0M54.5 342.1h0M54.5 339.5h0M54.6 328.0h0M55.2 334.4h0M55.3 339.3h0M55.5 333.5h0M55.8 343.4h0M55.9 346.7h0M55.9 330.1h0M55.9 335.8h0M56.0 343.2h0M56.1 339.2h0M56.1 347.0h0M56.7 344.3h0M56.7 345.4h0M56.9 339.4h0M57.1 339.2h0M57.2 331.5h0M57.3 327.6h0M57.5 338.3h0M57.8 332.6h0M58.0 330.5h0M58.1 334.7h0M58.6 331.6h0M58.6 339.7h0M58.6 338.5h0M58.7 332.1h0M58.8 339.5h0M59.0 333.6h0M59.0 332.5h0M59.0 339.0h0M59.1 342.1h0M59.2 334.7h0M59.2 332.2h0M59.2 345.4h0M59.5 339.9h0M59.5 329.0h0M59.6 338.0h0M59.8 344.3h0M59.9 335.7h0M60.2 340.6h0M60.3 340.9h0M60.4 334.8h0M60.5 342.6h0M60.5 340.8h0M60.6 328.1h0M60.7 340.1h0M60.8 335.9h0M61.2 339.5h0M61.5 328.2h0M61.6 338.8h0M61.6 341.3h0M62.2 344.6h0M62.3 327.2h0M62.5 330.8h0M62.6 337.9h0M62.6 340.0h0M62.7 332.0h0M62.7 345.1h0M63.1 332.8h0M63.3 342.0h0M63.5 338.0h0M63.5 337.1h0M64.1 335.7h0M64.1 346.2h0M64.1 330.5h0M64.6 330.5h0M64.8 342.3h0M64.8 343.3h0M65.3 341.5h0M65.7 332.3h0M66.3 336.0h0M66.5 332.7h0M66.5 335.0h0M66.8 354.4h0M66.9 336.5h0M66.9 336.0h0M67.2 335.0h0M67.6 340.5h0M68.1 328.7h0M68.1 333.3h0M68.3 335.0h0M68.3 335.5h0M68.4 329.7h0M68.6 334.7h0M68.8 336.4h0M69.3 337.7h0M69.3 331.4h0M69.4 334.6h0M70.3 333.9h0M70.4 331.1h0M71.1 332.9h0M71.2 327.3h0M71.3 327.2h0M71.3 331.4h0M71.3 330.9h0M71.5 336.5h0M71.6 336.8h0M71.6 335.5h0M71.7 333.9h0M71.8 335.2h0M71.9 337.0h0M72.0 339.5h0M72.1 337.8h0M72.4 333.4h0M72.4 338.5h0M73.0 328.1h0M73.2 333.7h0M73.2 329.4h0M73.3 329.5h0M73.5 337.0h0M73.6 335.7h0M73.8 339.9h0M73.9 334.9h0M74.1 330.4h0M74.1 328.8h0M74.6 326.6h0M74.8 324.1h0M74.8 333.9h0M75.2 329.4h0M75.2 328.1h0M76.0 333.7h0M76.5 330.4h0M76.5 332.1h0M76.8 322.3h0M76.9 331.9h0M77.2 326.3h0M77.4 325.4h0M77.6 326.7h0M77.9 328.9h0M78.1 336.0h0M78.1 321.7h0M78.1 326.8h0M78.4 327.9h0M78.6 331.7h0M78.8 327.6h0M79.0 329.8h0M79.3 328.8h0M79.4 326.5h0M79.5 327.2h0M79.5 325.4h0M79.7 326.8h0M80.1 332.7h0M80.2 327.2h0M80.6 331.9h0M81.0 324.9h0M81.2 330.6h0M81.3 318.7h0M81.5 332.0h0M81.5 334.6h0M82.0 330.0h0M82.1 325.9h0M82.1 329.7h0M82.6 332.8h0M82.9 334.8h0M83.0 325.7h0M83.4 323.1h0M83.4 328.9h0M83.8 327.6h0M84.5 336.0h0M84.6 325.3h0M84.8 324.8h0M84.9 329.6h0M84.9 331.1h0M85.1 324.9h0M85.3 329.0h0M85.3 332.8h0M85.3 332.8h0M85.7 323.9h0M86.1 332.5h0M86.3 324.9h0M87.1 327.3h0M87.1 327.7h0M87.4 331.7h0M87.6 324.4h0M87.8 331.0h0M88.0 325.0h0M88.1 327.8h0M88.6 321.1h0M88.9 321.1h0M88.9 329.1h0M89.4 331.8h0M89.8 325.9h0M90.3 328.0h0M90.4 323.1h0M90.7 327.0h0M91.1 326.5h0M92.6 323.7h0M93.1 324.6h0M93.4 321.3h0M93.7 321.5h0M93.8 321.9h0M94.0 328.9h0M94.2 325.6h0M95.1 324.7h0M95.5 320.2h0M95.6 322.3h0M95.8 324.3h0M95.9 316.2h0M96.4 326.1h0M96.9 310.6h0M97.1 319.5h0M97.2 320.4h0M98.4 320.5h0M98.8 321.1h0M99.3 315.8h0M99.4 317.8h0M99.6 321.6h0M99.9 327.0h0M100.1 329.8h0M100.6 323.8h0M101.2 320.1h0M101.4 320.5h0M101.9 315.7h0M102.0 320.0h0M102.3 315.1h0M103.5 314.0h0M106.0 325.7h0M106.2 322.8h0M107.4 318.6h0M107.5 324.0h0M108.0 317.2h0M108.0 319.4h0M108.1 321.0h0M108.6 310.7h0M109.0 320.1h0M109.2 321.8h0M109.8 308.9h0M110.4 313.8h0M111.8 313.1h0M113.6 318.4h0M113.9 314.3h0M114.7 317.3h0M115.0 316.7h0M115.4 318.3h0M115.8 310.2h0M115.9 309.6h0M116.6 313.9h0M116.8 313.4h0M116.8 312.4h0M117.7 313.8h0M118.2 307.4h0M118.3 307.5h0M58.5 353.7h0M66.6 353.2h0M60.0 350.5h0M212.3 275.3h0M179.6 280.8h0M176.3 290.5h0M182.1 291.1h0M170.5 295.1h0M162.6 295.4h0M158.3 299.5h0M157.3 298.9h0M157.7 309.8h0M149.2 295.8h0M150.3 308.8h0M141.9 300.1h0M140.1 309.1h0M140.4 312.9h0M135.8 298.0h0M128.8 310.1h0M123.8 312.1h0M121.2 312.6h0"/>
</g>
<path class="one" d="M47.20 450.50H268.10"/>
<g clip-path="url(#cs0)">
<path class="rk" d="M212.3 459.8h0M182.1 458.3h0M179.6 458.3h0M176.3 457.7h0M170.5 455.5h0M162.6 455.3h0M158.3 456.7h0M157.7 450.4h0M157.3 459.2h0M150.3 452.4h0M149.2 462.9h0M141.9 459.7h0M140.4 450.9h0M140.1 454.7h0M135.8 464.1h0M128.8 454.8h0M123.8 456.8h0M121.2 454.5h0M118.3 457.1h0M118.2 460.4h0M117.7 455.2h0M116.8 456.0h0M116.8 455.4h0M116.6 456.0h0M115.9 456.8h0M115.8 458.6h0M115.4 454.2h0M115.0 453.5h0M114.7 453.6h0M113.9 455.5h0M113.6 452.3h0M111.8 457.7h0M110.4 456.2h0M109.8 460.6h0M109.2 454.2h0M109.0 451.4h0M108.6 460.1h0M108.1 452.2h0M108.0 456.5h0M108.0 456.5h0M107.5 450.6h0M107.4 457.3h0M106.2 454.5h0M106.0 452.6h0M103.5 460.6h0M102.3 459.1h0M102.0 455.2h0M101.9 457.3h0M101.4 457.6h0M101.2 456.4h0M100.6 453.0h0M100.1 450.0h0M99.9 452.9h0M99.6 456.4h0M99.4 458.9h0M99.3 460.0h0M98.8 458.8h0M98.4 457.6h0M97.2 457.0h0M97.1 459.9h0M96.9 465.4h0M96.4 453.5h0M95.9 458.9h0M95.8 457.3h0M95.6 454.7h0M95.5 458.8h0M95.1 453.9h0M94.2 455.1h0M94.0 452.0h0M93.8 458.3h0M93.7 456.9h0M93.4 456.9h0M93.1 456.8h0M92.6 456.6h0M91.1 454.3h0M90.7 454.0h0M90.4 456.9h0M90.3 452.0h0M89.8 455.7h0M89.4 451.3h0M88.9 454.8h0M88.9 458.5h0M88.6 457.3h0M88.1 454.3h0M88.0 454.2h0M87.8 454.1h0M87.6 456.9h0M87.4 451.0h0M87.1 454.9h0M87.1 454.7h0M86.3 456.1h0M86.1 452.1h0M85.7 457.5h0M85.3 453.6h0M85.3 452.1h0M85.3 453.1h0M85.1 457.7h0M84.9 452.4h0M84.9 455.5h0M84.8 457.0h0M84.6 455.2h0M84.5 450.1h0M83.8 453.8h0M83.4 452.1h0M83.4 458.1h0M83.0 458.9h0M82.9 451.2h0M82.6 452.5h0M82.1 455.0h0M82.1 456.9h0M82.0 455.3h0M81.5 452.0h0M81.5 452.8h0M81.3 463.9h0M81.2 456.3h0M81.0 457.9h0M80.6 455.0h0M80.2 457.3h0M80.1 452.6h0M79.7 454.6h0M79.5 457.7h0M79.5 455.8h0M79.4 458.8h0M79.3 455.9h0M79.0 454.8h0M78.8 456.6h0M78.6 452.8h0M78.4 456.8h0M78.1 456.5h0M78.1 460.2h0M78.1 449.9h0M77.9 456.4h0M77.6 459.0h0M77.4 457.9h0M77.2 457.7h0M76.9 454.3h0M76.8 458.6h0M76.5 454.2h0M76.5 453.5h0M76.0 451.7h0M75.2 456.4h0M75.2 457.0h0M74.8 454.2h0M74.8 460.6h0M74.6 459.3h0M74.1 456.2h0M74.1 456.5h0M73.9 453.7h0M73.8 450.9h0M73.6 451.2h0M73.5 449.9h0M73.3 456.7h0M73.2 457.2h0M73.2 455.7h0M73.0 457.4h0M72.4 452.0h0M72.4 454.2h0M72.1 453.2h0M72.0 452.2h0M71.9 449.3h0M71.8 453.1h0M71.7 452.9h0M71.6 453.2h0M71.6 450.7h0M71.5 452.3h0M71.3 455.0h0M71.3 454.7h0M71.3 459.8h0M71.2 458.4h0M71.1 455.0h0M70.4 454.3h0M70.3 452.4h0M69.4 455.0h0M69.3 454.5h0M69.3 452.2h0M68.8 452.1h0M68.6 453.3h0M68.4 457.8h0M68.3 451.7h0M68.3 456.4h0M68.1 456.0h0M68.1 457.8h0M67.6 451.3h0M67.2 454.1h0M66.9 452.5h0M66.9 454.5h0M66.8 440.3h0M66.6 440.7h0M66.5 452.8h0M66.5 455.0h0M66.3 455.5h0M65.7 454.7h0M65.3 449.9h0M64.8 446.7h0M64.8 451.4h0M64.6 457.1h0M64.1 456.7h0M64.1 447.8h0M64.1 455.3h0M63.5 453.1h0M63.5 453.4h0M63.3 451.0h0M63.1 456.1h0M62.7 448.7h0M62.7 457.0h0M62.6 454.3h0M62.6 453.3h0M62.5 455.7h0M62.3 459.8h0M62.2 451.0h0M61.6 451.1h0M61.6 452.8h0M61.5 460.3h0M61.2 452.9h0M60.8 454.7h0M60.7 450.2h0M60.6 458.7h0M60.5 454.2h0M60.5 448.7h0M60.4 458.4h0M60.3 452.1h0M60.2 452.8h0M60.0 442.8h0M59.9 453.8h0M59.8 449.8h0M59.6 453.6h0M59.5 458.4h0M59.5 452.7h0M59.2 448.6h0M59.2 455.4h0M59.2 453.9h0M59.1 451.1h0M59.0 452.5h0M59.0 456.2h0M59.0 456.8h0M58.8 453.9h0M58.7 459.5h0M58.6 451.5h0M58.6 453.8h0M58.6 458.0h0M58.5 443.5h0M58.1 456.0h0M58.0 459.4h0M57.8 455.5h0M57.5 456.2h0M57.3 459.4h0M57.2 456.7h0M57.1 451.7h0M56.9 455.7h0M56.7 451.8h0M56.7 452.2h0M56.1 448.8h0M56.1 452.6h0M56.0 450.0h0M55.9 457.3h0M55.9 458.0h0M55.9 449.5h0M55.8 451.7h0M55.5 456.6h0M55.3 452.1h0M55.2 458.3h0M54.6 460.6h0M54.5 454.6h0M54.5 453.4h0M54.3 458.5h0M54.3 457.4h0M54.2 453.4h0M54.2 455.3h0M54.1 457.1h0M54.0 452.6h0M54.0 458.5h0M54.0 450.3h0M53.8 455.5h0M53.8 452.5h0M53.7 458.9h0M53.7 452.7h0M53.6 455.6h0M53.5 454.6h0M53.0 452.8h0M52.7 453.1h0M52.4 447.7h0M52.4 454.2h0M52.3 454.8h0M52.3 453.5h0M52.2 450.1h0M52.1 454.4h0M51.7 449.3h0M51.7 459.1h0M51.5 456.8h0M51.5 459.5h0M51.4 454.6h0M51.2 452.4h0M51.1 456.5h0M50.8 453.2h0M50.6 451.6h0M50.4 451.4h0M50.3 451.5h0M50.0 454.1h0M49.8 459.1h0M49.6 457.6h0M49.5 456.4h0M49.5 453.3h0M49.4 454.2h0M49.3 455.9h0M49.2 456.6h0M49.2 452.4h0M48.9 456.6h0M48.8 453.2h0M48.7 456.3h0M48.4 447.0h0M48.3 458.1h0M48.3 456.8h0M48.1 455.5h0M48.0 454.1h0M47.9 452.2h0M47.9 451.6h0M47.8 451.5h0M47.6 455.7h0M47.6 455.0h0M47.6 457.3h0M47.5 453.8h0"/><path class="rc" d="M212.3 459.8h0M182.1 458.3h0M179.6 458.3h0M176.3 457.7h0M170.5 455.5h0M162.6 455.3h0M158.3 456.7h0M157.7 450.4h0M157.3 459.2h0M150.3 452.4h0M149.2 462.9h0M141.9 459.7h0M140.4 450.9h0M140.1 454.7h0M135.8 464.1h0M128.8 454.8h0M123.8 456.8h0M121.2 454.5h0M118.3 457.1h0M118.2 460.4h0M117.7 455.2h0M116.8 456.0h0M116.8 455.4h0M116.6 456.0h0M115.9 456.8h0M115.8 458.6h0M115.4 454.2h0M115.0 453.5h0M114.7 453.6h0M113.9 455.5h0M113.6 452.3h0M111.8 457.7h0M110.4 456.2h0M109.8 460.6h0M109.2 454.2h0M109.0 451.4h0M108.6 460.1h0M108.1 452.2h0M108.0 456.5h0M108.0 456.5h0M107.5 450.6h0M107.4 457.3h0M106.2 454.5h0M106.0 452.6h0M103.5 460.6h0M102.3 459.1h0M102.0 455.2h0M101.9 457.3h0M101.4 457.6h0M101.2 456.4h0M100.6 453.0h0M100.1 450.0h0M99.9 452.9h0M99.6 456.4h0M99.4 458.9h0M99.3 460.0h0M98.8 458.8h0M98.4 457.6h0M97.2 457.0h0M97.1 459.9h0M96.9 465.4h0M96.4 453.5h0M95.9 458.9h0M95.8 457.3h0M95.6 454.7h0M95.5 458.8h0M95.1 453.9h0M94.2 455.1h0M94.0 452.0h0M93.8 458.3h0M93.7 456.9h0M93.4 456.9h0M93.1 456.8h0M92.6 456.6h0M91.1 454.3h0M90.7 454.0h0M90.4 456.9h0M90.3 452.0h0M89.8 455.7h0M89.4 451.3h0M88.9 454.8h0M88.9 458.5h0M88.6 457.3h0M88.1 454.3h0M88.0 454.2h0M87.8 454.1h0M87.6 456.9h0M87.4 451.0h0M87.1 454.9h0M87.1 454.7h0M86.3 456.1h0M86.1 452.1h0M85.7 457.5h0M85.3 453.6h0M85.3 452.1h0M85.3 453.1h0M85.1 457.7h0M84.9 452.4h0M84.9 455.5h0M84.8 457.0h0M84.6 455.2h0M84.5 450.1h0M83.8 453.8h0M83.4 452.1h0M83.4 458.1h0M83.0 458.9h0M82.9 451.2h0M82.6 452.5h0M82.1 455.0h0M82.1 456.9h0M82.0 455.3h0M81.5 452.0h0M81.5 452.8h0M81.3 463.9h0M81.2 456.3h0M81.0 457.9h0M80.6 455.0h0M80.2 457.3h0M80.1 452.6h0M79.7 454.6h0M79.5 457.7h0M79.5 455.8h0M79.4 458.8h0M79.3 455.9h0M79.0 454.8h0M78.8 456.6h0M78.6 452.8h0M78.4 456.8h0M78.1 456.5h0M78.1 460.2h0M78.1 449.9h0M77.9 456.4h0M77.6 459.0h0M77.4 457.9h0M77.2 457.7h0M76.9 454.3h0M76.8 458.6h0M76.5 454.2h0M76.5 453.5h0M76.0 451.7h0M75.2 456.4h0M75.2 457.0h0M74.8 454.2h0M74.8 460.6h0M74.6 459.3h0M74.1 456.2h0M74.1 456.5h0M73.9 453.7h0M73.8 450.9h0M73.6 451.2h0M73.5 449.9h0M73.3 456.7h0M73.2 457.2h0M73.2 455.7h0M73.0 457.4h0M72.4 452.0h0M72.4 454.2h0M72.1 453.2h0M72.0 452.2h0M71.9 449.3h0M71.8 453.1h0M71.7 452.9h0M71.6 453.2h0M71.6 450.7h0M71.5 452.3h0M71.3 455.0h0M71.3 454.7h0M71.3 459.8h0M71.2 458.4h0M71.1 455.0h0M70.4 454.3h0M70.3 452.4h0M69.4 455.0h0M69.3 454.5h0M69.3 452.2h0M68.8 452.1h0M68.6 453.3h0M68.4 457.8h0M68.3 451.7h0M68.3 456.4h0M68.1 456.0h0M68.1 457.8h0M67.6 451.3h0M67.2 454.1h0M66.9 452.5h0M66.9 454.5h0M66.8 440.3h0M66.6 440.7h0M66.5 452.8h0M66.5 455.0h0M66.3 455.5h0M65.7 454.7h0M65.3 449.9h0M64.8 446.7h0M64.8 451.4h0M64.6 457.1h0M64.1 456.7h0M64.1 447.8h0M64.1 455.3h0M63.5 453.1h0M63.5 453.4h0M63.3 451.0h0M63.1 456.1h0M62.7 448.7h0M62.7 457.0h0M62.6 454.3h0M62.6 453.3h0M62.5 455.7h0M62.3 459.8h0M62.2 451.0h0M61.6 451.1h0M61.6 452.8h0M61.5 460.3h0M61.2 452.9h0M60.8 454.7h0M60.7 450.2h0M60.6 458.7h0M60.5 454.2h0M60.5 448.7h0M60.4 458.4h0M60.3 452.1h0M60.2 452.8h0M60.0 442.8h0M59.9 453.8h0M59.8 449.8h0M59.6 453.6h0M59.5 458.4h0M59.5 452.7h0M59.2 448.6h0M59.2 455.4h0M59.2 453.9h0M59.1 451.1h0M59.0 452.5h0M59.0 456.2h0M59.0 456.8h0M58.8 453.9h0M58.7 459.5h0M58.6 451.5h0M58.6 453.8h0M58.6 458.0h0M58.5 443.5h0M58.1 456.0h0M58.0 459.4h0M57.8 455.5h0M57.5 456.2h0M57.3 459.4h0M57.2 456.7h0M57.1 451.7h0M56.9 455.7h0M56.7 451.8h0M56.7 452.2h0M56.1 448.8h0M56.1 452.6h0M56.0 450.0h0M55.9 457.3h0M55.9 458.0h0M55.9 449.5h0M55.8 451.7h0M55.5 456.6h0M55.3 452.1h0M55.2 458.3h0M54.6 460.6h0M54.5 454.6h0M54.5 453.4h0M54.3 458.5h0M54.3 457.4h0M54.2 453.4h0M54.2 455.3h0M54.1 457.1h0M54.0 452.6h0M54.0 458.5h0M54.0 450.3h0M53.8 455.5h0M53.8 452.5h0M53.7 458.9h0M53.7 452.7h0M53.6 455.6h0M53.5 454.6h0M53.0 452.8h0M52.7 453.1h0M52.4 447.7h0M52.4 454.2h0M52.3 454.8h0M52.3 453.5h0M52.2 450.1h0M52.1 454.4h0M51.7 449.3h0M51.7 459.1h0M51.5 456.8h0M51.5 459.5h0M51.4 454.6h0M51.2 452.4h0M51.1 456.5h0M50.8 453.2h0M50.6 451.6h0M50.4 451.4h0M50.3 451.5h0M50.0 454.1h0M49.8 459.1h0M49.6 457.6h0M49.5 456.4h0M49.5 453.3h0M49.4 454.2h0M49.3 455.9h0M49.2 456.6h0M49.2 452.4h0M48.9 456.6h0M48.8 453.2h0M48.7 456.3h0M48.4 447.0h0M48.3 458.1h0M48.3 456.8h0M48.1 455.5h0M48.0 454.1h0M47.9 452.2h0M47.9 451.6h0M47.8 451.5h0M47.6 455.7h0M47.6 455.0h0M47.6 457.3h0M47.5 453.8h0"/>
<path class="sg" d="M47.2 450.3H74.4L74.4 451.8H116.0L116.0 452.5H136.0L136.0 452.5H200.5"/><path class="sg" d="M47.2 456.8H74.4L74.4 458.4H116.0L116.0 459.0H136.0L136.0 460.0H200.5"/><path class="md" d="M47.2 453.5H74.4L74.4 454.8H116.0L116.0 455.8H136.0L136.0 456.5H200.5"/>
</g>
<rect class="fr" x="47.20" y="270.90" width="220.90" height="207.90"/>
<path class="fr" d="M47.20 422.00H268.10"/>
<path class="tk" d="M57.37 270.90v1.50M65.51 270.90v1.50M72.16 270.90v1.50M77.79 270.90v1.50M82.66 270.90v1.50M86.96 270.90v1.50M90.80 270.90v3.00M116.09 270.90v1.50M130.88 270.90v1.50M141.37 270.90v1.50M149.51 270.90v1.50M156.16 270.90v1.50M161.79 270.90v1.50M166.66 270.90v1.50M170.96 270.90v1.50M174.80 270.90v3.00M200.09 270.90v1.50M214.88 270.90v1.50M225.37 270.90v1.50M233.51 270.90v1.50M240.16 270.90v1.50M245.79 270.90v1.50M250.66 270.90v1.50M254.96 270.90v1.50M258.80 270.90v3.00M57.37 422.00v-1.50M65.51 422.00v-1.50M72.16 422.00v-1.50M77.79 422.00v-1.50M82.66 422.00v-1.50M86.96 422.00v-1.50M90.80 422.00v-3.00M116.09 422.00v-1.50M130.88 422.00v-1.50M141.37 422.00v-1.50M149.51 422.00v-1.50M156.16 422.00v-1.50M161.79 422.00v-1.50M166.66 422.00v-1.50M170.96 422.00v-1.50M174.80 422.00v-3.00M200.09 422.00v-1.50M214.88 422.00v-1.50M225.37 422.00v-1.50M233.51 422.00v-1.50M240.16 422.00v-1.50M245.79 422.00v-1.50M250.66 422.00v-1.50M254.96 422.00v-1.50M258.80 422.00v-3.00M57.37 422.00v0.60M65.51 422.00v0.60M72.16 422.00v0.60M77.79 422.00v0.60M82.66 422.00v0.60M86.96 422.00v0.60M90.80 422.00v1.20M116.09 422.00v0.60M130.88 422.00v0.60M141.37 422.00v0.60M149.51 422.00v0.60M156.16 422.00v0.60M161.79 422.00v0.60M166.66 422.00v0.60M170.96 422.00v0.60M174.80 422.00v1.20M200.09 422.00v0.60M214.88 422.00v0.60M225.37 422.00v0.60M233.51 422.00v0.60M240.16 422.00v0.60M245.79 422.00v0.60M250.66 422.00v0.60M254.96 422.00v0.60M258.80 422.00v1.20M57.37 478.80v-0.80M65.51 478.80v-0.80M72.16 478.80v-0.80M77.79 478.80v-0.80M82.66 478.80v-0.80M86.96 478.80v-0.80M90.80 478.80v-1.60M116.09 478.80v-0.80M130.88 478.80v-0.80M141.37 478.80v-0.80M149.51 478.80v-0.80M156.16 478.80v-0.80M161.79 478.80v-0.80M166.66 478.80v-0.80M170.96 478.80v-0.80M174.80 478.80v-1.60M200.09 478.80v-0.80M214.88 478.80v-0.80M225.37 478.80v-0.80M233.51 478.80v-0.80M240.16 478.80v-0.80M245.79 478.80v-0.80M250.66 478.80v-0.80M254.96 478.80v-0.80M258.80 478.80v-1.60M47.20 411.42h2.20M268.10 411.42h-2.20M47.20 404.72h2.20M268.10 404.72h-2.20M47.20 399.96h2.20M268.10 399.96h-2.20M47.20 396.27h2.20M268.10 396.27h-2.20M47.20 393.26h2.20M268.10 393.26h-2.20M47.20 390.71h2.20M268.10 390.71h-2.20M47.20 388.50h2.20M268.10 388.50h-2.20M47.20 386.55h2.20M268.10 386.55h-2.20M47.20 384.81h4.50M268.10 384.81h-4.50M47.20 373.35h2.20M268.10 373.35h-2.20M47.20 366.65h2.20M268.10 366.65h-2.20M47.20 361.89h2.20M268.10 361.89h-2.20M47.20 358.20h2.20M268.10 358.20h-2.20M47.20 355.19h2.20M268.10 355.19h-2.20M47.20 352.64h2.20M268.10 352.64h-2.20M47.20 350.43h2.20M268.10 350.43h-2.20M47.20 348.48h2.20M268.10 348.48h-2.20M47.20 346.74h4.50M268.10 346.74h-4.50M47.20 335.28h2.20M268.10 335.28h-2.20M47.20 328.58h2.20M268.10 328.58h-2.20M47.20 323.82h2.20M268.10 323.82h-2.20M47.20 320.13h2.20M268.10 320.13h-2.20M47.20 317.12h2.20M268.10 317.12h-2.20M47.20 314.57h2.20M268.10 314.57h-2.20M47.20 312.36h2.20M268.10 312.36h-2.20M47.20 310.41h2.20M268.10 310.41h-2.20M47.20 308.67h4.50M268.10 308.67h-4.50M47.20 297.21h2.20M268.10 297.21h-2.20M47.20 290.51h2.20M268.10 290.51h-2.20M47.20 285.75h2.20M268.10 285.75h-2.20M47.20 282.06h2.20M268.10 282.06h-2.20M47.20 279.05h2.20M268.10 279.05h-2.20M47.20 276.50h2.20M268.10 276.50h-2.20M47.20 274.29h2.20M268.10 274.29h-2.20M47.20 272.34h2.20M268.10 272.34h-2.20M47.20 270.60h4.50M268.10 270.60h-4.50M47.20 436.93h4.5M268.10 436.93h-4.5M47.20 450.50h4.5M268.10 450.50h-4.5M47.20 465.38h4.5M268.10 465.38h-4.5"/>
<text x="44.60" y="276.70" font-size="10.40" text-anchor="end">1000</text>
<text x="44.60" y="312.17" font-size="10.40" text-anchor="end">100</text>
<text x="44.60" y="350.24" font-size="10.40" text-anchor="end">10</text>
<text x="44.60" y="388.31" font-size="10.40" text-anchor="end">1</text>
<text x="44.60" y="428.10" font-size="10.40" text-anchor="end">10.0</text>
<text x="44.60" y="440.60" font-size="10.40" text-anchor="end">3.0</text>
<text x="44.60" y="453.70" font-size="10.40" text-anchor="end">1.0</text>
<text x="44.60" y="468.30" font-size="10.40" text-anchor="end">0.3</text>
<text x="44.60" y="478.50" font-size="10.40" text-anchor="end">0.1</text>
<text x="91.00" y="491.80" font-size="10.40" text-anchor="middle">10<tspan dy="-4.8" font-size="6.6">12</tspan></text>
<text x="175.00" y="491.80" font-size="10.40" text-anchor="middle">10<tspan dy="-4.8" font-size="6.6">13</tspan></text>
<text x="259.00" y="491.80" font-size="10.40" text-anchor="middle">10<tspan dy="-4.8" font-size="6.6">14</tspan></text>
<text x="157.65" y="502.70" font-size="10.40" text-anchor="middle">M200 (M<tspan dy="2.5" font-size="6.6">sun</tspan><tspan dy="-2.5">)</tspan></text>
<text x="410.80" y="26.40" font-size="13.10" text-anchor="middle">COOLZ2, z=1.5 - standard core</text>
<g clip-path="url(#ct1)">
<path class="ln" d="M300.5 152.1V165.2M301.5 151.3V164.6M301.5 155.6V166.1M301.5 157.0V172.6M301.5 159.3V173.9M302.5 154.9V167.5M302.5 155.8V170.3M302.5 159.2V170.0M303.5 156.5V167.2M303.5 159.0V170.5M304.5 155.3V166.7M304.5 156.6V169.9M305.5 148.0V161.4M305.5 151.8V167.3M305.5 154.3V168.4M305.5 156.6V170.0M306.5 156.7V170.4M307.5 154.3V166.6M308.5 142.8V155.6M308.5 153.7V167.0M309.5 146.0V160.1M310.5 150.7V163.7M310.5 152.0V164.7M310.5 157.3V169.5M311.5 150.9V164.7M312.5 149.4V163.1M312.5 153.1V163.5M313.5 149.0V161.7M313.5 152.2V165.7M314.5 148.9V163.5M314.5 152.8V165.7M316.5 144.4V156.9M316.5 150.6V162.8M316.5 152.5V165.5M317.5 148.9V161.4M318.5 142.1V153.9M318.5 149.3V161.3M318.5 151.8V164.6M319.5 150.1V161.1M320.5 147.6V160.1M321.5 143.7V156.8M321.5 149.0V162.9M322.5 145.6V155.8M322.5 151.2V166.2M323.5 151.2V164.9M324.5 149.3V163.0M326.5 144.3V158.8M326.5 146.9V159.9M327.5 146.7V162.0M328.5 148.1V162.4M330.5 143.1V158.0M330.5 146.3V160.3M331.5 145.6V160.1M332.5 146.9V163.2M334.5 145.6V160.4M335.5 148.6V162.6M336.5 146.0V160.7M337.5 140.1V155.3M338.5 142.2V157.7M339.5 136.3V150.9M340.5 139.9V154.0M341.5 144.9V160.8M342.5 142.4V157.5M344.5 138.9V153.4M345.5 138.9V153.9M346.5 142.6V157.9M347.5 142.6V157.2M350.5 138.8V153.9M351.5 141.2V155.2M354.5 135.5V150.3M356.5 133.8V148.4M356.5 138.6V152.8M359.5 124.6V141.7M361.5 131.8V146.7M362.5 138.4V153.5M364.5 132.1V147.6M367.5 133.4V149.3M370.5 134.4V147.7M376.5 124.6V140.5M383.5 124.5V138.7M394.5 111.0V126.9M410.5 110.7V124.9M428.5 101.9V117.1"/>
<path class="ln" d="M300.5 156.4V167.5M301.5 152.2V162.4M301.5 156.1V167.1M301.5 157.5V169.9M302.5 150.7V164.5M302.5 154.9V169.8M302.5 155.9V166.6M303.5 151.6V166.5M303.5 157.2V168.8M304.5 153.6V165.1M304.5 155.7V166.7M304.5 156.8V170.3M305.5 150.1V162.7M305.5 152.4V167.3M305.5 154.4V170.0M306.5 152.3V164.0M306.5 157.5V168.8M307.5 156.7V171.4M308.5 152.7V162.3M308.5 154.5V167.0M309.5 150.1V161.0M310.5 151.5V164.3M310.5 153.8V169.1M311.5 149.1V161.1M311.5 152.8V164.6M312.5 151.0V161.7M312.5 154.4V166.0M313.5 149.7V163.0M313.5 153.0V165.5M314.5 149.5V162.8M314.5 153.6V164.6M316.5 147.1V162.3M316.5 150.8V161.6M316.5 155.3V165.7M317.5 149.3V162.7M318.5 145.1V156.5M318.5 150.4V162.1M318.5 154.4V166.6M319.5 151.2V164.2M320.5 149.1V162.9M321.5 146.1V158.5M321.5 149.7V163.2M322.5 148.5V162.6M322.5 152.3V164.5M324.5 140.8V157.4M325.5 144.5V158.1M326.5 145.9V159.7M326.5 147.3V162.2M328.5 142.9V156.4M329.5 143.6V159.0M330.5 143.9V158.6M331.5 136.0V152.6M331.5 147.9V163.2M333.5 146.1V159.7M335.5 137.6V154.8M336.5 143.5V158.5M337.5 133.7V150.0M337.5 146.3V162.1M338.5 143.4V158.1M339.5 139.4V155.2M340.5 140.7V156.3M342.5 137.8V152.2M343.5 140.4V155.9M344.5 142.0V157.4M345.5 141.9V157.5M346.5 143.2V158.5M348.5 139.0V153.1M351.5 137.8V152.8M353.5 135.5V149.9M354.5 137.9V152.6M356.5 135.3V149.6M357.5 118.9V137.4M359.5 129.8V145.5M361.5 132.7V146.5M363.5 132.6V147.6M365.5 133.2V146.9M368.5 125.3V139.2M371.5 133.7V148.8M378.5 126.0V142.3M388.5 107.7V137.2M401.5 106.5V126.8M410.5 111.0V128.5M432.5 88.2V105.8"/>
<path class="ln" d="M300.5 156.7V169.4M301.5 152.9V167.4M301.5 156.4V171.1M301.5 157.9V171.9M302.5 153.0V164.3M302.5 155.6V165.9M302.5 156.2V166.6M303.5 153.5V165.4M303.5 157.6V169.8M304.5 154.2V166.8M304.5 156.2V170.1M304.5 158.5V171.8M305.5 150.9V164.6M305.5 153.6V166.9M305.5 154.7V158.1M306.5 153.1V166.4M307.5 142.7V158.6M307.5 158.0V170.3M308.5 153.5V167.6M308.5 154.8V166.6M309.5 150.7V165.4M310.5 151.5V165.0M310.5 154.1V164.9M311.5 150.3V162.6M311.5 154.3V164.9M312.5 152.1V165.1M312.5 155.4V167.0M313.5 151.9V165.9M313.5 153.1V163.2M314.5 150.6V163.4M314.5 155.6V169.2M316.5 147.2V161.0M316.5 151.3V161.9M316.5 155.4V168.2M317.5 151.3V163.1M318.5 146.9V160.4M318.5 150.7V163.0M319.5 143.2V157.7M319.5 152.8V166.5M320.5 149.7V162.4M321.5 147.3V159.7M321.5 150.2V162.0M322.5 149.1V162.4M323.5 148.6V160.8M324.5 145.4V159.2M325.5 150.9V165.6M326.5 146.3V161.1M326.5 149.3V161.8M328.5 145.4V161.7M329.5 144.9V160.3M330.5 144.6V158.8M331.5 140.7V155.0M332.5 137.5V154.0M333.5 146.6V162.3M335.5 138.7V153.9M336.5 145.1V160.7M337.5 135.8V150.8M338.5 130.1V147.3M338.5 144.9V159.9M339.5 142.5V156.5M340.5 141.0V157.0M342.5 141.5V155.3M343.5 142.0V157.6M344.5 143.1V159.0M345.5 143.8V158.7M347.5 138.9V154.6M349.5 123.0V140.4M351.5 139.6V154.1M353.5 137.6V151.9M354.5 140.7V155.1M356.5 135.7V150.5M357.5 134.8V149.7M359.5 138.9V152.9M361.5 133.8V148.8M363.5 134.4V148.7M366.5 130.9V147.2M368.5 126.9V142.9M372.5 124.2V140.0M381.5 118.2V135.2M392.5 119.1V132.0M403.5 114.1V131.7M415.5 104.7V119.1M434.5 100.4V119.8"/>
<path class="ln" d="M300.5 158.4V170.4M301.5 155.2V168.4M301.5 156.8V171.1M301.5 159.1V171.7M302.5 153.6V166.6M302.5 155.7V169.4M302.5 158.3V169.9M303.5 155.8V168.9M303.5 158.6V171.2M304.5 154.3V164.6M304.5 156.4V169.3M305.5 145.4V155.6M305.5 151.0V165.0M305.5 154.2V168.5M305.5 155.9V167.5M306.5 154.6V167.3M307.5 147.3V159.8M307.5 158.4V170.0M308.5 153.6V165.1M308.5 156.0V169.0M309.5 156.8V167.6M310.5 151.9V165.8M310.5 156.5V167.6M311.5 150.5V162.6M311.5 154.5V168.7M312.5 152.1V164.7M313.5 146.0V157.5M313.5 151.9V162.8M314.5 135.6V152.1M314.5 150.7V162.2M315.5 142.1V153.2M316.5 149.3V165.1M316.5 151.3V166.3M317.5 146.7V161.7M317.5 153.1V166.6M318.5 147.7V159.1M318.5 151.8V163.6M319.5 147.0V159.8M320.5 145.6V158.0M320.5 152.0V166.3M321.5 148.9V160.3M321.5 151.0V162.5M322.5 150.0V162.6M323.5 150.4V163.8M324.5 148.6V163.7M326.5 141.1V155.9M326.5 146.5V158.8M326.5 150.0V165.0M328.5 145.7V161.3M329.5 147.3V161.4M330.5 145.6V161.2M331.5 145.2V159.2M332.5 146.7V150.8M334.5 144.0V158.2M335.5 142.7V156.8M336.5 145.6V160.5M337.5 139.2V155.4M338.5 135.8V152.5M338.5 147.3V161.3M340.5 139.1V154.4M340.5 142.9V156.6M342.5 142.4V156.4M343.5 143.1V158.7M345.5 138.5V154.8M346.5 140.1V154.9M347.5 139.4V154.4M349.5 133.7V148.5M351.5 140.7V153.8M353.5 139.9V155.8M355.5 138.6V153.1M356.5 136.9V152.0M358.5 134.1V146.9M360.5 136.5V151.7M362.5 131.4V146.6M364.5 131.7V145.3M367.5 123.7V140.1M369.5 133.0V146.7M372.5 129.4V144.0M382.5 123.0V139.4M393.5 118.6V134.6M410.5 110.2V131.3M423.5 105.7V119.1M464.5 82.5V101.6"/>
<g class="rg"><circle cx="300.4" cy="169.4" r="2.9"/><circle cx="300.6" cy="170.4" r="2.9"/><circle cx="300.6" cy="167.5" r="2.9"/><circle cx="300.7" cy="165.2" r="2.9"/><circle cx="301.1" cy="164.6" r="2.9"/><circle cx="301.1" cy="171.1" r="2.9"/><circle cx="301.1" cy="169.9" r="2.9"/><circle cx="301.3" cy="167.4" r="2.9"/><circle cx="301.4" cy="171.7" r="2.9"/><circle cx="301.4" cy="166.1" r="2.9"/><circle cx="301.5" cy="168.4" r="2.9"/><circle cx="301.6" cy="172.6" r="2.9"/><circle cx="301.6" cy="167.1" r="2.9"/><circle cx="301.7" cy="162.4" r="2.9"/><circle cx="301.7" cy="173.9" r="2.9"/><circle cx="301.8" cy="171.1" r="2.9"/><circle cx="302.0" cy="171.9" r="2.9"/><circle cx="302.0" cy="166.6" r="2.9"/><circle cx="302.0" cy="170.0" r="2.9"/><circle cx="302.1" cy="167.5" r="2.9"/><circle cx="302.1" cy="166.6" r="2.9"/><circle cx="302.2" cy="164.3" r="2.9"/><circle cx="302.3" cy="170.3" r="2.9"/><circle cx="302.4" cy="165.9" r="2.9"/><circle cx="302.4" cy="169.4" r="2.9"/><circle cx="302.5" cy="164.5" r="2.9"/><circle cx="302.6" cy="166.6" r="2.9"/><circle cx="302.6" cy="169.9" r="2.9"/><circle cx="302.8" cy="169.8" r="2.9"/><circle cx="303.3" cy="165.4" r="2.9"/><circle cx="303.3" cy="168.9" r="2.9"/><circle cx="303.3" cy="168.8" r="2.9"/><circle cx="303.3" cy="171.2" r="2.9"/><circle cx="303.5" cy="169.8" r="2.9"/><circle cx="303.7" cy="166.5" r="2.9"/><circle cx="303.8" cy="167.2" r="2.9"/><circle cx="303.8" cy="170.5" r="2.9"/><circle cx="304.1" cy="166.7" r="2.9"/><circle cx="304.2" cy="164.6" r="2.9"/><circle cx="304.3" cy="170.1" r="2.9"/><circle cx="304.5" cy="166.8" r="2.9"/><circle cx="304.6" cy="170.3" r="2.9"/><circle cx="304.7" cy="166.7" r="2.9"/><circle cx="304.7" cy="171.8" r="2.9"/><circle cx="304.7" cy="169.3" r="2.9"/><circle cx="304.7" cy="165.1" r="2.9"/><circle cx="304.8" cy="169.9" r="2.9"/><circle cx="305.1" cy="168.4" r="2.9"/><circle cx="305.2" cy="161.4" r="2.9"/><circle cx="305.2" cy="168.5" r="2.9"/><circle cx="305.2" cy="165.0" r="2.9"/><circle cx="305.3" cy="162.7" r="2.9"/><circle cx="305.6" cy="166.9" r="2.9"/><circle cx="305.6" cy="155.6" r="2.9"/><circle cx="305.7" cy="164.6" r="2.9"/><circle cx="305.8" cy="170.0" r="2.9"/><circle cx="305.8" cy="170.0" r="2.9"/><circle cx="305.8" cy="158.1" r="2.9"/><circle cx="305.9" cy="167.5" r="2.9"/><circle cx="306.0" cy="167.3" r="2.9"/><circle cx="306.0" cy="167.3" r="2.9"/><circle cx="306.4" cy="170.4" r="2.9"/><circle cx="306.4" cy="166.4" r="2.9"/><circle cx="306.6" cy="167.3" r="2.9"/><circle cx="306.8" cy="168.8" r="2.9"/><circle cx="307.0" cy="164.0" r="2.9"/><circle cx="307.3" cy="159.8" r="2.9"/><circle cx="307.3" cy="171.4" r="2.9"/><circle cx="307.6" cy="170.0" r="2.9"/><circle cx="307.6" cy="166.6" r="2.9"/><circle cx="308.0" cy="170.3" r="2.9"/><circle cx="308.2" cy="162.3" r="2.9"/><circle cx="308.2" cy="166.6" r="2.9"/><circle cx="308.3" cy="165.1" r="2.9"/><circle cx="308.4" cy="155.6" r="2.9"/><circle cx="308.7" cy="167.0" r="2.9"/><circle cx="308.7" cy="169.0" r="2.9"/><circle cx="308.8" cy="167.6" r="2.9"/><circle cx="308.9" cy="167.0" r="2.9"/><circle cx="309.3" cy="167.6" r="2.9"/><circle cx="309.7" cy="165.4" r="2.9"/><circle cx="309.9" cy="161.0" r="2.9"/><circle cx="310.0" cy="160.1" r="2.9"/><circle cx="310.0" cy="163.7" r="2.9"/><circle cx="310.0" cy="167.6" r="2.9"/><circle cx="310.1" cy="164.9" r="2.9"/><circle cx="310.1" cy="164.3" r="2.9"/><circle cx="310.3" cy="164.7" r="2.9"/><circle cx="310.5" cy="169.5" r="2.9"/><circle cx="310.5" cy="165.8" r="2.9"/><circle cx="310.6" cy="165.0" r="2.9"/><circle cx="310.9" cy="169.1" r="2.9"/><circle cx="311.0" cy="168.7" r="2.9"/><circle cx="311.3" cy="162.6" r="2.9"/><circle cx="311.4" cy="164.7" r="2.9"/><circle cx="311.4" cy="162.6" r="2.9"/><circle cx="311.5" cy="164.9" r="2.9"/><circle cx="311.6" cy="164.6" r="2.9"/><circle cx="311.7" cy="161.1" r="2.9"/><circle cx="312.0" cy="167.0" r="2.9"/><circle cx="312.2" cy="166.0" r="2.9"/><circle cx="312.2" cy="164.7" r="2.9"/><circle cx="312.2" cy="165.1" r="2.9"/><circle cx="312.3" cy="163.5" r="2.9"/><circle cx="312.6" cy="161.7" r="2.9"/><circle cx="312.9" cy="163.1" r="2.9"/><circle cx="313.3" cy="165.5" r="2.9"/><circle cx="313.4" cy="157.5" r="2.9"/><circle cx="313.5" cy="163.2" r="2.9"/><circle cx="313.5" cy="161.7" r="2.9"/><circle cx="313.6" cy="162.8" r="2.9"/><circle cx="313.7" cy="165.9" r="2.9"/><circle cx="313.7" cy="165.7" r="2.9"/><circle cx="313.9" cy="163.0" r="2.9"/><circle cx="314.0" cy="163.5" r="2.9"/><circle cx="314.1" cy="163.4" r="2.9"/><circle cx="314.1" cy="162.8" r="2.9"/><circle cx="314.2" cy="162.2" r="2.9"/><circle cx="314.4" cy="165.7" r="2.9"/><circle cx="314.6" cy="164.6" r="2.9"/><circle cx="314.6" cy="169.2" r="2.9"/><circle cx="315.7" cy="153.2" r="2.9"/><circle cx="316.1" cy="168.2" r="2.9"/><circle cx="316.2" cy="165.7" r="2.9"/><circle cx="316.2" cy="161.6" r="2.9"/><circle cx="316.3" cy="161.0" r="2.9"/><circle cx="316.4" cy="156.9" r="2.9"/><circle cx="316.5" cy="166.3" r="2.9"/><circle cx="316.5" cy="162.3" r="2.9"/><circle cx="316.6" cy="161.9" r="2.9"/><circle cx="316.7" cy="162.8" r="2.9"/><circle cx="316.8" cy="165.1" r="2.9"/><circle cx="316.8" cy="165.5" r="2.9"/><circle cx="317.3" cy="166.6" r="2.9"/><circle cx="317.5" cy="161.7" r="2.9"/><circle cx="317.6" cy="163.1" r="2.9"/><circle cx="317.8" cy="162.7" r="2.9"/><circle cx="318.0" cy="161.4" r="2.9"/><circle cx="318.0" cy="156.5" r="2.9"/><circle cx="318.0" cy="163.6" r="2.9"/><circle cx="318.3" cy="161.3" r="2.9"/><circle cx="318.3" cy="153.9" r="2.9"/><circle cx="318.4" cy="164.6" r="2.9"/><circle cx="318.4" cy="160.4" r="2.9"/><circle cx="318.5" cy="163.0" r="2.9"/><circle cx="318.6" cy="166.6" r="2.9"/><circle cx="318.6" cy="162.1" r="2.9"/><circle cx="318.8" cy="159.1" r="2.9"/><circle cx="319.0" cy="159.8" r="2.9"/><circle cx="319.2" cy="166.5" r="2.9"/><circle cx="319.3" cy="161.1" r="2.9"/><circle cx="319.8" cy="164.2" r="2.9"/><circle cx="320.0" cy="166.3" r="2.9"/><circle cx="320.5" cy="162.4" r="2.9"/><circle cx="320.6" cy="162.9" r="2.9"/><circle cx="320.6" cy="160.1" r="2.9"/><circle cx="321.0" cy="158.0" r="2.9"/><circle cx="321.3" cy="158.5" r="2.9"/><circle cx="321.7" cy="156.8" r="2.9"/><circle cx="321.8" cy="160.3" r="2.9"/><circle cx="321.8" cy="162.0" r="2.9"/><circle cx="321.8" cy="162.9" r="2.9"/><circle cx="321.9" cy="163.2" r="2.9"/><circle cx="321.9" cy="162.5" r="2.9"/><circle cx="321.9" cy="159.7" r="2.9"/><circle cx="322.2" cy="162.6" r="2.9"/><circle cx="322.4" cy="155.8" r="2.9"/><circle cx="322.5" cy="166.2" r="2.9"/><circle cx="322.7" cy="162.4" r="2.9"/><circle cx="322.9" cy="162.6" r="2.9"/><circle cx="322.9" cy="164.5" r="2.9"/><circle cx="323.3" cy="164.9" r="2.9"/><circle cx="323.4" cy="160.8" r="2.9"/><circle cx="323.8" cy="163.8" r="2.9"/><circle cx="324.1" cy="159.2" r="2.9"/><circle cx="324.8" cy="163.0" r="2.9"/><circle cx="324.9" cy="163.7" r="2.9"/><circle cx="325.3" cy="158.1" r="2.9"/><circle cx="325.9" cy="165.6" r="2.9"/><circle cx="326.0" cy="161.1" r="2.9"/><circle cx="326.1" cy="161.8" r="2.9"/><circle cx="326.2" cy="159.9" r="2.9"/><circle cx="326.2" cy="165.0" r="2.9"/><circle cx="326.4" cy="158.8" r="2.9"/><circle cx="326.5" cy="159.7" r="2.9"/><circle cx="326.5" cy="155.9" r="2.9"/><circle cx="326.7" cy="162.2" r="2.9"/><circle cx="327.0" cy="158.8" r="2.9"/><circle cx="327.1" cy="162.0" r="2.9"/><circle cx="328.4" cy="161.3" r="2.9"/><circle cx="328.5" cy="162.4" r="2.9"/><circle cx="328.8" cy="156.4" r="2.9"/><circle cx="328.9" cy="161.7" r="2.9"/><circle cx="329.5" cy="159.0" r="2.9"/><circle cx="329.6" cy="161.4" r="2.9"/><circle cx="329.9" cy="160.3" r="2.9"/><circle cx="330.4" cy="158.6" r="2.9"/><circle cx="330.4" cy="161.2" r="2.9"/><circle cx="330.5" cy="158.0" r="2.9"/><circle cx="330.6" cy="160.3" r="2.9"/><circle cx="331.0" cy="158.8" r="2.9"/><circle cx="331.3" cy="159.2" r="2.9"/><circle cx="331.5" cy="155.0" r="2.9"/><circle cx="331.6" cy="163.2" r="2.9"/><circle cx="331.7" cy="160.1" r="2.9"/><circle cx="332.1" cy="163.2" r="2.9"/><circle cx="332.3" cy="150.8" r="2.9"/><circle cx="332.5" cy="154.0" r="2.9"/><circle cx="333.4" cy="162.3" r="2.9"/><circle cx="333.4" cy="159.7" r="2.9"/><circle cx="334.4" cy="160.4" r="2.9"/><circle cx="334.7" cy="158.2" r="2.9"/><circle cx="335.1" cy="154.8" r="2.9"/><circle cx="335.2" cy="153.9" r="2.9"/><circle cx="335.3" cy="162.6" r="2.9"/><circle cx="335.6" cy="156.8" r="2.9"/><circle cx="336.0" cy="160.5" r="2.9"/><circle cx="336.3" cy="158.5" r="2.9"/><circle cx="336.4" cy="160.7" r="2.9"/><circle cx="336.8" cy="160.7" r="2.9"/><circle cx="337.1" cy="162.1" r="2.9"/><circle cx="337.2" cy="155.3" r="2.9"/><circle cx="337.5" cy="155.4" r="2.9"/><circle cx="338.0" cy="150.8" r="2.9"/><circle cx="338.1" cy="158.1" r="2.9"/><circle cx="338.2" cy="152.5" r="2.9"/><circle cx="338.3" cy="157.7" r="2.9"/><circle cx="338.9" cy="159.9" r="2.9"/><circle cx="338.9" cy="161.3" r="2.9"/><circle cx="339.1" cy="155.2" r="2.9"/><circle cx="339.6" cy="156.5" r="2.9"/><circle cx="339.9" cy="150.9" r="2.9"/><circle cx="340.2" cy="156.6" r="2.9"/><circle cx="340.5" cy="154.4" r="2.9"/><circle cx="340.6" cy="154.0" r="2.9"/><circle cx="340.7" cy="156.3" r="2.9"/><circle cx="341.0" cy="157.0" r="2.9"/><circle cx="341.3" cy="160.8" r="2.9"/><circle cx="342.4" cy="157.5" r="2.9"/><circle cx="342.4" cy="152.2" r="2.9"/><circle cx="342.4" cy="156.4" r="2.9"/><circle cx="342.8" cy="155.3" r="2.9"/><circle cx="343.1" cy="158.7" r="2.9"/><circle cx="343.6" cy="157.6" r="2.9"/><circle cx="343.6" cy="155.9" r="2.9"/><circle cx="344.1" cy="157.4" r="2.9"/><circle cx="344.6" cy="153.4" r="2.9"/><circle cx="344.8" cy="159.0" r="2.9"/><circle cx="345.0" cy="158.7" r="2.9"/><circle cx="345.7" cy="154.8" r="2.9"/><circle cx="345.8" cy="157.5" r="2.9"/><circle cx="345.8" cy="153.9" r="2.9"/><circle cx="346.1" cy="158.5" r="2.9"/><circle cx="346.6" cy="157.9" r="2.9"/><circle cx="346.9" cy="154.9" r="2.9"/><circle cx="347.3" cy="157.2" r="2.9"/><circle cx="347.8" cy="154.4" r="2.9"/><circle cx="348.0" cy="154.6" r="2.9"/><circle cx="348.2" cy="153.1" r="2.9"/><circle cx="349.2" cy="148.5" r="2.9"/><circle cx="350.4" cy="153.9" r="2.9"/><circle cx="351.2" cy="154.1" r="2.9"/><circle cx="351.7" cy="152.8" r="2.9"/><circle cx="351.8" cy="153.8" r="2.9"/><circle cx="351.8" cy="155.2" r="2.9"/><circle cx="353.2" cy="151.9" r="2.9"/><circle cx="353.5" cy="149.9" r="2.9"/><circle cx="354.0" cy="155.8" r="2.9"/><circle cx="354.2" cy="155.1" r="2.9"/><circle cx="354.4" cy="152.6" r="2.9"/><circle cx="354.4" cy="150.3" r="2.9"/><circle cx="355.0" cy="153.1" r="2.9"/><circle cx="356.0" cy="149.6" r="2.9"/><circle cx="356.5" cy="148.4" r="2.9"/><circle cx="356.5" cy="152.8" r="2.9"/><circle cx="356.5" cy="152.0" r="2.9"/><circle cx="356.7" cy="150.5" r="2.9"/><circle cx="358.0" cy="149.7" r="2.9"/><circle cx="358.6" cy="146.9" r="2.9"/><circle cx="359.3" cy="145.5" r="2.9"/><circle cx="360.0" cy="152.9" r="2.9"/><circle cx="360.0" cy="151.7" r="2.9"/><circle cx="361.4" cy="148.8" r="2.9"/><circle cx="361.7" cy="146.7" r="2.9"/><circle cx="361.9" cy="146.5" r="2.9"/><circle cx="362.5" cy="146.6" r="2.9"/><circle cx="362.7" cy="153.5" r="2.9"/><circle cx="363.1" cy="148.7" r="2.9"/><circle cx="363.4" cy="147.6" r="2.9"/><circle cx="364.4" cy="145.3" r="2.9"/><circle cx="364.4" cy="147.6" r="2.9"/><circle cx="365.6" cy="146.9" r="2.9"/><circle cx="366.3" cy="147.2" r="2.9"/><circle cx="367.0" cy="149.3" r="2.9"/><circle cx="368.1" cy="142.9" r="2.9"/><circle cx="368.5" cy="139.2" r="2.9"/><circle cx="369.1" cy="146.7" r="2.9"/><circle cx="370.7" cy="147.7" r="2.9"/><circle cx="371.5" cy="148.8" r="2.9"/><circle cx="372.5" cy="144.0" r="2.9"/><circle cx="314.5" cy="152.1" r="2.9"/><circle cx="307.4" cy="158.6" r="2.9"/><circle cx="319.2" cy="157.7" r="2.9"/><circle cx="324.5" cy="157.4" r="2.9"/><circle cx="331.2" cy="152.6" r="2.9"/><circle cx="339.0" cy="147.3" r="2.9"/><circle cx="337.1" cy="150.0" r="2.9"/><circle cx="349.7" cy="140.4" r="2.9"/><circle cx="357.2" cy="137.4" r="2.9"/><circle cx="359.7" cy="141.7" r="2.9"/><circle cx="367.5" cy="140.1" r="2.9"/><circle cx="372.8" cy="140.0" r="2.9"/><circle cx="376.2" cy="140.5" r="2.9"/><circle cx="381.5" cy="135.2" r="2.9"/><circle cx="383.9" cy="138.7" r="2.9"/><circle cx="378.9" cy="142.3" r="2.9"/><circle cx="382.4" cy="139.4" r="2.9"/><circle cx="465.0" cy="101.6" r="2.9"/><circle cx="432.6" cy="105.8" r="2.9"/><circle cx="435.0" cy="119.8" r="2.9"/><circle cx="428.9" cy="117.1" r="2.9"/><circle cx="423.2" cy="119.1" r="2.9"/><circle cx="419.8" cy="121.1" r="2.9"/><circle cx="415.6" cy="119.1" r="2.9"/><circle cx="410.7" cy="124.9" r="2.9"/><circle cx="410.4" cy="128.5" r="2.9"/><circle cx="410.1" cy="131.3" r="2.9"/><circle cx="401.9" cy="126.8" r="2.9"/><circle cx="403.1" cy="131.7" r="2.9"/><circle cx="394.8" cy="126.9" r="2.9"/><circle cx="392.9" cy="132.0" r="2.9"/><circle cx="393.1" cy="134.6" r="2.9"/><circle cx="388.7" cy="137.2" r="2.9"/></g>
<path class="bk" d="M300.4 156.7h0M300.6 158.4h0M300.6 156.4h0M300.7 152.1h0M301.1 151.3h0M301.1 156.8h0M301.1 157.5h0M301.3 152.9h0M301.4 159.1h0M301.4 155.6h0M301.5 155.2h0M301.6 157.0h0M301.6 156.1h0M301.7 152.2h0M301.7 159.3h0M301.8 156.4h0M302.0 157.9h0M302.0 153.6h0M302.0 159.2h0M302.1 154.9h0M302.1 155.9h0M302.2 153.0h0M302.3 155.8h0M302.4 155.6h0M302.4 155.7h0M302.5 150.7h0M302.6 156.2h0M302.6 158.3h0M302.8 154.9h0M303.3 153.5h0M303.3 155.8h0M303.3 157.2h0M303.3 158.6h0M303.5 157.6h0M303.7 151.6h0M303.8 156.5h0M303.8 159.0h0M304.1 155.7h0M304.2 154.3h0M304.3 156.2h0M304.5 154.2h0M304.6 156.8h0M304.7 155.3h0M304.7 158.5h0M304.7 156.4h0M304.7 153.6h0M304.8 156.6h0M305.1 154.3h0M305.2 148.0h0M305.2 154.2h0M305.2 151.0h0M305.3 150.1h0M305.6 153.6h0M305.6 145.4h0M305.7 150.9h0M305.8 154.4h0M305.8 156.6h0M305.8 154.7h0M305.9 155.9h0M306.0 152.4h0M306.0 151.8h0M306.4 156.7h0M306.4 153.1h0M306.6 154.6h0M306.8 157.5h0M307.0 152.3h0M307.3 147.3h0M307.3 156.7h0M307.6 158.4h0M307.6 154.3h0M308.0 158.0h0M308.2 152.7h0M308.2 154.8h0M308.3 153.6h0M308.4 142.8h0M308.7 154.5h0M308.7 156.0h0M308.8 153.5h0M308.9 153.7h0M309.3 156.8h0M309.7 150.7h0M309.9 150.1h0M310.0 146.0h0M310.0 150.7h0M310.0 156.5h0M310.1 154.1h0M310.1 151.5h0M310.3 152.0h0M310.5 157.3h0M310.5 151.9h0M310.6 151.5h0M310.9 153.8h0M311.0 154.5h0M311.3 150.5h0M311.4 150.9h0M311.4 150.3h0M311.5 154.3h0M311.6 152.8h0M311.7 149.1h0M312.0 155.4h0M312.2 154.4h0M312.2 152.1h0M312.2 152.1h0M312.3 153.1h0M312.6 151.0h0M312.9 149.4h0M313.3 153.0h0M313.4 146.0h0M313.5 153.1h0M313.5 149.0h0M313.6 151.9h0M313.7 151.9h0M313.7 152.2h0M313.9 149.7h0M314.0 148.9h0M314.1 150.6h0M314.1 149.5h0M314.2 150.7h0M314.4 152.8h0M314.6 153.6h0M314.6 155.6h0M315.7 142.1h0M316.1 155.4h0M316.2 155.3h0M316.2 150.8h0M316.3 147.2h0M316.4 144.4h0M316.5 151.3h0M316.5 147.1h0M316.6 151.3h0M316.7 150.6h0M316.8 149.3h0M316.8 152.5h0M317.3 153.1h0M317.5 146.7h0M317.6 151.3h0M317.8 149.3h0M318.0 148.9h0M318.0 145.1h0M318.0 151.8h0M318.3 149.3h0M318.3 142.1h0M318.4 151.8h0M318.4 146.9h0M318.5 150.7h0M318.6 154.4h0M318.6 150.4h0M318.8 147.7h0M319.0 147.0h0M319.2 152.8h0M319.3 150.1h0M319.8 151.2h0M320.0 152.0h0M320.5 149.7h0M320.6 149.1h0M320.6 147.6h0M321.0 145.6h0M321.3 146.1h0M321.7 143.7h0M321.8 148.9h0M321.8 150.2h0M321.8 149.0h0M321.9 149.7h0M321.9 151.0h0M321.9 147.3h0M322.2 148.5h0M322.4 145.6h0M322.5 151.2h0M322.7 149.1h0M322.9 150.0h0M322.9 152.3h0M323.3 151.2h0M323.4 148.6h0M323.8 150.4h0M324.1 145.4h0M324.8 149.3h0M324.9 148.6h0M325.3 144.5h0M325.9 150.9h0M326.0 146.3h0M326.1 149.3h0M326.2 146.9h0M326.2 150.0h0M326.4 144.3h0M326.5 145.9h0M326.5 141.1h0M326.7 147.3h0M327.0 146.5h0M327.1 146.7h0M328.4 145.7h0M328.5 148.1h0M328.8 142.9h0M328.9 145.4h0M329.5 143.6h0M329.6 147.3h0M329.9 144.9h0M330.4 143.9h0M330.4 145.6h0M330.5 143.1h0M330.6 146.3h0M331.0 144.6h0M331.3 145.2h0M331.5 140.7h0M331.6 147.9h0M331.7 145.6h0M332.1 146.9h0M332.3 146.7h0M332.5 137.5h0M333.4 146.6h0M333.4 146.1h0M334.4 145.6h0M334.7 144.0h0M335.1 137.6h0M335.2 138.7h0M335.3 148.6h0M335.6 142.7h0M336.0 145.6h0M336.3 143.5h0M336.4 146.0h0M336.8 145.1h0M337.1 146.3h0M337.2 140.1h0M337.5 139.2h0M338.0 135.8h0M338.1 143.4h0M338.2 135.8h0M338.3 142.2h0M338.9 144.9h0M338.9 147.3h0M339.1 139.4h0M339.6 142.5h0M339.9 136.3h0M340.2 142.9h0M340.5 139.1h0M340.6 139.9h0M340.7 140.7h0M341.0 141.0h0M341.3 144.9h0M342.4 142.4h0M342.4 137.8h0M342.4 142.4h0M342.8 141.5h0M343.1 143.1h0M343.6 142.0h0M343.6 140.4h0M344.1 142.0h0M344.6 138.9h0M344.8 143.1h0M345.0 143.8h0M345.7 138.5h0M345.8 141.9h0M345.8 138.9h0M346.1 143.2h0M346.6 142.6h0M346.9 140.1h0M347.3 142.6h0M347.8 139.4h0M348.0 138.9h0M348.2 139.0h0M349.2 133.7h0M350.4 138.8h0M351.2 139.6h0M351.7 137.8h0M351.8 140.7h0M351.8 141.2h0M353.2 137.6h0M353.5 135.5h0M354.0 139.9h0M354.2 140.7h0M354.4 137.9h0M354.4 135.5h0M355.0 138.6h0M356.0 135.3h0M356.5 133.8h0M356.5 138.6h0M356.5 136.9h0M356.7 135.7h0M358.0 134.8h0M358.6 134.1h0M359.3 129.8h0M360.0 138.9h0M360.0 136.5h0M361.4 133.8h0M361.7 131.8h0M361.9 132.7h0M362.5 131.4h0M362.7 138.4h0M363.1 134.4h0M363.4 132.6h0M364.4 131.7h0M364.4 132.1h0M365.6 133.2h0M366.3 130.9h0M367.0 133.4h0M368.1 126.9h0M368.5 125.3h0M369.1 133.0h0M370.7 134.4h0M371.5 133.7h0M372.5 129.4h0M314.5 135.6h0M307.4 142.7h0M319.2 143.2h0M324.5 140.8h0M331.2 136.0h0M339.0 130.1h0M337.1 133.7h0M349.7 123.0h0M357.2 118.9h0M359.7 124.6h0M367.5 123.7h0M372.8 124.2h0M376.2 124.6h0M381.5 118.2h0M383.9 124.5h0M378.9 126.0h0M382.4 123.0h0M465.0 82.5h0M432.6 88.2h0M435.0 100.4h0M428.9 101.9h0M423.2 105.7h0M415.6 104.7h0M410.7 110.7h0M410.4 111.0h0M410.1 110.2h0M401.9 106.5h0M403.1 114.1h0M394.8 111.0h0M392.9 119.1h0M393.1 118.6h0M388.7 107.7h0"/>
</g>
<path class="one" d="M300.35 209.50H521.25"/>
<g clip-path="url(#cr1)">
<path class="rk" d="M465.0 233.5h0M435.0 233.9h0M432.6 231.6h0M428.9 228.6h0M423.2 226.3h0M415.6 227.7h0M410.7 227.3h0M410.4 231.5h0M410.1 236.0h0M403.1 231.7h0M401.9 235.1h0M394.8 229.5h0M393.1 229.6h0M392.9 225.7h0M383.9 227.4h0M382.4 230.1h0M381.5 230.9h0M378.9 230.0h0M376.2 229.5h0M372.8 229.4h0M372.5 227.8h0M371.5 228.5h0M370.7 226.3h0M369.1 226.8h0M368.5 226.9h0M368.1 229.6h0M367.5 230.1h0M367.0 229.5h0M366.3 230.0h0M365.6 226.8h0M364.4 229.0h0M364.4 226.6h0M363.4 228.4h0M363.1 227.6h0M362.7 228.6h0M362.5 228.7h0M361.9 226.8h0M361.7 228.3h0M361.4 228.4h0M360.0 228.6h0M360.0 227.0h0M359.7 231.0h0M359.3 229.3h0M358.6 225.6h0M358.0 228.3h0M357.2 232.8h0M356.7 228.1h0M356.5 228.5h0M356.5 227.3h0M356.5 227.8h0M356.0 227.4h0M355.0 227.8h0M354.4 228.1h0M354.4 228.0h0M354.2 227.6h0M354.0 229.5h0M353.5 227.6h0M353.2 227.5h0M351.8 227.1h0M351.8 226.0h0M351.7 228.3h0M351.2 227.8h0M350.4 228.5h0M349.7 231.5h0M349.2 228.2h0M348.2 227.3h0M348.0 229.3h0M347.8 228.4h0M347.3 227.9h0M346.9 228.0h0M346.6 228.7h0M346.1 228.7h0M345.8 228.4h0M345.8 229.1h0M345.7 230.1h0M345.0 228.3h0M344.8 229.5h0M344.6 227.7h0M344.1 228.9h0M343.6 228.9h0M343.6 229.0h0M343.1 229.2h0M342.8 226.8h0M342.4 227.2h0M342.4 227.7h0M342.4 228.5h0M341.3 229.5h0M341.0 229.6h0M340.7 229.1h0M340.6 227.3h0M340.5 228.7h0M340.2 226.7h0M339.9 227.9h0M339.6 227.1h0M339.1 229.4h0M339.0 231.2h0M338.9 227.2h0M338.9 228.5h0M338.3 229.0h0M338.2 230.6h0M338.1 228.0h0M338.0 228.4h0M337.5 229.9h0M337.2 228.7h0M337.1 229.3h0M337.1 230.0h0M336.8 229.2h0M336.4 228.0h0M336.3 228.4h0M336.0 228.3h0M335.6 227.2h0M335.3 227.1h0M335.2 228.7h0M335.1 231.1h0M334.7 227.4h0M334.4 228.1h0M333.4 226.7h0M333.4 229.3h0M332.5 230.2h0M332.3 214.7h0M332.1 230.0h0M331.7 227.7h0M331.6 228.7h0M331.5 227.5h0M331.3 227.1h0M331.2 230.4h0M331.0 227.3h0M330.6 227.1h0M330.5 228.2h0M330.4 229.1h0M330.4 228.0h0M329.9 228.9h0M329.6 227.3h0M329.5 228.9h0M328.9 230.0h0M328.8 226.4h0M328.5 227.5h0M328.4 229.2h0M327.1 228.8h0M327.0 224.9h0M326.7 228.2h0M326.5 228.1h0M326.5 226.9h0M326.4 227.8h0M326.2 228.4h0M326.2 225.9h0M326.1 225.2h0M326.0 228.1h0M325.9 228.1h0M325.3 226.6h0M324.9 228.6h0M324.8 226.7h0M324.5 230.4h0M324.1 227.0h0M323.8 226.5h0M323.4 224.8h0M323.3 226.7h0M322.9 224.9h0M322.9 225.3h0M322.7 226.2h0M322.5 228.3h0M322.4 222.5h0M322.2 227.2h0M321.9 225.1h0M321.9 223.9h0M321.9 226.6h0M321.8 227.0h0M321.8 224.3h0M321.8 223.9h0M321.7 226.0h0M321.3 225.0h0M321.0 225.1h0M320.6 225.2h0M320.6 227.0h0M320.5 225.6h0M320.0 227.5h0M319.8 225.8h0M319.3 223.3h0M319.2 227.8h0M319.2 226.7h0M319.0 225.6h0M318.8 223.9h0M318.6 224.2h0M318.6 224.8h0M318.5 224.9h0M318.4 226.5h0M318.4 225.6h0M318.3 224.4h0M318.3 224.6h0M318.0 224.4h0M318.0 223.8h0M318.0 225.2h0M317.8 226.4h0M317.6 224.4h0M317.5 228.3h0M317.3 226.5h0M316.8 225.9h0M316.8 229.3h0M316.7 224.9h0M316.6 222.9h0M316.5 228.6h0M316.5 228.4h0M316.4 225.2h0M316.3 226.9h0M316.2 223.0h0M316.2 222.6h0M316.1 225.6h0M315.7 223.5h0M314.6 226.7h0M314.6 223.3h0M314.5 230.3h0M314.4 225.7h0M314.2 224.0h0M314.1 226.2h0M314.1 225.6h0M314.0 227.9h0M313.9 226.2h0M313.7 226.6h0M313.7 227.2h0M313.6 223.1h0M313.5 225.6h0M313.5 222.2h0M313.4 223.9h0M313.3 225.2h0M312.9 226.8h0M312.6 223.0h0M312.3 222.5h0M312.2 225.9h0M312.2 225.3h0M312.2 224.0h0M312.0 224.1h0M311.7 224.5h0M311.6 224.4h0M311.5 222.9h0M311.4 224.9h0M311.4 226.8h0M311.3 224.8h0M311.0 227.4h0M310.9 228.8h0M310.6 226.5h0M310.5 227.0h0M310.5 224.8h0M310.3 225.5h0M310.1 225.6h0M310.1 223.1h0M310.0 223.5h0M310.0 225.9h0M310.0 227.2h0M309.9 223.2h0M309.7 228.1h0M309.3 223.1h0M308.9 226.3h0M308.8 227.2h0M308.7 225.8h0M308.7 225.3h0M308.4 225.7h0M308.3 223.9h0M308.2 224.4h0M308.2 221.5h0M308.0 225.1h0M307.6 225.0h0M307.6 224.1h0M307.4 229.6h0M307.3 227.9h0M307.3 225.3h0M307.0 224.1h0M306.8 223.7h0M306.6 225.6h0M306.4 226.2h0M306.4 226.7h0M306.0 229.0h0M306.0 228.3h0M305.9 224.1h0M305.8 213.8h0M305.8 226.3h0M305.8 229.1h0M305.7 226.7h0M305.6 222.3h0M305.6 226.2h0M305.3 225.4h0M305.2 227.1h0M305.2 227.5h0M305.2 226.5h0M305.1 227.2h0M304.8 226.2h0M304.7 224.0h0M304.7 225.7h0M304.7 226.3h0M304.7 223.9h0M304.6 226.6h0M304.5 225.3h0M304.3 227.0h0M304.2 222.5h0M304.1 223.4h0M303.8 224.0h0M303.8 223.0h0M303.7 228.2h0M303.5 224.9h0M303.3 225.3h0M303.3 224.0h0M303.3 226.1h0M303.3 224.5h0M302.8 228.3h0M302.6 224.2h0M302.6 222.6h0M302.5 226.8h0M302.4 226.7h0M302.4 222.5h0M302.3 227.8h0M302.2 223.8h0M302.1 222.9h0M302.1 225.4h0M302.0 223.1h0M302.0 225.9h0M302.0 227.0h0M301.8 228.0h0M301.7 227.9h0M301.7 222.4h0M301.6 223.3h0M301.6 229.1h0M301.5 226.1h0M301.4 222.6h0M301.4 225.4h0M301.3 227.7h0M301.1 225.2h0M301.1 227.6h0M301.1 226.2h0M300.7 226.0h0M300.6 223.4h0M300.6 224.7h0M300.4 225.5h0"/><path class="rc" d="M465.0 233.5h0M435.0 233.9h0M432.6 231.6h0M428.9 228.6h0M423.2 226.3h0M415.6 227.7h0M410.7 227.3h0M410.4 231.5h0M410.1 236.0h0M403.1 231.7h0M401.9 235.1h0M394.8 229.5h0M393.1 229.6h0M392.9 225.7h0M383.9 227.4h0M382.4 230.1h0M381.5 230.9h0M378.9 230.0h0M376.2 229.5h0M372.8 229.4h0M372.5 227.8h0M371.5 228.5h0M370.7 226.3h0M369.1 226.8h0M368.5 226.9h0M368.1 229.6h0M367.5 230.1h0M367.0 229.5h0M366.3 230.0h0M365.6 226.8h0M364.4 229.0h0M364.4 226.6h0M363.4 228.4h0M363.1 227.6h0M362.7 228.6h0M362.5 228.7h0M361.9 226.8h0M361.7 228.3h0M361.4 228.4h0M360.0 228.6h0M360.0 227.0h0M359.7 231.0h0M359.3 229.3h0M358.6 225.6h0M358.0 228.3h0M357.2 232.8h0M356.7 228.1h0M356.5 228.5h0M356.5 227.3h0M356.5 227.8h0M356.0 227.4h0M355.0 227.8h0M354.4 228.1h0M354.4 228.0h0M354.2 227.6h0M354.0 229.5h0M353.5 227.6h0M353.2 227.5h0M351.8 227.1h0M351.8 226.0h0M351.7 228.3h0M351.2 227.8h0M350.4 228.5h0M349.7 231.5h0M349.2 228.2h0M348.2 227.3h0M348.0 229.3h0M347.8 228.4h0M347.3 227.9h0M346.9 228.0h0M346.6 228.7h0M346.1 228.7h0M345.8 228.4h0M345.8 229.1h0M345.7 230.1h0M345.0 228.3h0M344.8 229.5h0M344.6 227.7h0M344.1 228.9h0M343.6 228.9h0M343.6 229.0h0M343.1 229.2h0M342.8 226.8h0M342.4 227.2h0M342.4 227.7h0M342.4 228.5h0M341.3 229.5h0M341.0 229.6h0M340.7 229.1h0M340.6 227.3h0M340.5 228.7h0M340.2 226.7h0M339.9 227.9h0M339.6 227.1h0M339.1 229.4h0M339.0 231.2h0M338.9 227.2h0M338.9 228.5h0M338.3 229.0h0M338.2 230.6h0M338.1 228.0h0M338.0 228.4h0M337.5 229.9h0M337.2 228.7h0M337.1 229.3h0M337.1 230.0h0M336.8 229.2h0M336.4 228.0h0M336.3 228.4h0M336.0 228.3h0M335.6 227.2h0M335.3 227.1h0M335.2 228.7h0M335.1 231.1h0M334.7 227.4h0M334.4 228.1h0M333.4 226.7h0M333.4 229.3h0M332.5 230.2h0M332.3 214.7h0M332.1 230.0h0M331.7 227.7h0M331.6 228.7h0M331.5 227.5h0M331.3 227.1h0M331.2 230.4h0M331.0 227.3h0M330.6 227.1h0M330.5 228.2h0M330.4 229.1h0M330.4 228.0h0M329.9 228.9h0M329.6 227.3h0M329.5 228.9h0M328.9 230.0h0M328.8 226.4h0M328.5 227.5h0M328.4 229.2h0M327.1 228.8h0M327.0 224.9h0M326.7 228.2h0M326.5 228.1h0M326.5 226.9h0M326.4 227.8h0M326.2 228.4h0M326.2 225.9h0M326.1 225.2h0M326.0 228.1h0M325.9 228.1h0M325.3 226.6h0M324.9 228.6h0M324.8 226.7h0M324.5 230.4h0M324.1 227.0h0M323.8 226.5h0M323.4 224.8h0M323.3 226.7h0M322.9 224.9h0M322.9 225.3h0M322.7 226.2h0M322.5 228.3h0M322.4 222.5h0M322.2 227.2h0M321.9 225.1h0M321.9 223.9h0M321.9 226.6h0M321.8 227.0h0M321.8 224.3h0M321.8 223.9h0M321.7 226.0h0M321.3 225.0h0M321.0 225.1h0M320.6 225.2h0M320.6 227.0h0M320.5 225.6h0M320.0 227.5h0M319.8 225.8h0M319.3 223.3h0M319.2 227.8h0M319.2 226.7h0M319.0 225.6h0M318.8 223.9h0M318.6 224.2h0M318.6 224.8h0M318.5 224.9h0M318.4 226.5h0M318.4 225.6h0M318.3 224.4h0M318.3 224.6h0M318.0 224.4h0M318.0 223.8h0M318.0 225.2h0M317.8 226.4h0M317.6 224.4h0M317.5 228.3h0M317.3 226.5h0M316.8 225.9h0M316.8 229.3h0M316.7 224.9h0M316.6 222.9h0M316.5 228.6h0M316.5 228.4h0M316.4 225.2h0M316.3 226.9h0M316.2 223.0h0M316.2 222.6h0M316.1 225.6h0M315.7 223.5h0M314.6 226.7h0M314.6 223.3h0M314.5 230.3h0M314.4 225.7h0M314.2 224.0h0M314.1 226.2h0M314.1 225.6h0M314.0 227.9h0M313.9 226.2h0M313.7 226.6h0M313.7 227.2h0M313.6 223.1h0M313.5 225.6h0M313.5 222.2h0M313.4 223.9h0M313.3 225.2h0M312.9 226.8h0M312.6 223.0h0M312.3 222.5h0M312.2 225.9h0M312.2 225.3h0M312.2 224.0h0M312.0 224.1h0M311.7 224.5h0M311.6 224.4h0M311.5 222.9h0M311.4 224.9h0M311.4 226.8h0M311.3 224.8h0M311.0 227.4h0M310.9 228.8h0M310.6 226.5h0M310.5 227.0h0M310.5 224.8h0M310.3 225.5h0M310.1 225.6h0M310.1 223.1h0M310.0 223.5h0M310.0 225.9h0M310.0 227.2h0M309.9 223.2h0M309.7 228.1h0M309.3 223.1h0M308.9 226.3h0M308.8 227.2h0M308.7 225.8h0M308.7 225.3h0M308.4 225.7h0M308.3 223.9h0M308.2 224.4h0M308.2 221.5h0M308.0 225.1h0M307.6 225.0h0M307.6 224.1h0M307.4 229.6h0M307.3 227.9h0M307.3 225.3h0M307.0 224.1h0M306.8 223.7h0M306.6 225.6h0M306.4 226.2h0M306.4 226.7h0M306.0 229.0h0M306.0 228.3h0M305.9 224.1h0M305.8 213.8h0M305.8 226.3h0M305.8 229.1h0M305.7 226.7h0M305.6 222.3h0M305.6 226.2h0M305.3 225.4h0M305.2 227.1h0M305.2 227.5h0M305.2 226.5h0M305.1 227.2h0M304.8 226.2h0M304.7 224.0h0M304.7 225.7h0M304.7 226.3h0M304.7 223.9h0M304.6 226.6h0M304.5 225.3h0M304.3 227.0h0M304.2 222.5h0M304.1 223.4h0M303.8 224.0h0M303.8 223.0h0M303.7 228.2h0M303.5 224.9h0M303.3 225.3h0M303.3 224.0h0M303.3 226.1h0M303.3 224.5h0M302.8 228.3h0M302.6 224.2h0M302.6 222.6h0M302.5 226.8h0M302.4 226.7h0M302.4 222.5h0M302.3 227.8h0M302.2 223.8h0M302.1 222.9h0M302.1 225.4h0M302.0 223.1h0M302.0 225.9h0M302.0 227.0h0M301.8 228.0h0M301.7 227.9h0M301.7 222.4h0M301.6 223.3h0M301.6 229.1h0M301.5 226.1h0M301.4 222.6h0M301.4 225.4h0M301.3 227.7h0M301.1 225.2h0M301.1 227.6h0M301.1 226.2h0M300.7 226.0h0M300.6 223.4h0M300.6 224.7h0M300.4 225.5h0"/>
<path class="sg" d="M300.1 222.3H327.2L327.2 226.0H368.9L368.9 226.2H388.9L388.9 225.2H453.4"/><path class="sg" d="M300.1 228.0H327.2L327.2 230.0H368.9L368.9 230.9H388.9L388.9 230.7H453.4"/><path class="md" d="M300.1 225.3H327.2L327.2 228.1H368.9L368.9 228.6H388.9L388.9 228.0H453.4"/>
</g>
<rect class="fr" x="300.35" y="31.00" width="220.90" height="208.40"/>
<path class="fr" d="M300.35 182.50H521.25"/>
<path class="tk" d="M310.52 31.00v1.50M318.66 31.00v1.50M325.31 31.00v1.50M330.94 31.00v1.50M335.81 31.00v1.50M340.11 31.00v1.50M343.95 31.00v3.00M369.24 31.00v1.50M384.03 31.00v1.50M394.52 31.00v1.50M402.66 31.00v1.50M409.31 31.00v1.50M414.94 31.00v1.50M419.81 31.00v1.50M424.11 31.00v1.50M427.95 31.00v3.00M453.24 31.00v1.50M468.03 31.00v1.50M478.52 31.00v1.50M486.66 31.00v1.50M493.31 31.00v1.50M498.94 31.00v1.50M503.81 31.00v1.50M508.11 31.00v1.50M511.95 31.00v3.00M310.52 182.50v-1.50M318.66 182.50v-1.50M325.31 182.50v-1.50M330.94 182.50v-1.50M335.81 182.50v-1.50M340.11 182.50v-1.50M343.95 182.50v-3.00M369.24 182.50v-1.50M384.03 182.50v-1.50M394.52 182.50v-1.50M402.66 182.50v-1.50M409.31 182.50v-1.50M414.94 182.50v-1.50M419.81 182.50v-1.50M424.11 182.50v-1.50M427.95 182.50v-3.00M453.24 182.50v-1.50M468.03 182.50v-1.50M478.52 182.50v-1.50M486.66 182.50v-1.50M493.31 182.50v-1.50M498.94 182.50v-1.50M503.81 182.50v-1.50M508.11 182.50v-1.50M511.95 182.50v-3.00M310.52 182.50v0.60M318.66 182.50v0.60M325.31 182.50v0.60M330.94 182.50v0.60M335.81 182.50v0.60M340.11 182.50v0.60M343.95 182.50v1.20M369.24 182.50v0.60M384.03 182.50v0.60M394.52 182.50v0.60M402.66 182.50v0.60M409.31 182.50v0.60M414.94 182.50v0.60M419.81 182.50v0.60M424.11 182.50v0.60M427.95 182.50v1.20M453.24 182.50v0.60M468.03 182.50v0.60M478.52 182.50v0.60M486.66 182.50v0.60M493.31 182.50v0.60M498.94 182.50v0.60M503.81 182.50v0.60M508.11 182.50v0.60M511.95 182.50v1.20M310.52 239.40v-0.80M318.66 239.40v-0.80M325.31 239.40v-0.80M330.94 239.40v-0.80M335.81 239.40v-0.80M340.11 239.40v-0.80M343.95 239.40v-1.60M369.24 239.40v-0.80M384.03 239.40v-0.80M394.52 239.40v-0.80M402.66 239.40v-0.80M409.31 239.40v-0.80M414.94 239.40v-0.80M419.81 239.40v-0.80M424.11 239.40v-0.80M427.95 239.40v-1.60M453.24 239.40v-0.80M468.03 239.40v-0.80M478.52 239.40v-0.80M486.66 239.40v-0.80M493.31 239.40v-0.80M498.94 239.40v-0.80M503.81 239.40v-0.80M508.11 239.40v-0.80M511.95 239.40v-1.60M300.35 168.59h2.20M521.25 168.59h-2.20M300.35 160.63h2.20M521.25 160.63h-2.20M300.35 154.99h2.20M521.25 154.99h-2.20M300.35 150.61h2.20M521.25 150.61h-2.20M300.35 147.03h2.20M521.25 147.03h-2.20M300.35 144.00h2.20M521.25 144.00h-2.20M300.35 141.38h2.20M521.25 141.38h-2.20M300.35 139.07h2.20M521.25 139.07h-2.20M300.35 137.00h4.50M521.25 137.00h-4.50M300.35 123.39h2.20M521.25 123.39h-2.20M300.35 115.43h2.20M521.25 115.43h-2.20M300.35 109.79h2.20M521.25 109.79h-2.20M300.35 105.41h2.20M521.25 105.41h-2.20M300.35 101.83h2.20M521.25 101.83h-2.20M300.35 98.80h2.20M521.25 98.80h-2.20M300.35 96.18h2.20M521.25 96.18h-2.20M300.35 93.87h2.20M521.25 93.87h-2.20M300.35 91.80h4.50M521.25 91.80h-4.50M300.35 78.19h2.20M521.25 78.19h-2.20M300.35 70.23h2.20M521.25 70.23h-2.20M300.35 64.59h2.20M521.25 64.59h-2.20M300.35 60.21h2.20M521.25 60.21h-2.20M300.35 56.63h2.20M521.25 56.63h-2.20M300.35 53.60h2.20M521.25 53.60h-2.20M300.35 50.98h2.20M521.25 50.98h-2.20M300.35 48.67h2.20M521.25 48.67h-2.20M300.35 46.60h4.50M521.25 46.60h-4.50M300.35 32.99h2.20M521.25 32.99h-2.20M300.35 201.19h4.5M521.25 201.19h-4.5M300.35 222.12h4.5M521.25 222.12h-4.5"/>
<text x="297.95" y="49.90" font-size="10.40" text-anchor="end">10<tspan dy="-4.8" font-size="6.6">13</tspan></text>
<text x="297.95" y="95.10" font-size="10.40" text-anchor="end">10<tspan dy="-4.8" font-size="6.6">12</tspan></text>
<text x="297.95" y="140.30" font-size="10.40" text-anchor="end">10<tspan dy="-4.8" font-size="6.6">11</tspan></text>
<text x="297.75" y="188.50" font-size="10.40" text-anchor="end">3.0</text>
<text x="297.75" y="204.70" font-size="10.40" text-anchor="end">1.4</text>
<text x="297.75" y="212.60" font-size="10.40" text-anchor="end">1.0</text>
<text x="297.75" y="225.70" font-size="10.40" text-anchor="end">0.6</text>
<text x="297.75" y="239.00" font-size="10.40" text-anchor="end">0.3</text>
<text x="344.15" y="252.80" font-size="10.40" text-anchor="middle">10<tspan dy="-4.8" font-size="6.6">12</tspan></text>
<text x="428.15" y="252.80" font-size="10.40" text-anchor="middle">10<tspan dy="-4.8" font-size="6.6">13</tspan></text>
<text x="512.15" y="252.80" font-size="10.40" text-anchor="middle">10<tspan dy="-4.8" font-size="6.6">14</tspan></text>
<text x="410.80" y="263.30" font-size="10.40" text-anchor="middle">M200 (M<tspan dy="2.5" font-size="6.6">sun</tspan><tspan dy="-2.5">)</tspan></text>
<g clip-path="url(#cb1)">
<path class="ln" d="M300.5 337.7V344.9M300.5 343.0V350.0M300.5 347.8V349.0M301.5 342.4V350.0M302.5 336.6V346.9M302.5 339.9V345.5M302.5 343.7V348.8M303.5 342.7V344.9M304.5 332.7V345.4M304.5 341.4V347.5M305.5 338.5V344.7M305.5 340.8V344.5M306.5 337.8V347.0M306.5 342.3V348.6M307.5 328.0V341.8M307.5 337.4V344.3M308.5 333.5V342.1M308.5 339.3V341.9M308.5 346.1V346.7M309.5 345.4V347.3M310.5 332.6V339.1M311.5 332.1V344.7M311.5 339.0V342.2M311.5 344.9V353.7M312.5 335.7V341.0M312.5 342.6V424.0M313.5 335.9V341.9M313.5 341.1V342.6M314.5 341.3V342.7M315.5 332.8V340.6M315.5 344.6V345.2M316.5 338.0V342.5M317.5 338.3V343.3M318.5 340.1V341.5M319.5 336.0V339.1M320.5 328.7V339.2M321.5 329.7V340.0M321.5 336.4V338.6M323.5 331.1V336.8M324.5 327.3V338.6M324.5 335.2V338.7M324.5 336.8V337.2M325.5 333.4V338.6M326.5 329.5V338.0M326.5 335.7V336.8M327.5 326.6V338.8M328.5 333.7V335.5M329.5 332.1V337.3M330.5 326.7V338.6M331.5 327.6V336.0M332.5 325.4V335.4M332.5 328.8V336.8M333.5 331.9V337.6M334.5 330.0V336.6M335.5 325.7V338.1M336.5 327.6V332.2M337.5 325.3V332.1M338.5 329.0V332.8M339.5 324.9V332.6M340.5 325.0V330.9M341.5 321.1V332.0M342.5 331.8V333.1M343.5 328.0V330.8M346.5 321.5V330.7M347.5 325.6V332.2M348.5 324.3V334.5M350.5 320.4V329.9M352.5 317.8V330.3M354.5 315.7V325.6M355.5 315.1V326.5M360.5 317.2V325.5M360.5 324.0V324.7M362.5 321.8V327.4M366.5 318.4V320.8M368.5 310.2V320.9M369.5 313.9V321.8M374.5 312.6V317.9M392.5 309.1V315.3M403.5 308.8V311.6M419.5 303.8V424.0M434.5 291.1V303.3"/>
<path class="ln" d="M300.5 338.9V345.2M300.5 343.6V346.2M301.5 335.3V345.7M301.5 342.9V424.0M302.5 336.7V344.0M302.5 340.4V344.3M302.5 347.9V424.0M303.5 343.4V345.0M304.5 336.0V344.9M304.5 342.7V344.1M305.5 339.6V344.9M305.5 346.8V350.2M306.5 339.6V346.9M306.5 343.1V346.5M307.5 333.2V344.0M307.5 339.5V345.6M308.5 334.4V345.5M308.5 343.4V345.7M309.5 339.2V341.2M310.5 327.6V339.9M310.5 334.7V342.5M311.5 332.5V340.5M311.5 339.5V344.0M312.5 329.0V339.4M312.5 338.0V342.3M312.5 342.9V345.4M313.5 340.6V344.1M314.5 328.2V341.6M315.5 327.2V340.1M315.5 337.9V342.1M316.5 330.5V339.2M316.5 342.0V343.3M317.5 342.3V344.1M319.5 332.7V338.3M319.5 336.5V342.3M320.5 333.3V340.4M321.5 334.7V339.0M322.5 331.4V336.6M323.5 332.9V339.3M324.5 330.9V337.4M324.5 335.5V337.0M324.5 337.8V341.8M325.5 338.5V340.6M326.5 330.4V338.9M326.5 336.5V337.0M327.5 333.9V339.4M329.5 322.3V333.1M330.5 321.7V335.3M330.5 326.8V335.4M331.5 327.9V336.7M332.5 326.5V338.4M332.5 332.7V336.4M334.5 318.7V337.0M334.5 330.6V339.3M335.5 332.8V336.2M336.5 328.9V331.4M337.5 329.6V336.7M338.5 332.5V335.2M339.5 327.3V333.2M340.5 327.8V333.4M341.5 321.1V330.6M343.5 323.1V332.0M345.5 323.7V332.4M346.5 321.9V332.5M348.5 316.2V328.3M349.5 310.6V331.3M351.5 320.5V330.1M352.5 321.6V329.8M354.5 320.0V326.9M356.5 314.0V328.4M360.5 318.6V327.7M361.5 310.7V324.1M363.5 313.8V322.1M367.5 316.7V321.1M368.5 318.3V323.9M370.5 313.8V320.5M376.5 312.1V320.7M393.5 312.9V313.9M410.5 298.9V310.7M423.5 295.1V302.4M465.5 275.3V290.4"/>
<path class="ln" d="M300.5 339.9V349.7M300.5 343.7V345.5M301.5 337.7V346.2M301.5 343.6V347.7M302.5 337.0V348.7M302.5 341.3V349.5M303.5 337.4V346.2M303.5 345.1V424.0M304.5 337.1V349.6M304.5 344.5V347.3M305.5 339.9V343.5M306.5 332.2V343.6M306.5 341.5V344.6M306.5 344.3V344.7M307.5 335.5V344.5M307.5 342.1V345.8M308.5 335.8V345.8M308.5 344.9V424.0M309.5 339.4V346.6M310.5 330.5V342.6M310.5 338.3V346.4M311.5 333.6V342.7M311.5 339.7V344.1M312.5 332.2V339.3M312.5 339.9V343.5M313.5 328.1V339.7M313.5 340.8V345.9M314.5 338.8V342.4M315.5 330.8V338.1M315.5 340.0V345.7M316.5 335.7V343.0M316.5 342.9V346.2M317.5 342.7V424.0M319.5 335.0V338.3M319.5 340.7V353.2M320.5 335.0V340.3M321.5 335.0V342.6M322.5 334.6V340.6M323.5 333.9V337.2M324.5 331.4V337.2M324.5 335.5V339.4M324.5 339.5V342.3M326.5 328.8V336.8M326.5 333.7V341.4M326.5 339.9V340.6M328.5 328.1V335.7M329.5 330.4V334.5M330.5 325.4V335.7M330.5 328.9V337.5M331.5 329.8V335.8M332.5 326.8V332.4M333.5 324.9V335.2M334.5 325.9V334.5M334.5 332.0V335.7M335.5 334.8V336.2M337.5 324.8V333.9M337.5 331.1V334.0M338.5 332.8V335.5M339.5 327.7V333.9M340.5 331.0V336.5M341.5 329.1V335.2M343.5 326.5V331.6M345.5 324.6V333.9M346.5 328.9V331.3M348.5 320.2V332.0M349.5 319.5V332.5M351.5 321.1V332.3M352.5 327.0V330.6M354.5 320.1V328.6M358.5 325.7V329.0M360.5 319.4V327.6M361.5 320.1V321.5M364.5 313.1V322.9M367.5 317.3V321.2M369.5 312.4V320.4M371.5 307.4V321.3M381.5 310.1V316.6M394.5 300.1V312.7M411.5 299.5V307.7M429.5 290.5V300.4"/>
<path class="ln" d="M300.5 340.8V345.9M300.5 344.9V349.6M301.5 340.5V349.0M301.5 347.4V351.5M302.5 338.2V347.0M302.5 343.1V346.2M303.5 339.3V343.5M303.5 346.9V348.6M304.5 340.9V347.0M304.5 348.7V424.0M305.5 340.8V345.6M306.5 332.8V344.4M306.5 341.5V348.8M306.5 345.0V347.5M307.5 337.0V341.7M308.5 330.1V340.3M308.5 339.2V342.5M308.5 345.1V347.0M309.5 344.3V346.6M310.5 331.5V340.6M311.5 331.6V341.7M311.5 338.5V340.3M311.5 342.1V343.1M312.5 334.7V340.0M312.5 340.7V350.5M313.5 334.8V345.4M313.5 340.9V343.7M314.5 339.5V343.0M315.5 332.0V341.0M315.5 343.3V345.1M316.5 337.1V341.1M317.5 330.5V340.2M318.5 332.3V338.9M319.5 336.0V343.8M319.5 340.7V354.4M320.5 340.5V342.2M321.5 335.5V337.5M322.5 337.7V340.8M324.5 327.2V340.4M324.5 333.9V337.6M324.5 336.5V339.3M325.5 328.1V337.5M326.5 329.4V338.9M326.5 334.9V339.1M327.5 324.1V337.7M328.5 329.4V338.8M329.5 331.9V337.7M330.5 326.3V336.3M330.5 335.6V336.0M331.5 331.7V335.1M332.5 327.2V334.7M333.5 327.2V336.3M334.5 329.7V336.3M334.5 334.6V337.4M336.5 323.1V333.2M337.5 324.9V334.7M338.5 323.9V333.8M338.5 332.8V337.4M340.5 324.4V333.5M340.5 331.7V332.9M342.5 325.9V332.7M343.5 327.0V332.0M346.5 321.3V330.7M347.5 324.7V329.6M348.5 322.3V328.0M349.5 326.1V330.1M352.5 315.8V329.1M353.5 323.8V327.3M354.5 320.5V330.5M359.5 322.8V328.6M360.5 321.0V323.6M362.5 308.9V323.0M366.5 314.3V321.7M368.5 309.6V318.0M369.5 313.4V320.0M371.5 307.5V316.7M388.5 298.0V316.5M402.5 295.8V312.9M415.5 295.4V302.7M432.5 280.8V291.8"/>
<g class="rg"><circle cx="300.4" cy="349.6" r="2.9"/><circle cx="300.4" cy="349.7" r="2.9"/><circle cx="300.4" cy="345.2" r="2.9"/><circle cx="300.5" cy="344.9" r="2.9"/><circle cx="300.6" cy="349.0" r="2.9"/><circle cx="300.8" cy="345.5" r="2.9"/><circle cx="300.8" cy="346.2" r="2.9"/><circle cx="300.9" cy="345.9" r="2.9"/><circle cx="301.0" cy="350.0" r="2.9"/><circle cx="301.1" cy="346.2" r="2.9"/><circle cx="301.2" cy="345.7" r="2.9"/><circle cx="301.2" cy="347.4" r="2.9"/><circle cx="301.5" cy="350.0" r="2.9"/><circle cx="301.6" cy="347.7" r="2.9"/><circle cx="301.7" cy="349.0" r="2.9"/><circle cx="302.0" cy="346.2" r="2.9"/><circle cx="302.1" cy="347.0" r="2.9"/><circle cx="302.2" cy="344.0" r="2.9"/><circle cx="302.2" cy="348.8" r="2.9"/><circle cx="302.3" cy="344.3" r="2.9"/><circle cx="302.4" cy="349.5" r="2.9"/><circle cx="302.4" cy="346.9" r="2.9"/><circle cx="302.6" cy="348.7" r="2.9"/><circle cx="302.9" cy="345.5" r="2.9"/><circle cx="303.1" cy="344.9" r="2.9"/><circle cx="303.2" cy="345.0" r="2.9"/><circle cx="303.4" cy="348.6" r="2.9"/><circle cx="303.7" cy="343.5" r="2.9"/><circle cx="303.9" cy="346.2" r="2.9"/><circle cx="304.0" cy="347.3" r="2.9"/><circle cx="304.3" cy="347.0" r="2.9"/><circle cx="304.4" cy="345.4" r="2.9"/><circle cx="304.4" cy="344.9" r="2.9"/><circle cx="304.6" cy="349.6" r="2.9"/><circle cx="304.6" cy="342.7" r="2.9"/><circle cx="305.0" cy="347.5" r="2.9"/><circle cx="305.0" cy="341.4" r="2.9"/><circle cx="305.2" cy="345.6" r="2.9"/><circle cx="305.2" cy="344.7" r="2.9"/><circle cx="305.2" cy="344.9" r="2.9"/><circle cx="305.2" cy="346.8" r="2.9"/><circle cx="305.6" cy="343.5" r="2.9"/><circle cx="305.9" cy="344.5" r="2.9"/><circle cx="306.4" cy="348.6" r="2.9"/><circle cx="306.5" cy="346.9" r="2.9"/><circle cx="306.6" cy="346.5" r="2.9"/><circle cx="306.6" cy="344.4" r="2.9"/><circle cx="306.6" cy="347.5" r="2.9"/><circle cx="306.7" cy="348.8" r="2.9"/><circle cx="306.8" cy="344.7" r="2.9"/><circle cx="306.8" cy="343.6" r="2.9"/><circle cx="306.9" cy="344.6" r="2.9"/><circle cx="307.0" cy="347.0" r="2.9"/><circle cx="307.1" cy="344.3" r="2.9"/><circle cx="307.1" cy="341.7" r="2.9"/><circle cx="307.2" cy="344.5" r="2.9"/><circle cx="307.2" cy="344.0" r="2.9"/><circle cx="307.3" cy="345.8" r="2.9"/><circle cx="307.3" cy="345.6" r="2.9"/><circle cx="307.4" cy="341.8" r="2.9"/><circle cx="308.0" cy="345.5" r="2.9"/><circle cx="308.2" cy="341.9" r="2.9"/><circle cx="308.4" cy="342.1" r="2.9"/><circle cx="308.7" cy="345.7" r="2.9"/><circle cx="308.7" cy="346.1" r="2.9"/><circle cx="308.7" cy="340.3" r="2.9"/><circle cx="308.8" cy="345.8" r="2.9"/><circle cx="308.9" cy="343.0" r="2.9"/><circle cx="308.9" cy="342.5" r="2.9"/><circle cx="309.0" cy="345.1" r="2.9"/><circle cx="309.6" cy="346.6" r="2.9"/><circle cx="309.6" cy="347.3" r="2.9"/><circle cx="309.8" cy="346.6" r="2.9"/><circle cx="309.9" cy="341.2" r="2.9"/><circle cx="310.0" cy="340.6" r="2.9"/><circle cx="310.1" cy="339.9" r="2.9"/><circle cx="310.4" cy="346.4" r="2.9"/><circle cx="310.6" cy="339.1" r="2.9"/><circle cx="310.8" cy="342.6" r="2.9"/><circle cx="310.9" cy="342.5" r="2.9"/><circle cx="311.4" cy="341.7" r="2.9"/><circle cx="311.5" cy="344.1" r="2.9"/><circle cx="311.5" cy="340.3" r="2.9"/><circle cx="311.6" cy="344.7" r="2.9"/><circle cx="311.6" cy="344.0" r="2.9"/><circle cx="311.8" cy="342.7" r="2.9"/><circle cx="311.9" cy="340.5" r="2.9"/><circle cx="311.9" cy="342.2" r="2.9"/><circle cx="311.9" cy="343.1" r="2.9"/><circle cx="312.0" cy="340.0" r="2.9"/><circle cx="312.0" cy="339.3" r="2.9"/><circle cx="312.1" cy="342.9" r="2.9"/><circle cx="312.3" cy="343.5" r="2.9"/><circle cx="312.3" cy="339.4" r="2.9"/><circle cx="312.4" cy="342.3" r="2.9"/><circle cx="312.6" cy="344.5" r="2.9"/><circle cx="312.8" cy="341.0" r="2.9"/><circle cx="313.0" cy="344.1" r="2.9"/><circle cx="313.2" cy="343.7" r="2.9"/><circle cx="313.2" cy="345.4" r="2.9"/><circle cx="313.3" cy="341.1" r="2.9"/><circle cx="313.4" cy="345.9" r="2.9"/><circle cx="313.4" cy="339.7" r="2.9"/><circle cx="313.5" cy="340.3" r="2.9"/><circle cx="313.7" cy="341.9" r="2.9"/><circle cx="314.1" cy="343.0" r="2.9"/><circle cx="314.4" cy="341.6" r="2.9"/><circle cx="314.5" cy="342.4" r="2.9"/><circle cx="314.5" cy="342.7" r="2.9"/><circle cx="315.0" cy="345.2" r="2.9"/><circle cx="315.1" cy="340.1" r="2.9"/><circle cx="315.4" cy="338.1" r="2.9"/><circle cx="315.5" cy="342.1" r="2.9"/><circle cx="315.5" cy="345.7" r="2.9"/><circle cx="315.6" cy="341.0" r="2.9"/><circle cx="315.6" cy="343.3" r="2.9"/><circle cx="316.0" cy="340.6" r="2.9"/><circle cx="316.1" cy="343.3" r="2.9"/><circle cx="316.3" cy="342.5" r="2.9"/><circle cx="316.3" cy="341.1" r="2.9"/><circle cx="316.9" cy="343.0" r="2.9"/><circle cx="317.0" cy="342.9" r="2.9"/><circle cx="317.0" cy="339.2" r="2.9"/><circle cx="317.4" cy="340.2" r="2.9"/><circle cx="317.6" cy="344.1" r="2.9"/><circle cx="317.7" cy="338.3" r="2.9"/><circle cx="318.2" cy="340.1" r="2.9"/><circle cx="318.5" cy="338.9" r="2.9"/><circle cx="319.1" cy="343.8" r="2.9"/><circle cx="319.3" cy="338.3" r="2.9"/><circle cx="319.3" cy="338.3" r="2.9"/><circle cx="319.7" cy="340.7" r="2.9"/><circle cx="319.7" cy="342.3" r="2.9"/><circle cx="319.8" cy="339.1" r="2.9"/><circle cx="320.1" cy="340.3" r="2.9"/><circle cx="320.5" cy="342.2" r="2.9"/><circle cx="320.9" cy="339.2" r="2.9"/><circle cx="321.0" cy="340.4" r="2.9"/><circle cx="321.1" cy="342.6" r="2.9"/><circle cx="321.2" cy="337.5" r="2.9"/><circle cx="321.3" cy="340.0" r="2.9"/><circle cx="321.4" cy="339.0" r="2.9"/><circle cx="321.7" cy="338.6" r="2.9"/><circle cx="322.2" cy="340.8" r="2.9"/><circle cx="322.2" cy="336.6" r="2.9"/><circle cx="322.2" cy="340.6" r="2.9"/><circle cx="323.2" cy="337.2" r="2.9"/><circle cx="323.2" cy="336.8" r="2.9"/><circle cx="323.9" cy="339.3" r="2.9"/><circle cx="324.0" cy="338.6" r="2.9"/><circle cx="324.1" cy="340.4" r="2.9"/><circle cx="324.1" cy="337.2" r="2.9"/><circle cx="324.2" cy="337.4" r="2.9"/><circle cx="324.3" cy="339.3" r="2.9"/><circle cx="324.4" cy="337.2" r="2.9"/><circle cx="324.5" cy="339.4" r="2.9"/><circle cx="324.5" cy="337.6" r="2.9"/><circle cx="324.7" cy="338.7" r="2.9"/><circle cx="324.7" cy="335.5" r="2.9"/><circle cx="324.8" cy="342.3" r="2.9"/><circle cx="324.9" cy="341.8" r="2.9"/><circle cx="325.2" cy="338.6" r="2.9"/><circle cx="325.3" cy="340.6" r="2.9"/><circle cx="325.8" cy="337.5" r="2.9"/><circle cx="326.0" cy="341.4" r="2.9"/><circle cx="326.0" cy="338.9" r="2.9"/><circle cx="326.2" cy="338.0" r="2.9"/><circle cx="326.4" cy="336.5" r="2.9"/><circle cx="326.4" cy="336.8" r="2.9"/><circle cx="326.7" cy="340.6" r="2.9"/><circle cx="326.7" cy="339.1" r="2.9"/><circle cx="326.9" cy="338.9" r="2.9"/><circle cx="327.0" cy="336.8" r="2.9"/><circle cx="327.5" cy="338.8" r="2.9"/><circle cx="327.6" cy="337.7" r="2.9"/><circle cx="327.7" cy="339.4" r="2.9"/><circle cx="328.1" cy="338.8" r="2.9"/><circle cx="328.1" cy="335.7" r="2.9"/><circle cx="328.8" cy="335.5" r="2.9"/><circle cx="329.3" cy="334.5" r="2.9"/><circle cx="329.4" cy="337.3" r="2.9"/><circle cx="329.6" cy="333.1" r="2.9"/><circle cx="329.8" cy="337.7" r="2.9"/><circle cx="330.1" cy="336.3" r="2.9"/><circle cx="330.3" cy="335.7" r="2.9"/><circle cx="330.5" cy="338.6" r="2.9"/><circle cx="330.7" cy="337.5" r="2.9"/><circle cx="330.9" cy="335.6" r="2.9"/><circle cx="331.0" cy="335.3" r="2.9"/><circle cx="331.0" cy="335.4" r="2.9"/><circle cx="331.3" cy="336.7" r="2.9"/><circle cx="331.4" cy="335.1" r="2.9"/><circle cx="331.7" cy="336.0" r="2.9"/><circle cx="331.8" cy="335.8" r="2.9"/><circle cx="332.1" cy="336.8" r="2.9"/><circle cx="332.2" cy="338.4" r="2.9"/><circle cx="332.3" cy="334.7" r="2.9"/><circle cx="332.3" cy="335.4" r="2.9"/><circle cx="332.5" cy="332.4" r="2.9"/><circle cx="332.9" cy="336.4" r="2.9"/><circle cx="333.0" cy="336.3" r="2.9"/><circle cx="333.4" cy="337.6" r="2.9"/><circle cx="333.9" cy="335.2" r="2.9"/><circle cx="334.1" cy="339.3" r="2.9"/><circle cx="334.2" cy="337.0" r="2.9"/><circle cx="334.4" cy="335.7" r="2.9"/><circle cx="334.4" cy="337.4" r="2.9"/><circle cx="334.8" cy="336.6" r="2.9"/><circle cx="335.0" cy="334.5" r="2.9"/><circle cx="335.0" cy="336.3" r="2.9"/><circle cx="335.5" cy="336.2" r="2.9"/><circle cx="335.8" cy="336.2" r="2.9"/><circle cx="335.9" cy="338.1" r="2.9"/><circle cx="336.3" cy="333.2" r="2.9"/><circle cx="336.3" cy="331.4" r="2.9"/><circle cx="336.6" cy="332.2" r="2.9"/><circle cx="337.4" cy="336.0" r="2.9"/><circle cx="337.5" cy="332.1" r="2.9"/><circle cx="337.7" cy="333.9" r="2.9"/><circle cx="337.7" cy="336.7" r="2.9"/><circle cx="337.8" cy="334.0" r="2.9"/><circle cx="337.9" cy="334.7" r="2.9"/><circle cx="338.1" cy="332.8" r="2.9"/><circle cx="338.1" cy="335.5" r="2.9"/><circle cx="338.2" cy="337.4" r="2.9"/><circle cx="338.5" cy="333.8" r="2.9"/><circle cx="338.9" cy="335.2" r="2.9"/><circle cx="339.1" cy="332.6" r="2.9"/><circle cx="339.9" cy="333.2" r="2.9"/><circle cx="340.0" cy="333.9" r="2.9"/><circle cx="340.2" cy="332.9" r="2.9"/><circle cx="340.4" cy="333.5" r="2.9"/><circle cx="340.6" cy="336.5" r="2.9"/><circle cx="340.9" cy="330.9" r="2.9"/><circle cx="340.9" cy="333.4" r="2.9"/><circle cx="341.5" cy="330.6" r="2.9"/><circle cx="341.8" cy="332.0" r="2.9"/><circle cx="341.8" cy="335.2" r="2.9"/><circle cx="342.2" cy="333.1" r="2.9"/><circle cx="342.6" cy="332.7" r="2.9"/><circle cx="343.1" cy="330.8" r="2.9"/><circle cx="343.3" cy="332.0" r="2.9"/><circle cx="343.5" cy="332.0" r="2.9"/><circle cx="344.0" cy="331.6" r="2.9"/><circle cx="345.4" cy="332.4" r="2.9"/><circle cx="345.9" cy="333.9" r="2.9"/><circle cx="346.2" cy="330.7" r="2.9"/><circle cx="346.5" cy="330.7" r="2.9"/><circle cx="346.7" cy="332.5" r="2.9"/><circle cx="346.8" cy="331.3" r="2.9"/><circle cx="347.0" cy="332.2" r="2.9"/><circle cx="348.0" cy="329.6" r="2.9"/><circle cx="348.3" cy="332.0" r="2.9"/><circle cx="348.5" cy="328.0" r="2.9"/><circle cx="348.6" cy="334.5" r="2.9"/><circle cx="348.7" cy="328.3" r="2.9"/><circle cx="349.2" cy="330.1" r="2.9"/><circle cx="349.8" cy="331.3" r="2.9"/><circle cx="350.0" cy="332.5" r="2.9"/><circle cx="350.1" cy="329.9" r="2.9"/><circle cx="351.3" cy="330.1" r="2.9"/><circle cx="351.6" cy="332.3" r="2.9"/><circle cx="352.1" cy="329.1" r="2.9"/><circle cx="352.3" cy="330.3" r="2.9"/><circle cx="352.4" cy="329.8" r="2.9"/><circle cx="352.7" cy="330.6" r="2.9"/><circle cx="353.0" cy="329.6" r="2.9"/><circle cx="353.4" cy="327.3" r="2.9"/><circle cx="354.1" cy="328.6" r="2.9"/><circle cx="354.2" cy="330.5" r="2.9"/><circle cx="354.7" cy="325.6" r="2.9"/><circle cx="354.9" cy="326.9" r="2.9"/><circle cx="355.2" cy="326.5" r="2.9"/><circle cx="356.3" cy="328.4" r="2.9"/><circle cx="358.9" cy="329.0" r="2.9"/><circle cx="359.0" cy="328.6" r="2.9"/><circle cx="360.3" cy="327.7" r="2.9"/><circle cx="360.3" cy="324.7" r="2.9"/><circle cx="360.8" cy="325.5" r="2.9"/><circle cx="360.8" cy="327.6" r="2.9"/><circle cx="361.0" cy="323.6" r="2.9"/><circle cx="361.5" cy="324.1" r="2.9"/><circle cx="361.8" cy="321.5" r="2.9"/><circle cx="362.1" cy="327.4" r="2.9"/><circle cx="362.6" cy="323.0" r="2.9"/><circle cx="363.2" cy="322.1" r="2.9"/><circle cx="364.6" cy="322.9" r="2.9"/><circle cx="366.5" cy="320.8" r="2.9"/><circle cx="366.7" cy="321.7" r="2.9"/><circle cx="367.5" cy="321.2" r="2.9"/><circle cx="367.8" cy="321.1" r="2.9"/><circle cx="368.3" cy="323.9" r="2.9"/><circle cx="368.6" cy="320.9" r="2.9"/><circle cx="368.8" cy="318.0" r="2.9"/><circle cx="369.4" cy="321.8" r="2.9"/><circle cx="369.6" cy="320.0" r="2.9"/><circle cx="369.6" cy="320.4" r="2.9"/><circle cx="370.6" cy="320.5" r="2.9"/><circle cx="371.0" cy="321.3" r="2.9"/><circle cx="371.2" cy="316.7" r="2.9"/><circle cx="301.4" cy="342.9" r="2.9"/><circle cx="302.2" cy="347.9" r="2.9"/><circle cx="303.4" cy="345.1" r="2.9"/><circle cx="304.9" cy="348.7" r="2.9"/><circle cx="308.9" cy="344.9" r="2.9"/><circle cx="312.2" cy="342.6" r="2.9"/><circle cx="317.5" cy="342.7" r="2.9"/><circle cx="311.4" cy="344.9" r="2.9"/><circle cx="319.5" cy="340.7" r="2.9"/><circle cx="312.9" cy="340.7" r="2.9"/><circle cx="465.2" cy="290.4" r="2.9"/><circle cx="432.5" cy="291.8" r="2.9"/><circle cx="429.2" cy="300.4" r="2.9"/><circle cx="435.0" cy="303.3" r="2.9"/><circle cx="423.4" cy="302.4" r="2.9"/><circle cx="419.7" cy="303.8" r="2.9"/><circle cx="415.5" cy="302.7" r="2.9"/><circle cx="411.2" cy="307.7" r="2.9"/><circle cx="410.2" cy="310.7" r="2.9"/><circle cx="410.6" cy="309.9" r="2.9"/><circle cx="402.1" cy="312.9" r="2.9"/><circle cx="403.2" cy="311.6" r="2.9"/><circle cx="394.8" cy="312.7" r="2.9"/><circle cx="393.0" cy="315.3" r="2.9"/><circle cx="393.2" cy="313.9" r="2.9"/><circle cx="388.7" cy="316.5" r="2.9"/><circle cx="381.7" cy="316.6" r="2.9"/><circle cx="376.7" cy="320.7" r="2.9"/><circle cx="374.1" cy="317.9" r="2.9"/></g>
<path class="bk" d="M300.4 344.9h0M300.4 339.9h0M300.4 338.9h0M300.5 337.7h0M300.6 347.8h0M300.8 343.7h0M300.8 343.6h0M300.9 340.8h0M301.0 343.0h0M301.1 337.7h0M301.2 335.3h0M301.2 351.5h0M301.5 342.4h0M301.6 343.6h0M301.7 340.5h0M302.0 343.1h0M302.1 338.2h0M302.2 336.7h0M302.2 343.7h0M302.3 340.4h0M302.4 341.3h0M302.4 336.6h0M302.6 337.0h0M302.9 339.9h0M303.1 342.7h0M303.2 343.4h0M303.4 346.9h0M303.7 339.3h0M303.9 337.4h0M304.0 344.5h0M304.3 340.9h0M304.4 332.7h0M304.4 336.0h0M304.6 337.1h0M304.6 344.1h0M305.0 341.4h0M305.0 341.6h0M305.2 340.8h0M305.2 338.5h0M305.2 339.6h0M305.2 350.2h0M305.6 339.9h0M305.9 340.8h0M306.4 342.3h0M306.5 339.6h0M306.6 343.1h0M306.6 332.8h0M306.6 345.0h0M306.7 341.5h0M306.8 344.3h0M306.8 332.2h0M306.9 341.5h0M307.0 337.8h0M307.1 337.4h0M307.1 337.0h0M307.2 335.5h0M307.2 333.2h0M307.3 342.1h0M307.3 339.5h0M307.4 328.0h0M308.0 334.4h0M308.2 339.3h0M308.4 333.5h0M308.7 343.4h0M308.7 346.7h0M308.7 330.1h0M308.8 335.8h0M308.9 343.2h0M308.9 339.2h0M309.0 347.0h0M309.6 344.3h0M309.6 345.4h0M309.8 339.4h0M309.9 339.2h0M310.0 331.5h0M310.1 327.6h0M310.4 338.3h0M310.6 332.6h0M310.8 330.5h0M310.9 334.7h0M311.4 331.6h0M311.5 339.7h0M311.5 338.5h0M311.6 332.1h0M311.6 339.5h0M311.8 333.6h0M311.9 332.5h0M311.9 339.0h0M311.9 342.1h0M312.0 334.7h0M312.0 332.2h0M312.1 345.4h0M312.3 339.9h0M312.3 329.0h0M312.4 338.0h0M312.6 344.3h0M312.8 335.7h0M313.0 340.6h0M313.2 340.9h0M313.2 334.8h0M313.3 342.6h0M313.4 340.8h0M313.4 328.1h0M313.5 340.1h0M313.7 335.9h0M314.1 339.5h0M314.4 328.2h0M314.5 338.8h0M314.5 341.3h0M315.0 344.6h0M315.1 327.2h0M315.4 330.8h0M315.5 337.9h0M315.5 340.0h0M315.6 332.0h0M315.6 345.1h0M316.0 332.8h0M316.1 342.0h0M316.3 338.0h0M316.3 337.1h0M316.9 335.7h0M317.0 346.2h0M317.0 330.5h0M317.4 330.5h0M317.6 342.3h0M317.7 343.3h0M318.2 341.5h0M318.5 332.3h0M319.1 336.0h0M319.3 332.7h0M319.3 335.0h0M319.7 354.4h0M319.7 336.5h0M319.8 336.0h0M320.1 335.0h0M320.5 340.5h0M320.9 328.7h0M321.0 333.3h0M321.1 335.0h0M321.2 335.5h0M321.3 329.7h0M321.4 334.7h0M321.7 336.4h0M322.2 337.7h0M322.2 331.4h0M322.2 334.6h0M323.2 333.9h0M323.2 331.1h0M323.9 332.9h0M324.0 327.3h0M324.1 327.2h0M324.1 331.4h0M324.2 330.9h0M324.3 336.5h0M324.4 336.8h0M324.5 335.5h0M324.5 333.9h0M324.7 335.2h0M324.7 337.0h0M324.8 339.5h0M324.9 337.8h0M325.2 333.4h0M325.3 338.5h0M325.8 328.1h0M326.0 333.7h0M326.0 329.4h0M326.2 329.5h0M326.4 337.0h0M326.4 335.7h0M326.7 339.9h0M326.7 334.9h0M326.9 330.4h0M327.0 328.8h0M327.5 326.6h0M327.6 324.1h0M327.7 333.9h0M328.1 329.4h0M328.1 328.1h0M328.8 333.7h0M329.3 330.4h0M329.4 332.1h0M329.6 322.3h0M329.8 331.9h0M330.1 326.3h0M330.3 325.4h0M330.5 326.7h0M330.7 328.9h0M330.9 336.0h0M331.0 321.7h0M331.0 326.8h0M331.3 327.9h0M331.4 331.7h0M331.7 327.6h0M331.8 329.8h0M332.1 328.8h0M332.2 326.5h0M332.3 327.2h0M332.3 325.4h0M332.5 326.8h0M332.9 332.7h0M333.0 327.2h0M333.4 331.9h0M333.9 324.9h0M334.1 330.6h0M334.2 318.7h0M334.4 332.0h0M334.4 334.6h0M334.8 330.0h0M335.0 325.9h0M335.0 329.7h0M335.5 332.8h0M335.8 334.8h0M335.9 325.7h0M336.3 323.1h0M336.3 328.9h0M336.6 327.6h0M337.4 336.0h0M337.5 325.3h0M337.7 324.8h0M337.7 329.6h0M337.8 331.1h0M337.9 324.9h0M338.1 329.0h0M338.1 332.8h0M338.2 332.8h0M338.5 323.9h0M338.9 332.5h0M339.1 324.9h0M339.9 327.3h0M340.0 327.7h0M340.2 331.7h0M340.4 324.4h0M340.6 331.0h0M340.9 325.0h0M340.9 327.8h0M341.5 321.1h0M341.8 321.1h0M341.8 329.1h0M342.2 331.8h0M342.6 325.9h0M343.1 328.0h0M343.3 323.1h0M343.5 327.0h0M344.0 326.5h0M345.4 323.7h0M345.9 324.6h0M346.2 321.3h0M346.5 321.5h0M346.7 321.9h0M346.8 328.9h0M347.0 325.6h0M348.0 324.7h0M348.3 320.2h0M348.5 322.3h0M348.6 324.3h0M348.7 316.2h0M349.2 326.1h0M349.8 310.6h0M350.0 319.5h0M350.1 320.4h0M351.3 320.5h0M351.6 321.1h0M352.1 315.8h0M352.3 317.8h0M352.4 321.6h0M352.7 327.0h0M353.0 329.8h0M353.4 323.8h0M354.1 320.1h0M354.2 320.5h0M354.7 315.7h0M354.9 320.0h0M355.2 315.1h0M356.3 314.0h0M358.9 325.7h0M359.0 322.8h0M360.3 318.6h0M360.3 324.0h0M360.8 317.2h0M360.8 319.4h0M361.0 321.0h0M361.5 310.7h0M361.8 320.1h0M362.1 321.8h0M362.6 308.9h0M363.2 313.8h0M364.6 313.1h0M366.5 318.4h0M366.7 314.3h0M367.5 317.3h0M367.8 316.7h0M368.3 318.3h0M368.6 310.2h0M368.8 309.6h0M369.4 313.9h0M369.6 313.4h0M369.6 312.4h0M370.6 313.8h0M371.0 307.4h0M371.2 307.5h0M311.4 353.7h0M319.5 353.2h0M312.9 350.5h0M465.2 275.3h0M432.5 280.8h0M429.2 290.5h0M435.0 291.1h0M423.4 295.1h0M415.5 295.4h0M411.2 299.5h0M410.2 298.9h0M410.6 309.8h0M402.1 295.8h0M403.2 308.8h0M394.8 300.1h0M393.0 309.1h0M393.2 312.9h0M388.7 298.0h0M381.7 310.1h0M376.7 312.1h0M374.1 312.6h0"/>
</g>
<path class="one" d="M300.35 450.50H521.25"/>
<g clip-path="url(#cs1)">
<path class="rk" d="M465.2 461.8h0M435.0 459.6h0M432.5 458.7h0M429.2 457.9h0M423.4 455.9h0M415.5 456.0h0M411.2 456.6h0M410.6 450.6h0M410.2 459.3h0M403.2 452.6h0M402.1 463.3h0M394.8 459.9h0M393.2 451.2h0M393.0 455.2h0M388.7 464.4h0M381.7 455.3h0M376.7 456.9h0M374.1 454.5h0M371.2 457.4h0M371.0 460.9h0M370.6 455.5h0M369.6 456.5h0M369.6 455.4h0M369.4 456.4h0M368.8 456.8h0M368.6 458.5h0M368.3 454.7h0M367.8 453.8h0M367.5 453.5h0M366.7 456.0h0M366.5 452.3h0M364.6 457.8h0M363.2 456.7h0M362.6 461.0h0M362.1 454.7h0M361.8 451.6h0M361.5 460.5h0M361.0 452.4h0M360.8 456.6h0M360.8 456.7h0M360.3 451.0h0M360.3 457.3h0M359.0 454.8h0M358.9 453.0h0M356.3 461.2h0M355.2 459.0h0M354.9 455.7h0M354.7 457.9h0M354.2 458.0h0M354.1 456.8h0M353.4 453.1h0M353.0 450.3h0M352.7 453.2h0M352.4 456.6h0M352.3 459.8h0M352.1 460.4h0M351.6 458.9h0M351.3 457.7h0M350.1 457.6h0M350.0 460.2h0M349.8 465.9h0M349.2 453.5h0M348.7 459.6h0M348.6 458.1h0M348.5 454.8h0M348.3 459.3h0M348.0 454.2h0M347.0 455.4h0M346.8 452.3h0M346.7 458.4h0M346.5 457.4h0M346.2 457.5h0M345.9 457.4h0M345.4 457.0h0M344.0 454.3h0M343.5 454.3h0M343.3 457.2h0M343.1 452.6h0M342.6 455.6h0M342.2 451.5h0M341.8 455.1h0M341.8 458.7h0M341.5 457.6h0M340.9 454.7h0M340.9 454.9h0M340.6 454.6h0M340.4 457.3h0M340.2 451.4h0M340.0 455.1h0M339.9 454.9h0M339.1 456.2h0M338.9 452.5h0M338.5 457.9h0M338.2 453.9h0M338.1 452.5h0M338.1 453.3h0M337.9 457.8h0M337.8 452.7h0M337.7 455.9h0M337.7 457.3h0M337.5 455.6h0M337.4 450.5h0M336.6 454.0h0M336.3 452.3h0M336.3 458.1h0M335.9 459.8h0M335.8 451.6h0M335.5 453.0h0M335.0 455.4h0M335.0 456.9h0M334.8 455.4h0M334.4 452.6h0M334.4 453.3h0M334.2 464.2h0M334.1 457.0h0M333.9 458.2h0M333.4 454.7h0M333.0 457.3h0M332.9 453.3h0M332.5 454.7h0M332.3 458.0h0M332.3 456.2h0M332.2 459.5h0M332.1 456.5h0M331.8 455.0h0M331.7 456.7h0M331.4 453.1h0M331.3 457.1h0M331.0 456.9h0M331.0 460.6h0M330.9 450.1h0M330.7 456.9h0M330.5 459.4h0M330.3 458.2h0M330.1 458.0h0M329.8 454.8h0M329.6 458.6h0M329.4 454.4h0M329.3 453.6h0M328.8 451.8h0M328.1 456.2h0M328.1 457.5h0M327.7 454.6h0M327.6 460.7h0M327.5 459.6h0M327.0 456.5h0M326.9 456.8h0M326.7 453.7h0M326.7 451.0h0M326.4 451.3h0M326.4 450.1h0M326.2 456.8h0M326.0 457.6h0M326.0 456.3h0M325.8 457.5h0M325.3 452.1h0M325.2 454.4h0M324.9 453.5h0M324.8 452.6h0M324.7 449.3h0M324.7 453.1h0M324.5 453.3h0M324.5 453.4h0M324.4 450.8h0M324.3 452.6h0M324.2 455.4h0M324.1 454.9h0M324.1 460.3h0M324.0 459.0h0M323.9 455.3h0M323.2 454.8h0M323.2 452.9h0M322.2 455.0h0M322.2 454.4h0M322.2 452.8h0M321.7 452.2h0M321.4 453.7h0M321.3 458.2h0M321.2 451.9h0M321.1 456.2h0M321.0 455.8h0M320.9 458.3h0M320.5 451.7h0M320.1 454.5h0M319.8 452.8h0M319.7 454.8h0M319.7 440.3h0M319.5 441.1h0M319.3 453.0h0M319.3 454.7h0M319.1 456.3h0M318.5 455.5h0M318.2 449.5h0M317.7 446.8h0M317.6 451.8h0M317.4 457.7h0M317.0 457.0h0M317.0 448.1h0M316.9 455.9h0M316.3 453.5h0M316.3 453.8h0M316.1 451.5h0M316.0 456.4h0M315.6 449.1h0M315.6 457.2h0M315.5 454.7h0M315.5 453.6h0M315.4 455.9h0M315.1 460.2h0M315.0 450.9h0M314.5 451.5h0M314.5 453.2h0M314.4 460.5h0M314.1 453.1h0M313.7 455.0h0M313.5 450.6h0M313.4 459.1h0M313.4 454.3h0M313.3 449.4h0M313.2 458.5h0M313.2 452.6h0M313.0 453.1h0M312.9 443.2h0M312.8 454.5h0M312.6 450.6h0M312.4 453.8h0M312.3 458.3h0M312.3 453.2h0M312.1 448.6h0M312.0 455.8h0M312.0 454.4h0M311.9 451.2h0M311.9 452.9h0M311.9 456.4h0M311.8 457.3h0M311.6 453.9h0M311.6 459.9h0M311.5 451.9h0M311.5 453.8h0M311.4 458.1h0M311.4 444.0h0M310.9 456.4h0M310.8 459.6h0M310.6 455.4h0M310.4 456.6h0M310.1 459.7h0M310.0 457.3h0M309.9 452.0h0M309.8 455.8h0M309.6 451.9h0M309.6 452.2h0M309.0 449.1h0M308.9 452.9h0M308.9 450.3h0M308.8 457.9h0M308.7 458.1h0M308.7 450.0h0M308.7 452.2h0M308.4 456.9h0M308.2 452.4h0M308.0 458.8h0M307.4 460.8h0M307.3 455.0h0M307.3 453.2h0M307.2 458.5h0M307.2 457.2h0M307.1 454.0h0M307.1 455.6h0M307.0 457.4h0M306.9 452.8h0M306.8 459.0h0M306.8 450.8h0M306.7 455.9h0M306.6 452.4h0M306.6 459.2h0M306.6 453.0h0M306.5 456.0h0M306.4 455.2h0M305.9 453.3h0M305.6 453.1h0M305.2 448.0h0M305.2 454.5h0M305.2 455.1h0M305.2 454.1h0M305.0 450.4h0M305.0 455.1h0M304.6 449.5h0M304.6 459.8h0M304.4 457.1h0M304.4 460.0h0M304.3 455.1h0M304.0 452.6h0M303.9 457.1h0M303.7 453.7h0M303.4 451.8h0M303.2 451.7h0M303.1 452.2h0M302.9 454.7h0M302.6 459.2h0M302.4 458.2h0M302.4 456.6h0M302.3 453.4h0M302.2 454.3h0M302.2 456.0h0M302.1 457.1h0M302.0 452.8h0M301.7 456.9h0M301.6 453.5h0M301.5 456.1h0M301.2 447.5h0M301.2 458.3h0M301.1 456.8h0M301.0 455.8h0M300.9 454.3h0M300.8 452.4h0M300.8 451.9h0M300.6 451.4h0M300.5 455.8h0M300.4 455.2h0M300.4 457.8h0M300.4 454.0h0"/><path class="rc" d="M465.2 461.8h0M435.0 459.6h0M432.5 458.7h0M429.2 457.9h0M423.4 455.9h0M415.5 456.0h0M411.2 456.6h0M410.6 450.6h0M410.2 459.3h0M403.2 452.6h0M402.1 463.3h0M394.8 459.9h0M393.2 451.2h0M393.0 455.2h0M388.7 464.4h0M381.7 455.3h0M376.7 456.9h0M374.1 454.5h0M371.2 457.4h0M371.0 460.9h0M370.6 455.5h0M369.6 456.5h0M369.6 455.4h0M369.4 456.4h0M368.8 456.8h0M368.6 458.5h0M368.3 454.7h0M367.8 453.8h0M367.5 453.5h0M366.7 456.0h0M366.5 452.3h0M364.6 457.8h0M363.2 456.7h0M362.6 461.0h0M362.1 454.7h0M361.8 451.6h0M361.5 460.5h0M361.0 452.4h0M360.8 456.6h0M360.8 456.7h0M360.3 451.0h0M360.3 457.3h0M359.0 454.8h0M358.9 453.0h0M356.3 461.2h0M355.2 459.0h0M354.9 455.7h0M354.7 457.9h0M354.2 458.0h0M354.1 456.8h0M353.4 453.1h0M353.0 450.3h0M352.7 453.2h0M352.4 456.6h0M352.3 459.8h0M352.1 460.4h0M351.6 458.9h0M351.3 457.7h0M350.1 457.6h0M350.0 460.2h0M349.8 465.9h0M349.2 453.5h0M348.7 459.6h0M348.6 458.1h0M348.5 454.8h0M348.3 459.3h0M348.0 454.2h0M347.0 455.4h0M346.8 452.3h0M346.7 458.4h0M346.5 457.4h0M346.2 457.5h0M345.9 457.4h0M345.4 457.0h0M344.0 454.3h0M343.5 454.3h0M343.3 457.2h0M343.1 452.6h0M342.6 455.6h0M342.2 451.5h0M341.8 455.1h0M341.8 458.7h0M341.5 457.6h0M340.9 454.7h0M340.9 454.9h0M340.6 454.6h0M340.4 457.3h0M340.2 451.4h0M340.0 455.1h0M339.9 454.9h0M339.1 456.2h0M338.9 452.5h0M338.5 457.9h0M338.2 453.9h0M338.1 452.5h0M338.1 453.3h0M337.9 457.8h0M337.8 452.7h0M337.7 455.9h0M337.7 457.3h0M337.5 455.6h0M337.4 450.5h0M336.6 454.0h0M336.3 452.3h0M336.3 458.1h0M335.9 459.8h0M335.8 451.6h0M335.5 453.0h0M335.0 455.4h0M335.0 456.9h0M334.8 455.4h0M334.4 452.6h0M334.4 453.3h0M334.2 464.2h0M334.1 457.0h0M333.9 458.2h0M333.4 454.7h0M333.0 457.3h0M332.9 453.3h0M332.5 454.7h0M332.3 458.0h0M332.3 456.2h0M332.2 459.5h0M332.1 456.5h0M331.8 455.0h0M331.7 456.7h0M331.4 453.1h0M331.3 457.1h0M331.0 456.9h0M331.0 460.6h0M330.9 450.1h0M330.7 456.9h0M330.5 459.4h0M330.3 458.2h0M330.1 458.0h0M329.8 454.8h0M329.6 458.6h0M329.4 454.4h0M329.3 453.6h0M328.8 451.8h0M328.1 456.2h0M328.1 457.5h0M327.7 454.6h0M327.6 460.7h0M327.5 459.6h0M327.0 456.5h0M326.9 456.8h0M326.7 453.7h0M326.7 451.0h0M326.4 451.3h0M326.4 450.1h0M326.2 456.8h0M326.0 457.6h0M326.0 456.3h0M325.8 457.5h0M325.3 452.1h0M325.2 454.4h0M324.9 453.5h0M324.8 452.6h0M324.7 449.3h0M324.7 453.1h0M324.5 453.3h0M324.5 453.4h0M324.4 450.8h0M324.3 452.6h0M324.2 455.4h0M324.1 454.9h0M324.1 460.3h0M324.0 459.0h0M323.9 455.3h0M323.2 454.8h0M323.2 452.9h0M322.2 455.0h0M322.2 454.4h0M322.2 452.8h0M321.7 452.2h0M321.4 453.7h0M321.3 458.2h0M321.2 451.9h0M321.1 456.2h0M321.0 455.8h0M320.9 458.3h0M320.5 451.7h0M320.1 454.5h0M319.8 452.8h0M319.7 454.8h0M319.7 440.3h0M319.5 441.1h0M319.3 453.0h0M319.3 454.7h0M319.1 456.3h0M318.5 455.5h0M318.2 449.5h0M317.7 446.8h0M317.6 451.8h0M317.4 457.7h0M317.0 457.0h0M317.0 448.1h0M316.9 455.9h0M316.3 453.5h0M316.3 453.8h0M316.1 451.5h0M316.0 456.4h0M315.6 449.1h0M315.6 457.2h0M315.5 454.7h0M315.5 453.6h0M315.4 455.9h0M315.1 460.2h0M315.0 450.9h0M314.5 451.5h0M314.5 453.2h0M314.4 460.5h0M314.1 453.1h0M313.7 455.0h0M313.5 450.6h0M313.4 459.1h0M313.4 454.3h0M313.3 449.4h0M313.2 458.5h0M313.2 452.6h0M313.0 453.1h0M312.9 443.2h0M312.8 454.5h0M312.6 450.6h0M312.4 453.8h0M312.3 458.3h0M312.3 453.2h0M312.1 448.6h0M312.0 455.8h0M312.0 454.4h0M311.9 451.2h0M311.9 452.9h0M311.9 456.4h0M311.8 457.3h0M311.6 453.9h0M311.6 459.9h0M311.5 451.9h0M311.5 453.8h0M311.4 458.1h0M311.4 444.0h0M310.9 456.4h0M310.8 459.6h0M310.6 455.4h0M310.4 456.6h0M310.1 459.7h0M310.0 457.3h0M309.9 452.0h0M309.8 455.8h0M309.6 451.9h0M309.6 452.2h0M309.0 449.1h0M308.9 452.9h0M308.9 450.3h0M308.8 457.9h0M308.7 458.1h0M308.7 450.0h0M308.7 452.2h0M308.4 456.9h0M308.2 452.4h0M308.0 458.8h0M307.4 460.8h0M307.3 455.0h0M307.3 453.2h0M307.2 458.5h0M307.2 457.2h0M307.1 454.0h0M307.1 455.6h0M307.0 457.4h0M306.9 452.8h0M306.8 459.0h0M306.8 450.8h0M306.7 455.9h0M306.6 452.4h0M306.6 459.2h0M306.6 453.0h0M306.5 456.0h0M306.4 455.2h0M305.9 453.3h0M305.6 453.1h0M305.2 448.0h0M305.2 454.5h0M305.2 455.1h0M305.2 454.1h0M305.0 450.4h0M305.0 455.1h0M304.6 449.5h0M304.6 459.8h0M304.4 457.1h0M304.4 460.0h0M304.3 455.1h0M304.0 452.6h0M303.9 457.1h0M303.7 453.7h0M303.4 451.8h0M303.2 451.7h0M303.1 452.2h0M302.9 454.7h0M302.6 459.2h0M302.4 458.2h0M302.4 456.6h0M302.3 453.4h0M302.2 454.3h0M302.2 456.0h0M302.1 457.1h0M302.0 452.8h0M301.7 456.9h0M301.6 453.5h0M301.5 456.1h0M301.2 447.5h0M301.2 458.3h0M301.1 456.8h0M301.0 455.8h0M300.9 454.3h0M300.8 452.4h0M300.8 451.9h0M300.6 451.4h0M300.5 455.8h0M300.4 455.2h0M300.4 457.8h0M300.4 454.0h0"/>
<path class="sg" d="M300.1 450.0H327.2L327.2 451.5H368.9L368.9 452.2H388.9L388.9 452.2H453.4"/><path class="sg" d="M300.1 456.5H327.2L327.2 458.1H368.9L368.9 458.7H388.9L388.9 459.7H453.4"/><path class="md" d="M300.1 453.2H327.2L327.2 454.5H368.9L368.9 455.5H388.9L388.9 456.2H453.4"/>
</g>
<rect class="fr" x="300.35" y="270.90" width="220.90" height="207.90"/>
<path class="fr" d="M300.35 422.00H521.25"/>
<path class="tk" d="M310.52 270.90v1.50M318.66 270.90v1.50M325.31 270.90v1.50M330.94 270.90v1.50M335.81 270.90v1.50M340.11 270.90v1.50M343.95 270.90v3.00M369.24 270.90v1.50M384.03 270.90v1.50M394.52 270.90v1.50M402.66 270.90v1.50M409.31 270.90v1.50M414.94 270.90v1.50M419.81 270.90v1.50M424.11 270.90v1.50M427.95 270.90v3.00M453.24 270.90v1.50M468.03 270.90v1.50M478.52 270.90v1.50M486.66 270.90v1.50M493.31 270.90v1.50M498.94 270.90v1.50M503.81 270.90v1.50M508.11 270.90v1.50M511.95 270.90v3.00M310.52 422.00v-1.50M318.66 422.00v-1.50M325.31 422.00v-1.50M330.94 422.00v-1.50M335.81 422.00v-1.50M340.11 422.00v-1.50M343.95 422.00v-3.00M369.24 422.00v-1.50M384.03 422.00v-1.50M394.52 422.00v-1.50M402.66 422.00v-1.50M409.31 422.00v-1.50M414.94 422.00v-1.50M419.81 422.00v-1.50M424.11 422.00v-1.50M427.95 422.00v-3.00M453.24 422.00v-1.50M468.03 422.00v-1.50M478.52 422.00v-1.50M486.66 422.00v-1.50M493.31 422.00v-1.50M498.94 422.00v-1.50M503.81 422.00v-1.50M508.11 422.00v-1.50M511.95 422.00v-3.00M310.52 422.00v0.60M318.66 422.00v0.60M325.31 422.00v0.60M330.94 422.00v0.60M335.81 422.00v0.60M340.11 422.00v0.60M343.95 422.00v1.20M369.24 422.00v0.60M384.03 422.00v0.60M394.52 422.00v0.60M402.66 422.00v0.60M409.31 422.00v0.60M414.94 422.00v0.60M419.81 422.00v0.60M424.11 422.00v0.60M427.95 422.00v1.20M453.24 422.00v0.60M468.03 422.00v0.60M478.52 422.00v0.60M486.66 422.00v0.60M493.31 422.00v0.60M498.94 422.00v0.60M503.81 422.00v0.60M508.11 422.00v0.60M511.95 422.00v1.20M310.52 478.80v-0.80M318.66 478.80v-0.80M325.31 478.80v-0.80M330.94 478.80v-0.80M335.81 478.80v-0.80M340.11 478.80v-0.80M343.95 478.80v-1.60M369.24 478.80v-0.80M384.03 478.80v-0.80M394.52 478.80v-0.80M402.66 478.80v-0.80M409.31 478.80v-0.80M414.94 478.80v-0.80M419.81 478.80v-0.80M424.11 478.80v-0.80M427.95 478.80v-1.60M453.24 478.80v-0.80M468.03 478.80v-0.80M478.52 478.80v-0.80M486.66 478.80v-0.80M493.31 478.80v-0.80M498.94 478.80v-0.80M503.81 478.80v-0.80M508.11 478.80v-0.80M511.95 478.80v-1.60M300.35 411.42h2.20M521.25 411.42h-2.20M300.35 404.72h2.20M521.25 404.72h-2.20M300.35 399.96h2.20M521.25 399.96h-2.20M300.35 396.27h2.20M521.25 396.27h-2.20M300.35 393.26h2.20M521.25 393.26h-2.20M300.35 390.71h2.20M521.25 390.71h-2.20M300.35 388.50h2.20M521.25 388.50h-2.20M300.35 386.55h2.20M521.25 386.55h-2.20M300.35 384.81h4.50M521.25 384.81h-4.50M300.35 373.35h2.20M521.25 373.35h-2.20M300.35 366.65h2.20M521.25 366.65h-2.20M300.35 361.89h2.20M521.25 361.89h-2.20M300.35 358.20h2.20M521.25 358.20h-2.20M300.35 355.19h2.20M521.25 355.19h-2.20M300.35 352.64h2.20M521.25 352.64h-2.20M300.35 350.43h2.20M521.25 350.43h-2.20M300.35 348.48h2.20M521.25 348.48h-2.20M300.35 346.74h4.50M521.25 346.74h-4.50M300.35 335.28h2.20M521.25 335.28h-2.20M300.35 328.58h2.20M521.25 328.58h-2.20M300.35 323.82h2.20M521.25 323.82h-2.20M300.35 320.13h2.20M521.25 320.13h-2.20M300.35 317.12h2.20M521.25 317.12h-2.20M300.35 314.57h2.20M521.25 314.57h-2.20M300.35 312.36h2.20M521.25 312.36h-2.20M300.35 310.41h2.20M521.25 310.41h-2.20M300.35 308.67h4.50M521.25 308.67h-4.50M300.35 297.21h2.20M521.25 297.21h-2.20M300.35 290.51h2.20M521.25 290.51h-2.20M300.35 285.75h2.20M521.25 285.75h-2.20M300.35 282.06h2.20M521.25 282.06h-2.20M300.35 279.05h2.20M521.25 279.05h-2.20M300.35 276.50h2.20M521.25 276.50h-2.20M300.35 274.29h2.20M521.25 274.29h-2.20M300.35 272.34h2.20M521.25 272.34h-2.20M300.35 270.60h4.50M521.25 270.60h-4.50M300.35 436.93h4.5M521.25 436.93h-4.5M300.35 450.50h4.5M521.25 450.50h-4.5M300.35 465.38h4.5M521.25 465.38h-4.5"/>
<text x="297.75" y="276.70" font-size="10.40" text-anchor="end">1000</text>
<text x="297.75" y="312.17" font-size="10.40" text-anchor="end">100</text>
<text x="297.75" y="350.24" font-size="10.40" text-anchor="end">10</text>
<text x="297.75" y="388.31" font-size="10.40" text-anchor="end">1</text>
<text x="297.75" y="428.10" font-size="10.40" text-anchor="end">10.0</text>
<text x="297.75" y="440.60" font-size="10.40" text-anchor="end">3.0</text>
<text x="297.75" y="453.70" font-size="10.40" text-anchor="end">1.0</text>
<text x="297.75" y="468.30" font-size="10.40" text-anchor="end">0.3</text>
<text x="297.75" y="478.50" font-size="10.40" text-anchor="end">0.1</text>
<text x="344.15" y="491.80" font-size="10.40" text-anchor="middle">10<tspan dy="-4.8" font-size="6.6">12</tspan></text>
<text x="428.15" y="491.80" font-size="10.40" text-anchor="middle">10<tspan dy="-4.8" font-size="6.6">13</tspan></text>
<text x="512.15" y="491.80" font-size="10.40" text-anchor="middle">10<tspan dy="-4.8" font-size="6.6">14</tspan></text>
<text x="410.80" y="502.70" font-size="10.40" text-anchor="middle">M200 (M<tspan dy="2.5" font-size="6.6">sun</tspan><tspan dy="-2.5">)</tspan></text>
<text x="663.55" y="26.40" font-size="13.10" text-anchor="middle">COOLZ2, z=1.5 - large core</text>
<g clip-path="url(#ct2)">
<path class="ln" d="M553.5 151.3V177.6M553.5 156.7V176.5M554.5 152.2V160.7M554.5 155.2V180.6M554.5 156.1V174.4M554.5 159.1V166.0M555.5 153.5V175.2M555.5 155.8V181.1M555.5 158.6V184.5M556.5 156.2V173.7M557.5 148.0V160.3M557.5 154.2V168.2M557.5 156.4V178.7M558.5 145.4V178.0M558.5 153.6V168.6M558.5 156.6V179.6M559.5 154.6V176.5M560.5 142.7V158.2M560.5 154.8V175.6M561.5 153.5V184.5M561.5 156.8V184.5M562.5 150.7V162.2M562.5 156.5V170.0M563.5 153.8V184.5M564.5 150.3V182.3M564.5 152.8V175.2M564.5 155.4V184.5M566.5 146.0V157.8M566.5 149.7V177.5M566.5 151.9V184.5M567.5 152.8V184.5M568.5 147.2V159.9M569.5 144.4V178.5M569.5 151.3V180.2M570.5 142.1V184.5M570.5 149.3V161.8M571.5 143.2V184.5M571.5 150.1V184.5M571.5 152.8V184.5M573.5 145.6V184.5M573.5 149.7V184.5M574.5 148.9V184.5M574.5 151.0V184.5M575.5 151.2V168.2M576.5 148.6V181.4M577.5 148.6V154.6M578.5 149.3V184.5M579.5 144.3V171.7M579.5 147.3V184.5M581.5 148.1V184.5M583.5 136.0V177.5M583.5 145.2V184.5M584.5 145.6V184.5M585.5 137.5V184.5M587.5 138.7V184.5M588.5 142.7V184.5M589.5 140.1V184.5M590.5 135.8V163.8M590.5 143.4V184.5M591.5 147.3V184.5M593.5 139.1V184.5M593.5 144.9V184.5M595.5 142.4V184.5M596.5 142.0V184.5M598.5 138.5V184.5M599.5 140.1V184.5M600.5 139.0V184.5M603.5 138.8V180.5M604.5 141.2V184.5M606.5 140.7V184.5M608.5 135.3V157.2M609.5 136.9V176.6M611.5 134.1V184.5M614.5 131.8V151.0M615.5 134.4V160.8M617.5 132.1V184.5M620.5 123.7V184.5M623.5 134.4V184.5M628.5 124.6V177.4M636.5 124.5V184.5M647.5 111.0V150.4M663.5 110.7V170.9M681.5 101.9V168.2"/>
<path class="ln" d="M553.5 152.1V184.5M553.5 156.8V181.6M554.5 153.0V182.6M554.5 155.6V183.1M554.5 156.4V170.0M554.5 159.2V173.2M555.5 154.9V167.0M555.5 156.2V163.3M556.5 151.6V180.5M556.5 156.5V166.3M557.5 150.1V184.5M557.5 154.2V183.9M557.5 156.6V184.5M558.5 150.9V172.9M558.5 154.4V184.5M559.5 147.3V184.1M559.5 156.7V170.7M560.5 152.7V164.7M560.5 158.0V166.3M561.5 153.7V178.0M562.5 146.0V183.8M562.5 151.5V167.6M563.5 150.5V157.7M563.5 154.5V178.0M564.5 150.9V177.6M564.5 153.1V159.7M565.5 149.4V174.5M566.5 148.9V184.5M566.5 150.6V184.5M566.5 152.2V184.5M567.5 153.6V184.5M568.5 150.8V184.5M569.5 147.1V182.0M569.5 151.3V175.8M570.5 145.1V184.5M570.5 149.3V159.0M571.5 146.9V184.5M571.5 150.4V184.5M571.5 154.4V184.5M573.5 146.1V184.5M574.5 143.7V184.5M574.5 149.0V161.9M575.5 145.6V184.5M575.5 151.2V184.5M576.5 150.4V157.6M577.5 149.3V184.5M578.5 150.0V184.5M579.5 145.9V172.7M581.5 142.9V159.7M582.5 143.6V184.5M583.5 143.1V177.5M583.5 145.6V184.5M584.5 146.7V184.5M586.5 146.1V174.4M587.5 144.0V184.5M588.5 143.5V184.5M589.5 145.1V184.5M590.5 135.8V184.5M591.5 130.1V184.5M592.5 136.3V184.5M593.5 139.9V184.5M595.5 137.8V184.5M595.5 143.1V184.5M597.5 138.9V184.5M598.5 138.9V182.6M599.5 142.6V184.5M600.5 139.4V184.5M603.5 139.6V184.5M605.5 137.6V184.5M607.5 135.5V184.5M609.5 118.9V184.5M609.5 138.6V184.5M612.5 124.6V184.5M614.5 132.7V184.5M615.5 138.4V184.5M618.5 130.9V184.5M620.5 126.9V178.3M624.5 133.7V184.5M631.5 126.0V157.1M641.5 107.7V176.8M654.5 106.5V143.0M663.5 111.0V164.1M685.5 88.2V143.7"/>
<path class="ln" d="M553.5 152.9V183.8M553.5 157.5V176.3M554.5 153.6V173.0M554.5 155.8V176.1M554.5 157.0V171.9M554.5 159.3V164.4M555.5 155.6V166.1M555.5 157.2V184.5M556.5 154.3V162.6M556.5 157.6V184.5M557.5 151.0V184.5M557.5 154.3V167.4M557.5 156.8V174.9M558.5 151.8V184.5M558.5 154.7V184.5M559.5 152.3V172.5M559.5 156.7V171.8M560.5 153.6V184.5M560.5 158.4V165.7M561.5 154.5V165.1M562.5 150.1V164.5M562.5 152.0V162.1M563.5 151.5V175.5M563.5 157.3V171.9M564.5 152.1V162.4M564.5 154.3V165.0M565.5 151.0V164.5M566.5 149.0V173.5M566.5 150.7V158.7M566.5 153.1V178.2M567.5 155.6V184.5M568.5 155.3V184.5M569.5 149.3V184.5M569.5 152.5V184.5M570.5 146.7V154.2M570.5 151.3V161.9M571.5 147.0V163.3M571.5 150.7V184.5M572.5 151.2V184.5M573.5 147.6V184.5M574.5 147.3V184.5M574.5 149.7V176.4M575.5 149.1V184.5M575.5 152.3V184.5M577.5 140.8V164.0M578.5 146.3V184.5M578.5 150.9V172.9M579.5 146.5V173.3M581.5 145.4V184.5M582.5 144.9V180.1M583.5 143.9V184.5M583.5 146.3V184.5M584.5 146.9V178.0M586.5 146.6V184.5M587.5 145.6V181.7M588.5 145.6V174.0M589.5 146.0V184.5M590.5 139.2V167.8M591.5 139.4V184.5M592.5 142.5V176.3M593.5 140.7V184.5M595.5 141.5V184.5M596.5 140.4V179.6M597.5 143.1V170.6M598.5 141.9V184.5M599.5 142.6V167.3M601.5 133.7V184.5M604.5 137.8V184.5M606.5 135.5V158.1M607.5 137.9V184.5M609.5 133.8V184.5M610.5 134.8V184.5M612.5 136.5V184.5M614.5 133.8V182.7M616.5 132.6V166.5M618.5 133.2V158.3M621.5 125.3V182.0M625.5 124.2V175.8M634.5 118.2V162.5M645.5 118.6V181.4M655.5 114.1V165.9M668.5 104.7V157.9M687.5 100.4V155.8"/>
<path class="ln" d="M553.5 156.4V176.1M553.5 158.4V164.7M554.5 154.9V184.5M554.5 155.9V164.3M554.5 157.9V171.7M555.5 150.7V171.4M555.5 155.7V184.5M555.5 158.3V184.5M556.5 155.7V175.2M556.5 159.0V180.5M557.5 153.6V183.0M557.5 155.3V171.6M557.5 158.5V177.7M558.5 152.4V167.7M558.5 155.9V178.4M559.5 153.1V184.5M559.5 157.5V172.2M560.5 154.3V184.5M561.5 142.8V183.6M561.5 156.0V168.1M562.5 150.7V167.8M562.5 154.1V171.5M563.5 151.9V162.3M564.5 149.1V184.5M564.5 152.1V166.1M564.5 154.4V176.2M565.5 153.0V179.8M566.5 149.5V158.7M566.5 151.9V184.5M567.5 135.6V184.5M568.5 142.1V174.7M568.5 155.4V184.5M569.5 150.6V159.6M569.5 153.1V184.5M570.5 148.9V184.5M570.5 151.8V184.5M571.5 147.7V184.5M571.5 151.8V161.6M572.5 152.0V184.5M573.5 149.1V184.5M574.5 148.5V184.5M574.5 150.2V184.5M575.5 150.0V184.5M576.5 145.4V184.5M577.5 144.5V159.9M578.5 146.9V168.7M579.5 141.1V184.5M579.5 146.7V184.5M581.5 145.7V156.1M582.5 147.3V184.5M583.5 144.6V184.5M584.5 140.7V174.5M584.5 147.9V184.5M587.5 137.6V184.5M587.5 148.6V184.5M589.5 133.7V184.5M589.5 146.3V184.5M590.5 142.2V171.5M591.5 144.9V168.6M592.5 142.9V163.0M593.5 141.0V179.4M595.5 142.4V184.5M596.5 142.0V173.1M597.5 143.8V184.5M598.5 143.2V184.5M600.5 138.9V184.5M602.5 123.0V167.8M604.5 140.7V178.2M606.5 139.9V184.4M607.5 138.6V168.7M609.5 135.7V184.5M611.5 129.8V184.5M612.5 138.9V181.6M615.5 131.4V184.5M617.5 131.7V184.5M619.5 133.4V184.5M621.5 133.0V184.5M625.5 129.4V184.5M635.5 123.0V184.5M645.5 119.1V167.7M662.5 110.2V147.6M675.5 105.7V148.8M717.5 82.5V143.0"/>
<g class="rg"><circle cx="553.0" cy="176.5" r="2.9"/><circle cx="553.2" cy="164.7" r="2.9"/><circle cx="553.3" cy="176.1" r="2.9"/><circle cx="553.3" cy="185.0" r="2.9"/><circle cx="553.7" cy="177.6" r="2.9"/><circle cx="553.7" cy="181.6" r="2.9"/><circle cx="553.8" cy="176.3" r="2.9"/><circle cx="553.9" cy="183.8" r="2.9"/><circle cx="554.0" cy="166.0" r="2.9"/><circle cx="554.1" cy="183.1" r="2.9"/><circle cx="554.1" cy="180.6" r="2.9"/><circle cx="554.2" cy="171.9" r="2.9"/><circle cx="554.3" cy="174.4" r="2.9"/><circle cx="554.3" cy="160.7" r="2.9"/><circle cx="554.4" cy="164.4" r="2.9"/><circle cx="554.5" cy="170.0" r="2.9"/><circle cx="554.6" cy="171.7" r="2.9"/><circle cx="554.7" cy="173.0" r="2.9"/><circle cx="554.7" cy="173.2" r="2.9"/><circle cx="554.7" cy="186.6" r="2.9"/><circle cx="554.8" cy="164.3" r="2.9"/><circle cx="554.9" cy="182.6" r="2.9"/><circle cx="554.9" cy="176.1" r="2.9"/><circle cx="555.0" cy="166.1" r="2.9"/><circle cx="555.1" cy="187.3" r="2.9"/><circle cx="555.2" cy="171.4" r="2.9"/><circle cx="555.3" cy="163.3" r="2.9"/><circle cx="555.4" cy="167.0" r="2.9"/><circle cx="555.9" cy="175.2" r="2.9"/><circle cx="555.9" cy="181.1" r="2.9"/><circle cx="555.9" cy="184.9" r="2.9"/><circle cx="556.0" cy="185.3" r="2.9"/><circle cx="556.4" cy="180.5" r="2.9"/><circle cx="556.4" cy="166.3" r="2.9"/><circle cx="556.4" cy="180.5" r="2.9"/><circle cx="556.7" cy="175.2" r="2.9"/><circle cx="556.8" cy="162.6" r="2.9"/><circle cx="556.9" cy="173.7" r="2.9"/><circle cx="557.2" cy="183.9" r="2.9"/><circle cx="557.3" cy="174.9" r="2.9"/><circle cx="557.3" cy="171.6" r="2.9"/><circle cx="557.3" cy="177.7" r="2.9"/><circle cx="557.4" cy="178.7" r="2.9"/><circle cx="557.4" cy="183.0" r="2.9"/><circle cx="557.8" cy="167.4" r="2.9"/><circle cx="557.8" cy="160.3" r="2.9"/><circle cx="557.8" cy="168.2" r="2.9"/><circle cx="557.9" cy="184.5" r="2.9"/><circle cx="557.9" cy="184.9" r="2.9"/><circle cx="558.3" cy="168.6" r="2.9"/><circle cx="558.3" cy="178.0" r="2.9"/><circle cx="558.3" cy="172.9" r="2.9"/><circle cx="558.5" cy="179.6" r="2.9"/><circle cx="558.6" cy="178.4" r="2.9"/><circle cx="558.6" cy="167.7" r="2.9"/><circle cx="558.6" cy="185.3" r="2.9"/><circle cx="559.0" cy="171.8" r="2.9"/><circle cx="559.1" cy="184.6" r="2.9"/><circle cx="559.3" cy="176.5" r="2.9"/><circle cx="559.5" cy="172.2" r="2.9"/><circle cx="559.6" cy="172.5" r="2.9"/><circle cx="559.9" cy="184.1" r="2.9"/><circle cx="560.0" cy="170.7" r="2.9"/><circle cx="560.2" cy="165.7" r="2.9"/><circle cx="560.6" cy="166.3" r="2.9"/><circle cx="560.9" cy="164.7" r="2.9"/><circle cx="560.9" cy="175.6" r="2.9"/><circle cx="561.0" cy="186.2" r="2.9"/><circle cx="561.1" cy="183.6" r="2.9"/><circle cx="561.3" cy="165.1" r="2.9"/><circle cx="561.3" cy="168.1" r="2.9"/><circle cx="561.5" cy="178.0" r="2.9"/><circle cx="562.4" cy="167.8" r="2.9"/><circle cx="562.5" cy="164.5" r="2.9"/><circle cx="562.6" cy="183.8" r="2.9"/><circle cx="562.7" cy="162.2" r="2.9"/><circle cx="562.7" cy="170.0" r="2.9"/><circle cx="562.7" cy="171.5" r="2.9"/><circle cx="562.7" cy="167.6" r="2.9"/><circle cx="562.9" cy="162.1" r="2.9"/><circle cx="563.2" cy="171.9" r="2.9"/><circle cx="563.2" cy="162.3" r="2.9"/><circle cx="563.2" cy="175.5" r="2.9"/><circle cx="563.6" cy="184.6" r="2.9"/><circle cx="563.7" cy="178.0" r="2.9"/><circle cx="564.0" cy="157.7" r="2.9"/><circle cx="564.0" cy="177.6" r="2.9"/><circle cx="564.0" cy="182.3" r="2.9"/><circle cx="564.1" cy="165.0" r="2.9"/><circle cx="564.3" cy="175.2" r="2.9"/><circle cx="564.8" cy="176.2" r="2.9"/><circle cx="564.8" cy="166.1" r="2.9"/><circle cx="564.9" cy="162.4" r="2.9"/><circle cx="565.0" cy="159.7" r="2.9"/><circle cx="565.2" cy="164.5" r="2.9"/><circle cx="565.5" cy="174.5" r="2.9"/><circle cx="565.9" cy="179.8" r="2.9"/><circle cx="566.0" cy="157.8" r="2.9"/><circle cx="566.1" cy="178.2" r="2.9"/><circle cx="566.2" cy="173.5" r="2.9"/><circle cx="566.5" cy="177.5" r="2.9"/><circle cx="566.7" cy="186.3" r="2.9"/><circle cx="566.7" cy="158.7" r="2.9"/><circle cx="566.8" cy="158.7" r="2.9"/><circle cx="568.3" cy="174.7" r="2.9"/><circle cx="569.0" cy="159.9" r="2.9"/><circle cx="569.1" cy="178.5" r="2.9"/><circle cx="569.1" cy="175.8" r="2.9"/><circle cx="569.2" cy="182.0" r="2.9"/><circle cx="569.3" cy="180.2" r="2.9"/><circle cx="569.4" cy="159.6" r="2.9"/><circle cx="570.1" cy="154.2" r="2.9"/><circle cx="570.3" cy="161.9" r="2.9"/><circle cx="570.5" cy="161.8" r="2.9"/><circle cx="570.7" cy="185.9" r="2.9"/><circle cx="570.9" cy="159.0" r="2.9"/><circle cx="571.0" cy="161.6" r="2.9"/><circle cx="571.7" cy="163.3" r="2.9"/><circle cx="574.5" cy="161.9" r="2.9"/><circle cx="574.5" cy="176.4" r="2.9"/><circle cx="575.9" cy="168.2" r="2.9"/><circle cx="576.0" cy="181.4" r="2.9"/><circle cx="576.5" cy="157.6" r="2.9"/><circle cx="577.5" cy="154.6" r="2.9"/><circle cx="577.9" cy="159.9" r="2.9"/><circle cx="578.5" cy="172.9" r="2.9"/><circle cx="578.9" cy="168.7" r="2.9"/><circle cx="579.0" cy="171.7" r="2.9"/><circle cx="579.1" cy="172.7" r="2.9"/><circle cx="579.6" cy="173.3" r="2.9"/><circle cx="581.1" cy="156.1" r="2.9"/><circle cx="581.4" cy="159.7" r="2.9"/><circle cx="582.3" cy="185.2" r="2.9"/><circle cx="582.6" cy="180.1" r="2.9"/><circle cx="583.2" cy="177.5" r="2.9"/><circle cx="584.2" cy="174.5" r="2.9"/><circle cx="584.7" cy="178.0" r="2.9"/><circle cx="586.1" cy="174.4" r="2.9"/><circle cx="587.1" cy="181.7" r="2.9"/><circle cx="588.7" cy="174.0" r="2.9"/><circle cx="588.9" cy="187.1" r="2.9"/><circle cx="590.1" cy="167.8" r="2.9"/><circle cx="590.6" cy="163.8" r="2.9"/><circle cx="590.9" cy="171.5" r="2.9"/><circle cx="591.5" cy="168.6" r="2.9"/><circle cx="592.3" cy="176.3" r="2.9"/><circle cx="592.9" cy="163.0" r="2.9"/><circle cx="593.6" cy="179.4" r="2.9"/><circle cx="596.2" cy="179.6" r="2.9"/><circle cx="596.8" cy="173.1" r="2.9"/><circle cx="597.4" cy="170.6" r="2.9"/><circle cx="598.5" cy="182.6" r="2.9"/><circle cx="599.3" cy="167.3" r="2.9"/><circle cx="600.0" cy="187.3" r="2.9"/><circle cx="603.1" cy="180.5" r="2.9"/><circle cx="604.4" cy="178.2" r="2.9"/><circle cx="606.1" cy="158.1" r="2.9"/><circle cx="606.6" cy="184.4" r="2.9"/><circle cx="607.7" cy="168.7" r="2.9"/><circle cx="608.7" cy="157.2" r="2.9"/><circle cx="609.1" cy="185.7" r="2.9"/><circle cx="609.2" cy="176.6" r="2.9"/><circle cx="612.6" cy="181.6" r="2.9"/><circle cx="614.1" cy="182.7" r="2.9"/><circle cx="614.3" cy="151.0" r="2.9"/><circle cx="615.8" cy="160.8" r="2.9"/><circle cx="616.1" cy="166.5" r="2.9"/><circle cx="618.3" cy="158.3" r="2.9"/><circle cx="620.8" cy="178.3" r="2.9"/><circle cx="621.1" cy="182.0" r="2.9"/><circle cx="560.0" cy="158.2" r="2.9"/><circle cx="577.1" cy="164.0" r="2.9"/><circle cx="583.8" cy="177.5" r="2.9"/><circle cx="602.3" cy="167.8" r="2.9"/><circle cx="625.4" cy="175.8" r="2.9"/><circle cx="628.9" cy="177.4" r="2.9"/><circle cx="634.1" cy="162.5" r="2.9"/><circle cx="631.5" cy="157.1" r="2.9"/><circle cx="717.6" cy="143.0" r="2.9"/><circle cx="685.2" cy="143.7" r="2.9"/><circle cx="687.6" cy="155.8" r="2.9"/><circle cx="681.5" cy="168.2" r="2.9"/><circle cx="675.8" cy="148.8" r="2.9"/><circle cx="672.4" cy="152.2" r="2.9"/><circle cx="668.2" cy="157.9" r="2.9"/><circle cx="663.3" cy="170.9" r="2.9"/><circle cx="663.0" cy="164.1" r="2.9"/><circle cx="662.7" cy="147.6" r="2.9"/><circle cx="654.5" cy="143.0" r="2.9"/><circle cx="655.7" cy="165.9" r="2.9"/><circle cx="647.4" cy="150.4" r="2.9"/><circle cx="645.5" cy="167.7" r="2.9"/><circle cx="645.7" cy="181.4" r="2.9"/><circle cx="641.3" cy="176.8" r="2.9"/></g>
<path class="bk" d="M553.0 156.7h0M553.2 158.4h0M553.3 156.4h0M553.3 152.1h0M553.7 151.3h0M553.7 156.8h0M553.8 157.5h0M553.9 152.9h0M554.0 159.1h0M554.1 155.6h0M554.1 155.2h0M554.2 157.0h0M554.3 156.1h0M554.3 152.2h0M554.4 159.3h0M554.5 156.4h0M554.6 157.9h0M554.7 153.6h0M554.7 159.2h0M554.7 154.9h0M554.8 155.9h0M554.9 153.0h0M554.9 155.8h0M555.0 155.6h0M555.1 155.7h0M555.2 150.7h0M555.3 156.2h0M555.3 158.3h0M555.4 154.9h0M555.9 153.5h0M555.9 155.8h0M555.9 157.2h0M556.0 158.6h0M556.2 157.6h0M556.4 151.6h0M556.4 156.5h0M556.4 159.0h0M556.7 155.7h0M556.8 154.3h0M556.9 156.2h0M557.2 154.2h0M557.3 156.8h0M557.3 155.3h0M557.3 158.5h0M557.4 156.4h0M557.4 153.6h0M557.5 156.6h0M557.8 154.3h0M557.8 148.0h0M557.8 154.2h0M557.9 151.0h0M557.9 150.1h0M558.3 153.6h0M558.3 145.4h0M558.3 150.9h0M558.4 154.4h0M558.5 156.6h0M558.5 154.7h0M558.6 155.9h0M558.6 152.4h0M558.6 151.8h0M559.0 156.7h0M559.1 153.1h0M559.3 154.6h0M559.5 157.5h0M559.6 152.3h0M559.9 147.3h0M560.0 156.7h0M560.2 158.4h0M560.3 154.3h0M560.6 158.0h0M560.9 152.7h0M560.9 154.8h0M561.0 153.6h0M561.1 142.8h0M561.3 154.5h0M561.3 156.0h0M561.5 153.5h0M561.5 153.7h0M562.0 156.8h0M562.4 150.7h0M562.5 150.1h0M562.6 146.0h0M562.7 150.7h0M562.7 156.5h0M562.7 154.1h0M562.7 151.5h0M562.9 152.0h0M563.2 157.3h0M563.2 151.9h0M563.2 151.5h0M563.6 153.8h0M563.7 154.5h0M564.0 150.5h0M564.0 150.9h0M564.0 150.3h0M564.1 154.3h0M564.3 152.8h0M564.4 149.1h0M564.7 155.4h0M564.8 154.4h0M564.8 152.1h0M564.9 152.1h0M565.0 153.1h0M565.2 151.0h0M565.5 149.4h0M565.9 153.0h0M566.0 146.0h0M566.1 153.1h0M566.2 149.0h0M566.3 151.9h0M566.3 151.9h0M566.3 152.2h0M566.5 149.7h0M566.7 148.9h0M566.7 150.6h0M566.7 149.5h0M566.8 150.7h0M567.1 152.8h0M567.2 153.6h0M567.3 155.6h0M568.3 142.1h0M568.7 155.4h0M568.8 155.3h0M568.8 150.8h0M569.0 147.2h0M569.1 144.4h0M569.1 151.3h0M569.2 147.1h0M569.3 151.3h0M569.4 150.6h0M569.4 149.3h0M569.4 152.5h0M570.0 153.1h0M570.1 146.7h0M570.3 151.3h0M570.5 149.3h0M570.6 148.9h0M570.7 145.1h0M570.7 151.8h0M570.9 149.3h0M571.0 142.1h0M571.0 151.8h0M571.1 146.9h0M571.2 150.7h0M571.2 154.4h0M571.2 150.4h0M571.5 147.7h0M571.7 147.0h0M571.9 152.8h0M572.0 150.1h0M572.4 151.2h0M572.7 152.0h0M573.2 149.7h0M573.2 149.1h0M573.3 147.6h0M573.6 145.6h0M573.9 146.1h0M574.4 143.7h0M574.4 148.9h0M574.5 150.2h0M574.5 149.0h0M574.5 149.7h0M574.5 151.0h0M574.6 147.3h0M574.9 148.5h0M575.0 145.6h0M575.2 151.2h0M575.4 149.1h0M575.5 150.0h0M575.6 152.3h0M575.9 151.2h0M576.0 148.6h0M576.5 150.4h0M576.7 145.4h0M577.4 149.3h0M577.5 148.6h0M577.9 144.5h0M578.5 150.9h0M578.7 146.3h0M578.7 149.3h0M578.9 146.9h0M578.9 150.0h0M579.0 144.3h0M579.1 145.9h0M579.2 141.1h0M579.4 147.3h0M579.6 146.5h0M579.8 146.7h0M581.1 145.7h0M581.1 148.1h0M581.4 142.9h0M581.6 145.4h0M582.1 143.6h0M582.3 147.3h0M582.6 144.9h0M583.0 143.9h0M583.1 145.6h0M583.2 143.1h0M583.2 146.3h0M583.6 144.6h0M583.9 145.2h0M584.2 140.7h0M584.2 147.9h0M584.4 145.6h0M584.7 146.9h0M585.0 146.7h0M585.1 137.5h0M586.0 146.6h0M586.1 146.1h0M587.1 145.6h0M587.3 144.0h0M587.7 137.6h0M587.9 138.7h0M587.9 148.6h0M588.3 142.7h0M588.7 145.6h0M588.9 143.5h0M589.0 146.0h0M589.4 145.1h0M589.8 146.3h0M589.8 140.1h0M590.1 139.2h0M590.6 135.8h0M590.7 143.4h0M590.9 135.8h0M590.9 142.2h0M591.5 144.9h0M591.6 147.3h0M591.8 139.4h0M592.3 142.5h0M592.6 136.3h0M592.9 142.9h0M593.2 139.1h0M593.2 139.9h0M593.4 140.7h0M593.6 141.0h0M593.9 144.9h0M595.0 142.4h0M595.1 137.8h0M595.1 142.4h0M595.5 141.5h0M595.8 143.1h0M596.2 142.0h0M596.2 140.4h0M596.8 142.0h0M597.2 138.9h0M597.4 143.1h0M597.7 143.8h0M598.4 138.5h0M598.4 141.9h0M598.5 138.9h0M598.7 143.2h0M599.3 142.6h0M599.6 140.1h0M600.0 142.6h0M600.5 139.4h0M600.6 138.9h0M600.8 139.0h0M601.9 133.7h0M603.1 138.8h0M603.9 139.6h0M604.3 137.8h0M604.4 140.7h0M604.4 141.2h0M605.9 137.6h0M606.1 135.5h0M606.6 139.9h0M606.9 140.7h0M607.0 137.9h0M607.1 135.5h0M607.7 138.6h0M608.7 135.3h0M609.1 133.8h0M609.1 138.6h0M609.2 136.9h0M609.4 135.7h0M610.6 134.8h0M611.2 134.1h0M611.9 129.8h0M612.6 138.9h0M612.7 136.5h0M614.1 133.8h0M614.3 131.8h0M614.5 132.7h0M615.1 131.4h0M615.4 138.4h0M615.8 134.4h0M616.1 132.6h0M617.1 131.7h0M617.1 132.1h0M618.3 133.2h0M619.0 130.9h0M619.7 133.4h0M620.8 126.9h0M621.1 125.3h0M621.7 133.0h0M623.4 134.4h0M624.2 133.7h0M625.1 129.4h0M567.1 135.6h0M560.0 142.7h0M571.9 143.2h0M577.1 140.8h0M583.8 136.0h0M591.6 130.1h0M589.7 133.7h0M602.3 123.0h0M609.9 118.9h0M612.3 124.6h0M620.1 123.7h0M625.4 124.2h0M628.9 124.6h0M634.1 118.2h0M636.5 124.5h0M631.5 126.0h0M635.0 123.0h0M717.6 82.5h0M685.2 88.2h0M687.6 100.4h0M681.5 101.9h0M675.8 105.7h0M668.2 104.7h0M663.3 110.7h0M663.0 111.0h0M662.7 110.2h0M654.5 106.5h0M655.7 114.1h0M647.4 111.0h0M645.5 119.1h0M645.7 118.6h0M641.3 107.7h0"/>
</g>
<path class="one" d="M553.10 209.50H774.00"/>
<g clip-path="url(#cr2)">
<path class="rk" d="M618.3 241.1h0M615.8 242.7h0M614.3 233.7h0M608.7 237.0h0M606.1 237.9h0M599.3 240.5h0M597.4 244.1h0M592.9 234.7h0M591.5 239.4h0M581.4 230.6h0M581.1 222.6h0M579.6 243.2h0M579.1 243.3h0M579.0 244.0h0M578.9 237.0h0M578.5 237.3h0M577.9 228.8h0M577.5 217.1h0M577.1 238.8h0M576.5 218.6h0M575.9 230.9h0M574.5 243.2h0M574.5 225.7h0M571.7 229.9h0M571.0 221.8h0M570.9 221.7h0M570.5 225.3h0M570.3 222.9h0M570.1 219.0h0M569.4 220.7h0M569.1 240.2h0M569.0 225.4h0M566.8 219.6h0M566.7 221.1h0M566.2 240.4h0M566.1 241.0h0M566.0 224.3h0M565.9 243.2h0M565.5 241.1h0M565.2 226.5h0M565.0 217.8h0M564.9 222.5h0M564.8 227.1h0M564.8 236.9h0M564.3 237.8h0M564.1 223.0h0M564.0 243.1h0M564.0 218.6h0M563.7 239.1h0M563.2 239.7h0M563.2 222.6h0M563.2 227.8h0M562.9 222.3h0M562.7 229.8h0M562.7 231.3h0M562.7 226.6h0M562.7 224.0h0M562.5 227.6h0M562.4 231.1h0M561.5 240.1h0M561.3 224.7h0M561.3 222.8h0M560.9 235.7h0M560.9 224.6h0M560.6 220.0h0M560.2 218.8h0M560.0 229.0h0M560.0 227.1h0M559.6 234.9h0M559.5 228.1h0M559.3 237.2h0M559.0 228.5h0M558.6 228.8h0M558.6 237.8h0M558.5 238.4h0M558.3 237.2h0M558.3 228.4h0M557.8 227.2h0M557.8 225.1h0M557.8 226.1h0M557.4 237.5h0M557.3 233.6h0M557.3 230.1h0M557.3 232.3h0M556.9 231.6h0M556.8 220.0h0M556.7 234.1h0M556.4 236.6h0M556.4 221.8h0M556.0 243.1h0M555.9 244.3h0M555.9 241.4h0M555.9 236.8h0M555.4 224.7h0M555.3 218.5h0M555.2 235.6h0M555.0 222.7h0M554.9 235.1h0M554.8 220.0h0M554.7 227.2h0M554.7 234.0h0M554.6 226.9h0M554.5 226.7h0M554.4 215.9h0M554.3 220.2h0M554.3 232.5h0M554.2 228.2h0M554.1 241.4h0M554.1 244.1h0M554.0 218.2h0M553.8 233.2h0M553.7 240.7h0M553.7 242.7h0M553.3 234.3h0M553.2 217.5h0M553.0 234.4h0"/><path class="rc" d="M618.3 241.1h0M615.8 242.7h0M614.3 233.7h0M608.7 237.0h0M606.1 237.9h0M599.3 240.5h0M597.4 244.1h0M592.9 234.7h0M591.5 239.4h0M581.4 230.6h0M581.1 222.6h0M579.6 243.2h0M579.1 243.3h0M579.0 244.0h0M578.9 237.0h0M578.5 237.3h0M577.9 228.8h0M577.5 217.1h0M577.1 238.8h0M576.5 218.6h0M575.9 230.9h0M574.5 243.2h0M574.5 225.7h0M571.7 229.9h0M571.0 221.8h0M570.9 221.7h0M570.5 225.3h0M570.3 222.9h0M570.1 219.0h0M569.4 220.7h0M569.1 240.2h0M569.0 225.4h0M566.8 219.6h0M566.7 221.1h0M566.2 240.4h0M566.1 241.0h0M566.0 224.3h0M565.9 243.2h0M565.5 241.1h0M565.2 226.5h0M565.0 217.8h0M564.9 222.5h0M564.8 227.1h0M564.8 236.9h0M564.3 237.8h0M564.1 223.0h0M564.0 243.1h0M564.0 218.6h0M563.7 239.1h0M563.2 239.7h0M563.2 222.6h0M563.2 227.8h0M562.9 222.3h0M562.7 229.8h0M562.7 231.3h0M562.7 226.6h0M562.7 224.0h0M562.5 227.6h0M562.4 231.1h0M561.5 240.1h0M561.3 224.7h0M561.3 222.8h0M560.9 235.7h0M560.9 224.6h0M560.6 220.0h0M560.2 218.8h0M560.0 229.0h0M560.0 227.1h0M559.6 234.9h0M559.5 228.1h0M559.3 237.2h0M559.0 228.5h0M558.6 228.8h0M558.6 237.8h0M558.5 238.4h0M558.3 237.2h0M558.3 228.4h0M557.8 227.2h0M557.8 225.1h0M557.8 226.1h0M557.4 237.5h0M557.3 233.6h0M557.3 230.1h0M557.3 232.3h0M556.9 231.6h0M556.8 220.0h0M556.7 234.1h0M556.4 236.6h0M556.4 221.8h0M556.0 243.1h0M555.9 244.3h0M555.9 241.4h0M555.9 236.8h0M555.4 224.7h0M555.3 218.5h0M555.2 235.6h0M555.0 222.7h0M554.9 235.1h0M554.8 220.0h0M554.7 227.2h0M554.7 234.0h0M554.6 226.9h0M554.5 226.7h0M554.4 215.9h0M554.3 220.2h0M554.3 232.5h0M554.2 228.2h0M554.1 241.4h0M554.1 244.1h0M554.0 218.2h0M553.8 233.2h0M553.7 240.7h0M553.7 242.7h0M553.3 234.3h0M553.2 217.5h0M553.0 234.4h0"/>
</g>
<path class="md" d="M553.10 234H582.10"/>
<rect class="fr" x="553.10" y="31.00" width="220.90" height="208.40"/>
<path class="fr" d="M553.10 182.50H774.00"/>
<path class="tk" d="M563.27 31.00v1.50M571.41 31.00v1.50M578.06 31.00v1.50M583.69 31.00v1.50M588.56 31.00v1.50M592.86 31.00v1.50M596.70 31.00v3.00M621.99 31.00v1.50M636.78 31.00v1.50M647.27 31.00v1.50M655.41 31.00v1.50M662.06 31.00v1.50M667.69 31.00v1.50M672.56 31.00v1.50M676.86 31.00v1.50M680.70 31.00v3.00M705.99 31.00v1.50M720.78 31.00v1.50M731.27 31.00v1.50M739.41 31.00v1.50M746.06 31.00v1.50M751.69 31.00v1.50M756.56 31.00v1.50M760.86 31.00v1.50M764.70 31.00v3.00M563.27 182.50v-1.50M571.41 182.50v-1.50M578.06 182.50v-1.50M583.69 182.50v-1.50M588.56 182.50v-1.50M592.86 182.50v-1.50M596.70 182.50v-3.00M621.99 182.50v-1.50M636.78 182.50v-1.50M647.27 182.50v-1.50M655.41 182.50v-1.50M662.06 182.50v-1.50M667.69 182.50v-1.50M672.56 182.50v-1.50M676.86 182.50v-1.50M680.70 182.50v-3.00M705.99 182.50v-1.50M720.78 182.50v-1.50M731.27 182.50v-1.50M739.41 182.50v-1.50M746.06 182.50v-1.50M751.69 182.50v-1.50M756.56 182.50v-1.50M760.86 182.50v-1.50M764.70 182.50v-3.00M563.27 182.50v0.60M571.41 182.50v0.60M578.06 182.50v0.60M583.69 182.50v0.60M588.56 182.50v0.60M592.86 182.50v0.60M596.70 182.50v1.20M621.99 182.50v0.60M636.78 182.50v0.60M647.27 182.50v0.60M655.41 182.50v0.60M662.06 182.50v0.60M667.69 182.50v0.60M672.56 182.50v0.60M676.86 182.50v0.60M680.70 182.50v1.20M705.99 182.50v0.60M720.78 182.50v0.60M731.27 182.50v0.60M739.41 182.50v0.60M746.06 182.50v0.60M751.69 182.50v0.60M756.56 182.50v0.60M760.86 182.50v0.60M764.70 182.50v1.20M563.27 239.40v-0.80M571.41 239.40v-0.80M578.06 239.40v-0.80M583.69 239.40v-0.80M588.56 239.40v-0.80M592.86 239.40v-0.80M596.70 239.40v-1.60M621.99 239.40v-0.80M636.78 239.40v-0.80M647.27 239.40v-0.80M655.41 239.40v-0.80M662.06 239.40v-0.80M667.69 239.40v-0.80M672.56 239.40v-0.80M676.86 239.40v-0.80M680.70 239.40v-1.60M705.99 239.40v-0.80M720.78 239.40v-0.80M731.27 239.40v-0.80M739.41 239.40v-0.80M746.06 239.40v-0.80M751.69 239.40v-0.80M756.56 239.40v-0.80M760.86 239.40v-0.80M764.70 239.40v-1.60M553.10 168.59h2.20M774.00 168.59h-2.20M553.10 160.63h2.20M774.00 160.63h-2.20M553.10 154.99h2.20M774.00 154.99h-2.20M553.10 150.61h2.20M774.00 150.61h-2.20M553.10 147.03h2.20M774.00 147.03h-2.20M553.10 144.00h2.20M774.00 144.00h-2.20M553.10 141.38h2.20M774.00 141.38h-2.20M553.10 139.07h2.20M774.00 139.07h-2.20M553.10 137.00h4.50M774.00 137.00h-4.50M553.10 123.39h2.20M774.00 123.39h-2.20M553.10 115.43h2.20M774.00 115.43h-2.20M553.10 109.79h2.20M774.00 109.79h-2.20M553.10 105.41h2.20M774.00 105.41h-2.20M553.10 101.83h2.20M774.00 101.83h-2.20M553.10 98.80h2.20M774.00 98.80h-2.20M553.10 96.18h2.20M774.00 96.18h-2.20M553.10 93.87h2.20M774.00 93.87h-2.20M553.10 91.80h4.50M774.00 91.80h-4.50M553.10 78.19h2.20M774.00 78.19h-2.20M553.10 70.23h2.20M774.00 70.23h-2.20M553.10 64.59h2.20M774.00 64.59h-2.20M553.10 60.21h2.20M774.00 60.21h-2.20M553.10 56.63h2.20M774.00 56.63h-2.20M553.10 53.60h2.20M774.00 53.60h-2.20M553.10 50.98h2.20M774.00 50.98h-2.20M553.10 48.67h2.20M774.00 48.67h-2.20M553.10 46.60h4.50M774.00 46.60h-4.50M553.10 32.99h2.20M774.00 32.99h-2.20M553.10 201.19h4.5M774.00 201.19h-4.5M553.10 222.12h4.5M774.00 222.12h-4.5"/>
<text x="550.70" y="49.90" font-size="10.40" text-anchor="end">10<tspan dy="-4.8" font-size="6.6">13</tspan></text>
<text x="550.70" y="95.10" font-size="10.40" text-anchor="end">10<tspan dy="-4.8" font-size="6.6">12</tspan></text>
<text x="550.70" y="140.30" font-size="10.40" text-anchor="end">10<tspan dy="-4.8" font-size="6.6">11</tspan></text>
<text x="550.50" y="188.50" font-size="10.40" text-anchor="end">3.0</text>
<text x="550.50" y="204.70" font-size="10.40" text-anchor="end">1.4</text>
<text x="550.50" y="212.60" font-size="10.40" text-anchor="end">1.0</text>
<text x="550.50" y="225.70" font-size="10.40" text-anchor="end">0.6</text>
<text x="550.50" y="239.00" font-size="10.40" text-anchor="end">0.3</text>
<text x="596.90" y="252.80" font-size="10.40" text-anchor="middle">10<tspan dy="-4.8" font-size="6.6">12</tspan></text>
<text x="680.90" y="252.80" font-size="10.40" text-anchor="middle">10<tspan dy="-4.8" font-size="6.6">13</tspan></text>
<text x="764.90" y="252.80" font-size="10.40" text-anchor="middle">10<tspan dy="-4.8" font-size="6.6">14</tspan></text>
<text x="663.55" y="263.30" font-size="10.40" text-anchor="middle">M200 (M<tspan dy="2.5" font-size="6.6">sun</tspan><tspan dy="-2.5">)</tspan></text>
<g clip-path="url(#cb2)">
<path class="ln" d="M553.5 335.3V424.0M553.5 339.9V424.0M553.5 343.7V346.3M554.5 336.7V349.5M554.5 343.1V424.0M555.5 337.0V424.0M555.5 343.4V355.5M556.5 344.5V424.0M557.5 337.1V424.0M557.5 341.4V346.4M558.5 331.0V340.8M559.5 333.2V353.9M559.5 337.8V424.0M559.5 341.5V424.0M559.5 344.3V424.0M560.5 339.3V344.8M561.5 339.2V344.1M561.5 347.0V424.0M562.5 339.4V424.0M563.5 332.6V424.0M564.5 331.6V424.0M564.5 333.6V424.0M564.5 339.5V424.0M564.5 345.4V424.0M565.5 338.0V424.0M565.5 344.3V424.0M566.5 339.5V424.0M567.5 328.2V424.0M568.5 330.8V424.0M568.5 337.9V424.0M568.5 345.1V424.0M570.5 330.5V424.0M571.5 332.3V424.0M572.5 335.0V424.0M572.5 354.4V424.0M573.5 335.0V424.0M574.5 334.6V424.0M575.5 331.1V424.0M576.5 330.9V424.0M577.5 333.4V424.0M577.5 336.8V424.0M577.5 339.5V424.0M578.5 333.7V424.0M579.5 335.7V424.0M580.5 326.6V424.0M581.5 330.4V424.0M582.5 326.3V424.0M583.5 326.7V424.0M583.5 336.0V424.0M584.5 327.6V424.0M585.5 326.8V424.0M586.5 324.9V424.0M587.5 329.7V424.0M588.5 323.1V424.0M588.5 334.8V424.0M590.5 325.3V424.0M590.5 332.8V424.0M591.5 324.9V424.0M592.5 331.7V424.0M593.5 331.0V424.0M594.5 331.8V424.0M596.5 326.5V424.0M598.5 324.6V424.0M599.5 328.9V424.0M601.5 322.3V424.0M602.5 319.5V424.0M604.5 317.8V424.0M605.5 329.8V424.0M607.5 315.1V424.0M611.5 322.8V424.0M613.5 317.2V424.0M614.5 320.1V424.0M617.5 313.1V424.0M620.5 317.3V424.0M622.5 312.4V424.0M623.5 307.5V424.0M634.5 310.1V424.0M647.5 300.1V424.0M663.5 299.5V424.0M681.5 290.5V424.0"/>
<path class="ln" d="M553.5 337.7V352.8M553.5 340.8V424.0M553.5 344.9V394.8M554.5 338.2V424.0M554.5 343.6V348.1M555.5 339.9V424.0M556.5 337.4V424.0M556.5 346.9V424.0M557.5 338.5V424.0M557.5 341.6V424.0M558.5 339.9V424.0M559.5 335.5V424.0M559.5 339.5V424.0M559.5 341.5V424.0M559.5 345.0V424.0M561.5 328.1V330.1M561.5 343.2V424.0M562.5 327.6V424.0M562.5 344.3V411.2M563.5 334.7V424.0M564.5 332.1V424.0M564.5 334.7V424.0M564.5 339.7V424.0M564.5 353.7V424.0M565.5 340.6V424.0M565.5 350.5V424.0M566.5 340.1V424.0M567.5 338.8V424.0M568.5 332.0V424.0M568.5 338.0V424.0M569.5 330.5V424.0M570.5 341.5V424.0M571.5 332.7V424.0M572.5 336.0V424.0M573.5 328.7V424.0M573.5 335.5V424.0M574.5 334.7V424.0M575.5 333.9V424.0M576.5 331.4V424.0M577.5 333.9V424.0M577.5 337.0V424.0M578.5 328.1V424.0M579.5 328.8V424.0M579.5 337.0V424.0M580.5 328.1V424.0M581.5 333.7V424.0M582.5 331.9V424.0M583.5 326.8V424.0M584.5 325.4V424.0M584.5 328.8V424.0M585.5 327.2V424.0M586.5 330.6V424.0M587.5 330.0V424.0M588.5 325.7V424.0M589.5 327.6V424.0M590.5 329.0V424.0M590.5 332.8V424.0M591.5 332.5V424.0M593.5 324.4V424.0M594.5 321.1V424.0M595.5 323.1V424.0M596.5 327.0V424.0M599.5 321.5V424.0M600.5 320.2V424.0M601.5 324.3V424.0M602.5 320.4V424.0M604.5 321.1V424.0M606.5 320.1V424.0M607.5 315.7V424.0M611.5 325.7V424.0M613.5 319.4V424.0M614.5 321.8V424.0M619.5 314.3V424.0M620.5 318.3V424.0M622.5 313.4V424.0M623.5 313.8V424.0M641.5 298.0V424.0M654.5 295.8V424.0M663.5 309.8V424.0M685.5 280.8V424.0"/>
<path class="ln" d="M553.5 337.7V351.2M553.5 343.0V424.0M553.5 347.8V424.0M554.5 340.4V424.0M554.5 343.7V424.0M555.5 341.3V349.2M556.5 339.3V424.0M557.5 332.7V424.0M557.5 339.6V354.8M557.5 344.1V424.0M559.5 332.2V424.0M559.5 337.0V424.0M559.5 339.6V341.0M559.5 342.1V424.0M560.5 328.0V424.0M561.5 333.5V424.0M561.5 343.4V424.0M562.5 331.5V424.0M562.5 345.4V424.0M563.5 338.3V424.0M564.5 332.2V424.0M564.5 338.5V424.0M564.5 339.9V424.0M565.5 334.8V424.0M565.5 340.9V424.0M566.5 328.1V424.0M566.5 340.8V424.0M567.5 341.3V351.5M568.5 332.8V424.0M568.5 340.0V424.0M569.5 335.7V424.0M570.5 342.3V424.0M571.5 335.0V424.0M572.5 336.5V424.0M573.5 329.7V424.0M573.5 340.5V424.0M574.5 336.4V424.0M576.5 327.2V424.0M576.5 332.9V424.0M577.5 335.2V424.0M577.5 337.8V424.0M578.5 329.4V424.0M579.5 330.4V424.0M579.5 339.9V424.0M580.5 329.4V424.0M582.5 322.3V424.0M582.5 332.1V424.0M583.5 327.9V424.0M584.5 326.5V424.0M584.5 329.8V424.0M585.5 332.7V424.0M586.5 331.9V424.0M587.5 332.0V424.0M588.5 328.9V424.0M590.5 324.8V424.0M590.5 329.6V424.0M590.5 336.0V424.0M592.5 327.3V424.0M593.5 325.0V424.0M594.5 321.1V424.0M595.5 325.9V424.0M598.5 321.3V424.0M599.5 321.9V424.0M600.5 324.7V424.0M601.5 326.1V424.0M603.5 320.5V424.0M605.5 321.6V424.0M606.5 320.5V424.0M607.5 320.0V424.0M612.5 318.6V424.0M613.5 321.0V424.0M615.5 308.9V424.0M619.5 318.4V424.0M621.5 309.6V424.0M622.5 313.9V424.0M626.5 312.6V424.0M645.5 309.1V424.0M655.5 308.8V424.0M668.5 295.4V424.0M687.5 291.1V424.0"/>
<path class="ln" d="M553.5 338.9V424.0M553.5 343.6V424.0M553.5 351.5V424.0M554.5 340.5V424.0M555.5 336.6V424.0M555.5 342.7V424.0M556.5 340.9V341.6M557.5 336.0V340.7M557.5 340.8V347.4M557.5 350.2V386.7M559.5 332.8V424.0M559.5 337.4V424.0M559.5 340.5V342.3M559.5 343.1V424.0M560.5 334.4V334.9M561.5 335.8V424.0M561.5 346.7V424.0M562.5 339.2V424.0M563.5 330.5V424.0M564.5 329.0V424.0M564.5 332.5V424.0M564.5 339.0V424.0M564.5 342.1V424.0M565.5 335.7V424.0M565.5 342.6V424.0M566.5 335.9V424.0M567.5 327.2V424.0M567.5 344.6V424.0M568.5 337.1V424.0M568.5 342.0V424.0M569.5 346.2V424.0M570.5 343.3V424.0M571.5 336.0V424.0M572.5 353.2V424.0M573.5 333.3V424.0M574.5 331.4V424.0M574.5 337.7V424.0M576.5 327.3V424.0M576.5 336.5V424.0M577.5 335.5V424.0M577.5 338.5V424.0M578.5 329.5V424.0M579.5 334.9V424.0M580.5 324.1V424.0M580.5 333.9V424.0M582.5 325.4V424.0M583.5 321.7V424.0M583.5 328.9V424.0M584.5 327.2V424.0M584.5 331.7V424.0M586.5 318.7V339.6M587.5 325.9V424.0M587.5 334.6V424.0M588.5 332.8V424.0M590.5 324.9V424.0M590.5 331.1V424.0M591.5 323.9V424.0M592.5 327.7V424.0M593.5 327.8V424.0M594.5 329.1V424.0M595.5 328.0V424.0M598.5 323.7V424.0M599.5 325.6V424.0M601.5 316.2V424.0M602.5 310.6V424.0M604.5 315.8V424.0M605.5 327.0V424.0M606.5 323.8V424.0M608.5 314.0V424.0M612.5 324.0V424.0M614.5 310.7V424.0M615.5 313.8V424.0M620.5 316.7V424.0M621.5 310.2V424.0M623.5 307.4V424.0M629.5 312.1V424.0M645.5 312.9V424.0M662.5 298.9V424.0M676.5 295.1V424.0M717.5 275.3V424.0"/>
<g class="rg"><circle cx="553.0" cy="394.8" r="2.9"/><circle cx="553.1" cy="351.2" r="2.9"/><circle cx="553.4" cy="346.3" r="2.9"/><circle cx="553.8" cy="352.8" r="2.9"/><circle cx="554.2" cy="342.3" r="2.9"/><circle cx="554.3" cy="348.1" r="2.9"/><circle cx="554.8" cy="349.5" r="2.9"/><circle cx="555.0" cy="349.2" r="2.9"/><circle cx="555.9" cy="355.5" r="2.9"/><circle cx="556.9" cy="341.6" r="2.9"/><circle cx="557.0" cy="340.7" r="2.9"/><circle cx="557.6" cy="346.4" r="2.9"/><circle cx="557.8" cy="347.4" r="2.9"/><circle cx="557.9" cy="354.8" r="2.9"/><circle cx="557.9" cy="386.7" r="2.9"/><circle cx="558.5" cy="331.0" r="2.9"/><circle cx="559.0" cy="340.5" r="2.9"/><circle cx="559.1" cy="341.0" r="2.9"/><circle cx="559.8" cy="353.9" r="2.9"/><circle cx="560.7" cy="334.9" r="2.9"/><circle cx="560.8" cy="344.8" r="2.9"/><circle cx="561.4" cy="328.1" r="2.9"/><circle cx="561.6" cy="344.1" r="2.9"/><circle cx="562.2" cy="411.2" r="2.9"/><circle cx="567.1" cy="351.5" r="2.9"/><circle cx="586.8" cy="339.6" r="2.9"/></g>
<path class="bk" d="M553.0 344.9h0M553.1 339.9h0M553.1 338.9h0M553.1 337.7h0M553.3 347.8h0M553.4 343.7h0M553.4 343.6h0M553.5 340.8h0M553.6 343.0h0M553.8 337.7h0M553.8 335.3h0M553.9 351.5h0M554.2 342.4h0M554.3 343.6h0M554.4 340.5h0M554.7 343.1h0M554.7 338.2h0M554.8 336.7h0M554.9 343.7h0M555.0 340.4h0M555.0 341.3h0M555.1 336.6h0M555.3 337.0h0M555.5 339.9h0M555.8 342.7h0M555.9 343.4h0M556.1 346.9h0M556.3 339.3h0M556.6 337.4h0M556.7 344.5h0M556.9 340.9h0M557.0 332.7h0M557.0 336.0h0M557.2 337.1h0M557.2 344.1h0M557.6 341.4h0M557.7 341.6h0M557.8 340.8h0M557.8 338.5h0M557.9 339.6h0M557.9 350.2h0M558.2 339.9h0M558.5 340.8h0M559.0 342.3h0M559.1 339.6h0M559.2 343.1h0M559.2 332.8h0M559.3 345.0h0M559.3 341.5h0M559.5 344.3h0M559.5 332.2h0M559.5 341.5h0M559.6 337.8h0M559.7 337.4h0M559.7 337.0h0M559.8 335.5h0M559.8 333.2h0M560.0 342.1h0M560.0 339.5h0M560.1 328.0h0M560.7 334.4h0M560.8 339.3h0M561.0 333.5h0M561.3 343.4h0M561.4 346.7h0M561.4 330.1h0M561.4 335.8h0M561.5 343.2h0M561.6 339.2h0M561.6 347.0h0M562.2 344.3h0M562.2 345.4h0M562.4 339.4h0M562.6 339.2h0M562.7 331.5h0M562.8 327.6h0M563.0 338.3h0M563.3 332.6h0M563.5 330.5h0M563.6 334.7h0M564.1 331.6h0M564.1 339.7h0M564.1 338.5h0M564.2 332.1h0M564.3 339.5h0M564.5 333.6h0M564.5 332.5h0M564.5 339.0h0M564.6 342.1h0M564.7 334.7h0M564.7 332.2h0M564.7 345.4h0M565.0 339.9h0M565.0 329.0h0M565.1 338.0h0M565.3 344.3h0M565.4 335.7h0M565.7 340.6h0M565.8 340.9h0M565.9 334.8h0M566.0 342.6h0M566.0 340.8h0M566.1 328.1h0M566.2 340.1h0M566.3 335.9h0M566.7 339.5h0M567.0 328.2h0M567.1 338.8h0M567.1 341.3h0M567.7 344.6h0M567.8 327.2h0M568.0 330.8h0M568.1 337.9h0M568.1 340.0h0M568.2 332.0h0M568.2 345.1h0M568.6 332.8h0M568.8 342.0h0M569.0 338.0h0M569.0 337.1h0M569.6 335.7h0M569.6 346.2h0M569.6 330.5h0M570.1 330.5h0M570.3 342.3h0M570.3 343.3h0M570.8 341.5h0M571.2 332.3h0M571.8 336.0h0M572.0 332.7h0M572.0 335.0h0M572.3 354.4h0M572.4 336.5h0M572.4 336.0h0M572.7 335.0h0M573.1 340.5h0M573.6 328.7h0M573.6 333.3h0M573.8 335.0h0M573.8 335.5h0M573.9 329.7h0M574.1 334.7h0M574.3 336.4h0M574.8 337.7h0M574.8 331.4h0M574.9 334.6h0M575.8 333.9h0M575.9 331.1h0M576.6 332.9h0M576.7 327.3h0M576.8 327.2h0M576.8 331.4h0M576.8 330.9h0M577.0 336.5h0M577.1 336.8h0M577.1 335.5h0M577.2 333.9h0M577.3 335.2h0M577.4 337.0h0M577.5 339.5h0M577.6 337.8h0M577.9 333.4h0M577.9 338.5h0M578.5 328.1h0M578.7 333.7h0M578.7 329.4h0M578.8 329.5h0M579.0 337.0h0M579.1 335.7h0M579.3 339.9h0M579.4 334.9h0M579.6 330.4h0M579.6 328.8h0M580.1 326.6h0M580.3 324.1h0M580.3 333.9h0M580.7 329.4h0M580.7 328.1h0M581.5 333.7h0M582.0 330.4h0M582.0 332.1h0M582.3 322.3h0M582.4 331.9h0M582.7 326.3h0M582.9 325.4h0M583.1 326.7h0M583.4 328.9h0M583.6 336.0h0M583.6 321.7h0M583.6 326.8h0M583.9 327.9h0M584.1 331.7h0M584.3 327.6h0M584.5 329.8h0M584.8 328.8h0M584.9 326.5h0M585.0 327.2h0M585.0 325.4h0M585.2 326.8h0M585.6 332.7h0M585.7 327.2h0M586.1 331.9h0M586.5 324.9h0M586.7 330.6h0M586.8 318.7h0M587.0 332.0h0M587.0 334.6h0M587.5 330.0h0M587.6 325.9h0M587.6 329.7h0M588.1 332.8h0M588.4 334.8h0M588.5 325.7h0M588.9 323.1h0M588.9 328.9h0M589.3 327.6h0M590.0 336.0h0M590.1 325.3h0M590.3 324.8h0M590.4 329.6h0M590.4 331.1h0M590.6 324.9h0M590.8 329.0h0M590.8 332.8h0M590.8 332.8h0M591.2 323.9h0M591.6 332.5h0M591.8 324.9h0M592.6 327.3h0M592.6 327.7h0M592.9 331.7h0M593.1 324.4h0M593.3 331.0h0M593.5 325.0h0M593.6 327.8h0M594.1 321.1h0M594.4 321.1h0M594.4 329.1h0M594.9 331.8h0M595.3 325.9h0M595.8 328.0h0M595.9 323.1h0M596.2 327.0h0M596.6 326.5h0M598.1 323.7h0M598.6 324.6h0M598.9 321.3h0M599.2 321.5h0M599.3 321.9h0M599.5 328.9h0M599.7 325.6h0M600.6 324.7h0M601.0 320.2h0M601.1 322.3h0M601.3 324.3h0M601.4 316.2h0M601.9 326.1h0M602.4 310.6h0M602.6 319.5h0M602.7 320.4h0M603.9 320.5h0M604.3 321.1h0M604.8 315.8h0M604.9 317.8h0M605.1 321.6h0M605.4 327.0h0M605.6 329.8h0M606.1 323.8h0M606.7 320.1h0M606.9 320.5h0M607.4 315.7h0M607.5 320.0h0M607.8 315.1h0M609.0 314.0h0M611.5 325.7h0M611.7 322.8h0M612.9 318.6h0M613.0 324.0h0M613.5 317.2h0M613.5 319.4h0M613.6 321.0h0M614.1 310.7h0M614.5 320.1h0M614.7 321.8h0M615.3 308.9h0M615.9 313.8h0M617.3 313.1h0M619.1 318.4h0M619.4 314.3h0M620.2 317.3h0M620.5 316.7h0M620.9 318.3h0M621.3 310.2h0M621.4 309.6h0M622.1 313.9h0M622.3 313.4h0M622.3 312.4h0M623.2 313.8h0M623.7 307.4h0M623.8 307.5h0M564.0 353.7h0M572.1 353.2h0M565.5 350.5h0M717.8 275.3h0M685.1 280.8h0M681.8 290.5h0M687.6 291.1h0M676.0 295.1h0M668.1 295.4h0M663.8 299.5h0M662.8 298.9h0M663.2 309.8h0M654.7 295.8h0M655.8 308.8h0M647.4 300.1h0M645.6 309.1h0M645.9 312.9h0M641.3 298.0h0M634.3 310.1h0M629.3 312.1h0M626.7 312.6h0"/>
</g>
<path class="one" d="M553.10 450.50H774.00"/>
<g clip-path="url(#cs2)">
<path class="rk" d="M586.8 466.1h0M567.1 458.1h0M561.6 454.2h0M561.4 449.0h0M560.8 454.6h0M560.7 450.9h0M559.8 465.9h0M559.1 451.6h0M559.0 449.2h0M558.5 443.2h0M557.9 477.8h0M557.9 461.9h0M557.8 455.4h0M557.6 454.2h0M557.0 454.0h0M556.9 451.0h0M555.9 459.5h0M555.0 456.4h0M554.8 460.0h0M554.3 453.9h0M554.2 450.4h0M553.8 461.8h0M553.4 452.5h0M553.1 460.5h0"/><path class="rc" d="M586.8 466.1h0M567.1 458.1h0M561.6 454.2h0M561.4 449.0h0M560.8 454.6h0M560.7 450.9h0M559.8 465.9h0M559.1 451.6h0M559.0 449.2h0M558.5 443.2h0M557.9 477.8h0M557.9 461.9h0M557.8 455.4h0M557.6 454.2h0M557.0 454.0h0M556.9 451.0h0M555.9 459.5h0M555.0 456.4h0M554.8 460.0h0M554.3 453.9h0M554.2 450.4h0M553.8 461.8h0M553.4 452.5h0M553.1 460.5h0"/>
</g>
<rect class="fr" x="553.10" y="270.90" width="220.90" height="207.90"/>
<path class="fr" d="M553.10 422.00H774.00"/>
<path class="tk" d="M563.27 270.90v1.50M571.41 270.90v1.50M578.06 270.90v1.50M583.69 270.90v1.50M588.56 270.90v1.50M592.86 270.90v1.50M596.70 270.90v3.00M621.99 270.90v1.50M636.78 270.90v1.50M647.27 270.90v1.50M655.41 270.90v1.50M662.06 270.90v1.50M667.69 270.90v1.50M672.56 270.90v1.50M676.86 270.90v1.50M680.70 270.90v3.00M705.99 270.90v1.50M720.78 270.90v1.50M731.27 270.90v1.50M739.41 270.90v1.50M746.06 270.90v1.50M751.69 270.90v1.50M756.56 270.90v1.50M760.86 270.90v1.50M764.70 270.90v3.00M563.27 422.00v-1.50M571.41 422.00v-1.50M578.06 422.00v-1.50M583.69 422.00v-1.50M588.56 422.00v-1.50M592.86 422.00v-1.50M596.70 422.00v-3.00M621.99 422.00v-1.50M636.78 422.00v-1.50M647.27 422.00v-1.50M655.41 422.00v-1.50M662.06 422.00v-1.50M667.69 422.00v-1.50M672.56 422.00v-1.50M676.86 422.00v-1.50M680.70 422.00v-3.00M705.99 422.00v-1.50M720.78 422.00v-1.50M731.27 422.00v-1.50M739.41 422.00v-1.50M746.06 422.00v-1.50M751.69 422.00v-1.50M756.56 422.00v-1.50M760.86 422.00v-1.50M764.70 422.00v-3.00M563.27 422.00v0.60M571.41 422.00v0.60M578.06 422.00v0.60M583.69 422.00v0.60M588.56 422.00v0.60M592.86 422.00v0.60M596.70 422.00v1.20M621.99 422.00v0.60M636.78 422.00v0.60M647.27 422.00v0.60M655.41 422.00v0.60M662.06 422.00v0.60M667.69 422.00v0.60M672.56 422.00v0.60M676.86 422.00v0.60M680.70 422.00v1.20M705.99 422.00v0.60M720.78 422.00v0.60M731.27 422.00v0.60M739.41 422.00v0.60M746.06 422.00v0.60M751.69 422.00v0.60M756.56 422.00v0.60M760.86 422.00v0.60M764.70 422.00v1.20M563.27 478.80v-0.80M571.41 478.80v-0.80M578.06 478.80v-0.80M583.69 478.80v-0.80M588.56 478.80v-0.80M592.86 478.80v-0.80M596.70 478.80v-1.60M621.99 478.80v-0.80M636.78 478.80v-0.80M647.27 478.80v-0.80M655.41 478.80v-0.80M662.06 478.80v-0.80M667.69 478.80v-0.80M672.56 478.80v-0.80M676.86 478.80v-0.80M680.70 478.80v-1.60M705.99 478.80v-0.80M720.78 478.80v-0.80M731.27 478.80v-0.80M739.41 478.80v-0.80M746.06 478.80v-0.80M751.69 478.80v-0.80M756.56 478.80v-0.80M760.86 478.80v-0.80M764.70 478.80v-1.60M553.10 411.42h2.20M774.00 411.42h-2.20M553.10 404.72h2.20M774.00 404.72h-2.20M553.10 399.96h2.20M774.00 399.96h-2.20M553.10 396.27h2.20M774.00 396.27h-2.20M553.10 393.26h2.20M774.00 393.26h-2.20M553.10 390.71h2.20M774.00 390.71h-2.20M553.10 388.50h2.20M774.00 388.50h-2.20M553.10 386.55h2.20M774.00 386.55h-2.20M553.10 384.81h4.50M774.00 384.81h-4.50M553.10 373.35h2.20M774.00 373.35h-2.20M553.10 366.65h2.20M774.00 366.65h-2.20M553.10 361.89h2.20M774.00 361.89h-2.20M553.10 358.20h2.20M774.00 358.20h-2.20M553.10 355.19h2.20M774.00 355.19h-2.20M553.10 352.64h2.20M774.00 352.64h-2.20M553.10 350.43h2.20M774.00 350.43h-2.20M553.10 348.48h2.20M774.00 348.48h-2.20M553.10 346.74h4.50M774.00 346.74h-4.50M553.10 335.28h2.20M774.00 335.28h-2.20M553.10 328.58h2.20M774.00 328.58h-2.20M553.10 323.82h2.20M774.00 323.82h-2.20M553.10 320.13h2.20M774.00 320.13h-2.20M553.10 317.12h2.20M774.00 317.12h-2.20M553.10 314.57h2.20M774.00 314.57h-2.20M553.10 312.36h2.20M774.00 312.36h-2.20M553.10 310.41h2.20M774.00 310.41h-2.20M553.10 308.67h4.50M774.00 308.67h-4.50M553.10 297.21h2.20M774.00 297.21h-2.20M553.10 290.51h2.20M774.00 290.51h-2.20M553.10 285.75h2.20M774.00 285.75h-2.20M553.10 282.06h2.20M774.00 282.06h-2.20M553.10 279.05h2.20M774.00 279.05h-2.20M553.10 276.50h2.20M774.00 276.50h-2.20M553.10 274.29h2.20M774.00 274.29h-2.20M553.10 272.34h2.20M774.00 272.34h-2.20M553.10 270.60h4.50M774.00 270.60h-4.50M553.10 436.93h4.5M774.00 436.93h-4.5M553.10 450.50h4.5M774.00 450.50h-4.5M553.10 465.38h4.5M774.00 465.38h-4.5"/>
<text x="550.50" y="276.70" font-size="10.40" text-anchor="end">1000</text>
<text x="550.50" y="312.17" font-size="10.40" text-anchor="end">100</text>
<text x="550.50" y="350.24" font-size="10.40" text-anchor="end">10</text>
<text x="550.50" y="388.31" font-size="10.40" text-anchor="end">1</text>
<text x="550.50" y="428.10" font-size="10.40" text-anchor="end">10.0</text>
<text x="550.50" y="440.60" font-size="10.40" text-anchor="end">3.0</text>
<text x="550.50" y="453.70" font-size="10.40" text-anchor="end">1.0</text>
<text x="550.50" y="468.30" font-size="10.40" text-anchor="end">0.3</text>
<text x="550.50" y="478.50" font-size="10.40" text-anchor="end">0.1</text>
<text x="596.90" y="491.80" font-size="10.40" text-anchor="middle">10<tspan dy="-4.8" font-size="6.6">12</tspan></text>
<text x="680.90" y="491.80" font-size="10.40" text-anchor="middle">10<tspan dy="-4.8" font-size="6.6">13</tspan></text>
<text x="764.90" y="491.80" font-size="10.40" text-anchor="middle">10<tspan dy="-4.8" font-size="6.6">14</tspan></text>
<text x="663.55" y="502.70" font-size="10.40" text-anchor="middle">M200 (M<tspan dy="2.5" font-size="6.6">sun</tspan><tspan dy="-2.5">)</tspan></text>
<text transform="translate(18.00 107.00) rotate(-90)" font-size="10.70" text-anchor="middle">M<tspan dy="2.5" font-size="6.1">cold,</tspan><tspan dy="-2.5"> mod &amp; sim (M</tspan><tspan dy="2.5" font-size="6.1">sun</tspan><tspan dy="-2.5">)</tspan></text>
<text transform="translate(22.00 210.60) rotate(-90)" font-size="10.40" text-anchor="middle">mod/sim</text>
<text transform="translate(14.00 345.90) rotate(-90)" font-size="10.70" text-anchor="middle">dM<tspan dy="2.5" font-size="6.1">cool</tspan><tspan dy="-2.5">/dt, mod &amp; sim (M</tspan><tspan dy="2.5" font-size="6.1">sun</tspan><tspan dy="-2.5">/yr)</tspan></text>
<text transform="translate(15.80 450.10) rotate(-90)" font-size="10.40" text-anchor="middle">mod/sim</text>
</svg></body></html>
